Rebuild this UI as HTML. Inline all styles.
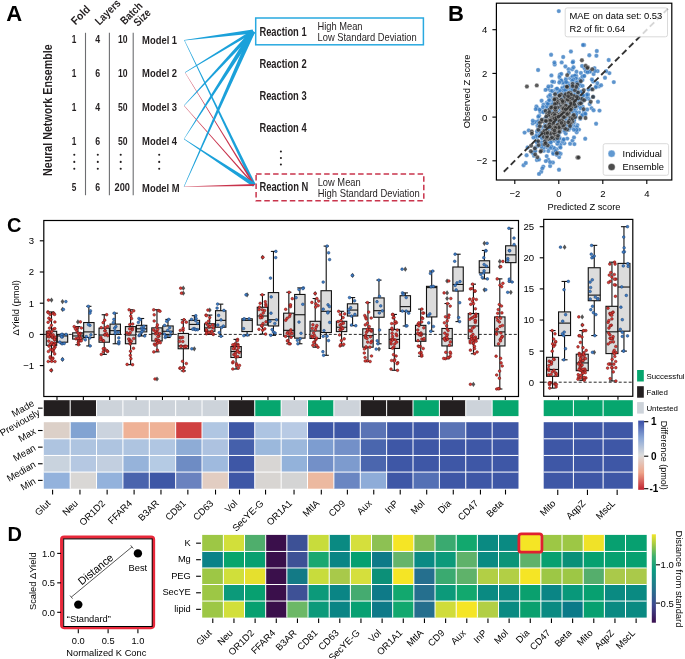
<!DOCTYPE html>
<html><head><meta charset="utf-8"><style>
html,body{margin:0;padding:0;background:#fff;}
svg{display:block;font-family:"Liberation Sans",sans-serif;will-change:transform;}
</style></head><body>
<svg width="685" height="659" viewBox="0 0 685 659">
<text x="6.30" y="21.30" font-size="22" font-weight="bold">A</text>
<text x="75.60" y="25.40" font-size="11.2" font-weight="bold" fill="#231f20" textLength="21.8" lengthAdjust="spacingAndGlyphs" transform="rotate(-45 75.60 25.40)">Fold</text>
<text x="99.40" y="25.80" font-size="11.2" font-weight="bold" fill="#231f20" textLength="31" lengthAdjust="spacingAndGlyphs" transform="rotate(-45 99.40 25.80)">Layers</text>
<text x="124.80" y="25.20" font-size="11.2" font-weight="bold" fill="#231f20" textLength="26" lengthAdjust="spacingAndGlyphs" transform="rotate(-45 124.80 25.20)">Batch</text>
<text x="138.10" y="26.90" font-size="11.2" font-weight="bold" fill="#231f20" textLength="19" lengthAdjust="spacingAndGlyphs" transform="rotate(-45 138.10 26.90)">Size</text>
<line x1="85.50" y1="32.80" x2="85.50" y2="195.20" stroke="#6d6e71" stroke-width="1.1"/>
<line x1="109.40" y1="32.80" x2="109.40" y2="195.20" stroke="#6d6e71" stroke-width="1.1"/>
<line x1="133.20" y1="32.80" x2="133.20" y2="195.20" stroke="#6d6e71" stroke-width="1.1"/>
<text x="74.00" y="42.70" font-size="10.5" font-weight="bold" text-anchor="middle" fill="#231f20" textLength="4.6" lengthAdjust="spacingAndGlyphs">1</text>
<text x="97.80" y="42.70" font-size="10.5" font-weight="bold" text-anchor="middle" fill="#231f20" textLength="4.9" lengthAdjust="spacingAndGlyphs">4</text>
<text x="122.70" y="42.70" font-size="10.5" font-weight="bold" text-anchor="middle" fill="#231f20" textLength="9.6" lengthAdjust="spacingAndGlyphs">10</text>
<text x="74.00" y="76.50" font-size="10.5" font-weight="bold" text-anchor="middle" fill="#231f20" textLength="4.6" lengthAdjust="spacingAndGlyphs">1</text>
<text x="97.80" y="76.50" font-size="10.5" font-weight="bold" text-anchor="middle" fill="#231f20" textLength="4.9" lengthAdjust="spacingAndGlyphs">6</text>
<text x="122.70" y="76.50" font-size="10.5" font-weight="bold" text-anchor="middle" fill="#231f20" textLength="9.6" lengthAdjust="spacingAndGlyphs">10</text>
<text x="74.00" y="110.50" font-size="10.5" font-weight="bold" text-anchor="middle" fill="#231f20" textLength="4.6" lengthAdjust="spacingAndGlyphs">1</text>
<text x="97.80" y="110.50" font-size="10.5" font-weight="bold" text-anchor="middle" fill="#231f20" textLength="4.9" lengthAdjust="spacingAndGlyphs">4</text>
<text x="122.70" y="110.50" font-size="10.5" font-weight="bold" text-anchor="middle" fill="#231f20" textLength="9.6" lengthAdjust="spacingAndGlyphs">50</text>
<text x="74.00" y="144.50" font-size="10.5" font-weight="bold" text-anchor="middle" fill="#231f20" textLength="4.6" lengthAdjust="spacingAndGlyphs">1</text>
<text x="97.80" y="144.50" font-size="10.5" font-weight="bold" text-anchor="middle" fill="#231f20" textLength="4.9" lengthAdjust="spacingAndGlyphs">6</text>
<text x="122.70" y="144.50" font-size="10.5" font-weight="bold" text-anchor="middle" fill="#231f20" textLength="9.6" lengthAdjust="spacingAndGlyphs">50</text>
<text x="74.00" y="191.00" font-size="10.5" font-weight="bold" text-anchor="middle" fill="#231f20" textLength="4.6" lengthAdjust="spacingAndGlyphs">5</text>
<text x="97.80" y="191.00" font-size="10.5" font-weight="bold" text-anchor="middle" fill="#231f20" textLength="4.9" lengthAdjust="spacingAndGlyphs">6</text>
<text x="122.30" y="191.00" font-size="10.5" font-weight="bold" text-anchor="middle" fill="#231f20" textLength="15.4" lengthAdjust="spacingAndGlyphs">200</text>
<text x="142.10" y="43.60" font-size="11.5" font-weight="bold" fill="#231f20" textLength="35" lengthAdjust="spacingAndGlyphs">Model 1</text>
<text x="142.10" y="77.40" font-size="11.5" font-weight="bold" fill="#231f20" textLength="35" lengthAdjust="spacingAndGlyphs">Model 2</text>
<text x="142.10" y="111.40" font-size="11.5" font-weight="bold" fill="#231f20" textLength="35" lengthAdjust="spacingAndGlyphs">Model 3</text>
<text x="142.10" y="145.40" font-size="11.5" font-weight="bold" fill="#231f20" textLength="35" lengthAdjust="spacingAndGlyphs">Model 4</text>
<text x="142.10" y="191.90" font-size="11.5" font-weight="bold" fill="#231f20" textLength="37.5" lengthAdjust="spacingAndGlyphs">Model M</text>
<circle cx="74.3" cy="154.8" r="1.05" fill="#231f20"/>
<circle cx="74.3" cy="161.9" r="1.05" fill="#231f20"/>
<circle cx="74.3" cy="168.7" r="1.05" fill="#231f20"/>
<circle cx="97.8" cy="154.8" r="1.05" fill="#231f20"/>
<circle cx="97.8" cy="161.9" r="1.05" fill="#231f20"/>
<circle cx="97.8" cy="168.7" r="1.05" fill="#231f20"/>
<circle cx="120.7" cy="154.8" r="1.05" fill="#231f20"/>
<circle cx="120.7" cy="161.9" r="1.05" fill="#231f20"/>
<circle cx="120.7" cy="168.7" r="1.05" fill="#231f20"/>
<circle cx="159.2" cy="154.8" r="1.05" fill="#231f20"/>
<circle cx="159.2" cy="161.9" r="1.05" fill="#231f20"/>
<circle cx="159.2" cy="168.7" r="1.05" fill="#231f20"/>
<circle cx="280.9" cy="151.5" r="1.05" fill="#231f20"/>
<circle cx="280.9" cy="158.0" r="1.05" fill="#231f20"/>
<circle cx="280.9" cy="164.5" r="1.05" fill="#231f20"/>
<text x="52.40" y="176.00" font-size="13" font-weight="bold" fill="#231f20" textLength="131.7" lengthAdjust="spacingAndGlyphs" transform="rotate(-90 52.40 176.00)">Neural Network Ensemble</text>
<polygon points="184.12,40.29 252.76,185.70 255.64,184.30 184.48,40.11" fill="#1ba1da"/>
<polygon points="184.87,72.58 253.52,185.42 254.88,184.58 185.13,72.42" fill="#c8324b"/>
<polygon points="183.89,105.70 253.60,185.53 254.80,184.47 184.11,105.50" fill="#c8324b"/>
<polygon points="183.89,139.17 253.10,186.67 255.30,183.33 184.11,138.83" fill="#1ba1da"/>
<polygon points="184.00,186.85 254.22,185.90 254.18,184.10 184.00,186.55" fill="#c8324b"/>
<polygon points="184.33,40.40 253.25,33.38 252.75,29.42 184.27,40.00" fill="#1ba1da"/>
<polygon points="185.10,72.67 253.78,32.68 252.22,30.12 184.90,72.33" fill="#1ba1da"/>
<polygon points="184.15,105.74 254.54,32.83 251.46,29.97 183.85,105.46" fill="#1ba1da"/>
<polygon points="184.17,139.11 255.10,32.75 250.90,30.05 183.83,138.89" fill="#1ba1da"/>
<polygon points="184.18,186.78 255.10,32.33 250.90,30.47 183.82,186.62" fill="#1ba1da"/>
<text x="259.40" y="36.00" font-size="12.5" font-weight="bold" fill="#231f20" textLength="47.2" lengthAdjust="spacingAndGlyphs">Reaction 1</text>
<text x="259.40" y="68.30" font-size="12.5" font-weight="bold" fill="#231f20" textLength="47.2" lengthAdjust="spacingAndGlyphs">Reaction 2</text>
<text x="259.40" y="100.30" font-size="12.5" font-weight="bold" fill="#231f20" textLength="47.2" lengthAdjust="spacingAndGlyphs">Reaction 3</text>
<text x="259.40" y="132.20" font-size="12.5" font-weight="bold" fill="#231f20" textLength="47.2" lengthAdjust="spacingAndGlyphs">Reaction 4</text>
<text x="259.40" y="191.00" font-size="12.5" font-weight="bold" fill="#231f20" textLength="49" lengthAdjust="spacingAndGlyphs">Reaction N</text>
<rect x="255.70" y="18.00" width="167.70" height="26.80" fill="none" stroke="#29a9e0" stroke-width="1.5"/>
<rect x="256.1" y="174.0" width="167.7" height="26.8" fill="none" stroke="#c9344c" stroke-width="1.5" stroke-dasharray="5.5 3"/>
<text x="317.50" y="29.90" font-size="11" fill="#231f20" textLength="45" lengthAdjust="spacingAndGlyphs">High Mean</text>
<text x="317.50" y="41.00" font-size="11" fill="#231f20" textLength="99.2" lengthAdjust="spacingAndGlyphs">Low Standard Deviation</text>
<text x="317.70" y="185.50" font-size="11" fill="#231f20" textLength="43" lengthAdjust="spacingAndGlyphs">Low Mean</text>
<text x="317.70" y="196.90" font-size="11" fill="#231f20" textLength="102" lengthAdjust="spacingAndGlyphs">High Standard Deviation</text>
<text x="448.00" y="21.00" font-size="22" font-weight="bold">B</text>
<g>
<circle cx="543.7" cy="120.9" r="2.2" fill="#3479c0" fill-opacity="0.8" stroke="#fff" stroke-width="0.3"/>
<circle cx="575.9" cy="109.7" r="2.2" fill="#3479c0" fill-opacity="0.8" stroke="#fff" stroke-width="0.3"/>
<circle cx="542.1" cy="130.2" r="2.2" fill="#3479c0" fill-opacity="0.8" stroke="#fff" stroke-width="0.3"/>
<circle cx="568.4" cy="87.2" r="2.2" fill="#3479c0" fill-opacity="0.8" stroke="#fff" stroke-width="0.3"/>
<circle cx="543.8" cy="150.8" r="2.2" fill="#3479c0" fill-opacity="0.8" stroke="#fff" stroke-width="0.3"/>
<circle cx="571.7" cy="95.5" r="2.2" fill="#3479c0" fill-opacity="0.8" stroke="#fff" stroke-width="0.3"/>
<circle cx="583.7" cy="76.3" r="2.2" fill="#3479c0" fill-opacity="0.8" stroke="#fff" stroke-width="0.3"/>
<circle cx="560.0" cy="118.8" r="2.2" fill="#3479c0" fill-opacity="0.8" stroke="#fff" stroke-width="0.3"/>
<circle cx="598.8" cy="86.4" r="2.2" fill="#3479c0" fill-opacity="0.8" stroke="#fff" stroke-width="0.3"/>
<circle cx="550.0" cy="142.7" r="2.2" fill="#3479c0" fill-opacity="0.8" stroke="#fff" stroke-width="0.3"/>
<circle cx="562.8" cy="108.9" r="2.2" fill="#3479c0" fill-opacity="0.8" stroke="#fff" stroke-width="0.3"/>
<circle cx="556.4" cy="118.0" r="2.2" fill="#3479c0" fill-opacity="0.8" stroke="#fff" stroke-width="0.3"/>
<circle cx="565.4" cy="96.9" r="2.2" fill="#3479c0" fill-opacity="0.8" stroke="#fff" stroke-width="0.3"/>
<circle cx="577.4" cy="95.5" r="2.2" fill="#3479c0" fill-opacity="0.8" stroke="#fff" stroke-width="0.3"/>
<circle cx="535.5" cy="122.1" r="2.2" fill="#3479c0" fill-opacity="0.8" stroke="#fff" stroke-width="0.3"/>
<circle cx="540.8" cy="133.2" r="2.2" fill="#3479c0" fill-opacity="0.8" stroke="#fff" stroke-width="0.3"/>
<circle cx="540.0" cy="130.7" r="2.2" fill="#3479c0" fill-opacity="0.8" stroke="#fff" stroke-width="0.3"/>
<circle cx="550.1" cy="118.4" r="2.2" fill="#3479c0" fill-opacity="0.8" stroke="#fff" stroke-width="0.3"/>
<circle cx="609.4" cy="73.1" r="2.2" fill="#3479c0" fill-opacity="0.8" stroke="#fff" stroke-width="0.3"/>
<circle cx="573.7" cy="126.1" r="2.2" fill="#3479c0" fill-opacity="0.8" stroke="#fff" stroke-width="0.3"/>
<circle cx="557.3" cy="104.3" r="2.2" fill="#3479c0" fill-opacity="0.8" stroke="#fff" stroke-width="0.3"/>
<circle cx="560.1" cy="107.2" r="2.2" fill="#3479c0" fill-opacity="0.8" stroke="#fff" stroke-width="0.3"/>
<circle cx="562.9" cy="129.4" r="2.2" fill="#3479c0" fill-opacity="0.8" stroke="#fff" stroke-width="0.3"/>
<circle cx="569.6" cy="120.3" r="2.2" fill="#3479c0" fill-opacity="0.8" stroke="#fff" stroke-width="0.3"/>
<circle cx="588.6" cy="98.8" r="2.2" fill="#3479c0" fill-opacity="0.8" stroke="#fff" stroke-width="0.3"/>
<circle cx="571.4" cy="104.2" r="2.2" fill="#3479c0" fill-opacity="0.8" stroke="#fff" stroke-width="0.3"/>
<circle cx="575.3" cy="111.8" r="2.2" fill="#3479c0" fill-opacity="0.8" stroke="#fff" stroke-width="0.3"/>
<circle cx="575.9" cy="102.7" r="2.2" fill="#3479c0" fill-opacity="0.8" stroke="#fff" stroke-width="0.3"/>
<circle cx="579.8" cy="86.0" r="2.2" fill="#3479c0" fill-opacity="0.8" stroke="#fff" stroke-width="0.3"/>
<circle cx="563.5" cy="124.9" r="2.2" fill="#3479c0" fill-opacity="0.8" stroke="#fff" stroke-width="0.3"/>
<circle cx="572.6" cy="94.9" r="2.2" fill="#3479c0" fill-opacity="0.8" stroke="#fff" stroke-width="0.3"/>
<circle cx="585.3" cy="99.3" r="2.2" fill="#3479c0" fill-opacity="0.8" stroke="#fff" stroke-width="0.3"/>
<circle cx="569.5" cy="96.8" r="2.2" fill="#3479c0" fill-opacity="0.8" stroke="#fff" stroke-width="0.3"/>
<circle cx="565.5" cy="105.5" r="2.2" fill="#3479c0" fill-opacity="0.8" stroke="#fff" stroke-width="0.3"/>
<circle cx="564.1" cy="121.2" r="2.2" fill="#3479c0" fill-opacity="0.8" stroke="#fff" stroke-width="0.3"/>
<circle cx="546.7" cy="132.2" r="2.2" fill="#3479c0" fill-opacity="0.8" stroke="#fff" stroke-width="0.3"/>
<circle cx="570.0" cy="78.4" r="2.2" fill="#3479c0" fill-opacity="0.8" stroke="#fff" stroke-width="0.3"/>
<circle cx="575.6" cy="81.8" r="2.2" fill="#3479c0" fill-opacity="0.8" stroke="#fff" stroke-width="0.3"/>
<circle cx="572.7" cy="90.6" r="2.2" fill="#3479c0" fill-opacity="0.8" stroke="#fff" stroke-width="0.3"/>
<circle cx="564.1" cy="96.6" r="2.2" fill="#3479c0" fill-opacity="0.8" stroke="#fff" stroke-width="0.3"/>
<circle cx="587.2" cy="96.8" r="2.2" fill="#3479c0" fill-opacity="0.8" stroke="#fff" stroke-width="0.3"/>
<circle cx="551.4" cy="86.1" r="2.2" fill="#3479c0" fill-opacity="0.8" stroke="#fff" stroke-width="0.3"/>
<circle cx="565.0" cy="92.3" r="2.2" fill="#3479c0" fill-opacity="0.8" stroke="#fff" stroke-width="0.3"/>
<circle cx="574.1" cy="122.3" r="2.2" fill="#3479c0" fill-opacity="0.8" stroke="#fff" stroke-width="0.3"/>
<circle cx="596.8" cy="51.0" r="2.2" fill="#3479c0" fill-opacity="0.8" stroke="#fff" stroke-width="0.3"/>
<circle cx="564.0" cy="97.0" r="2.2" fill="#3479c0" fill-opacity="0.8" stroke="#fff" stroke-width="0.3"/>
<circle cx="563.3" cy="127.0" r="2.2" fill="#3479c0" fill-opacity="0.8" stroke="#fff" stroke-width="0.3"/>
<circle cx="559.8" cy="107.4" r="2.2" fill="#3479c0" fill-opacity="0.8" stroke="#fff" stroke-width="0.3"/>
<circle cx="577.6" cy="86.3" r="2.2" fill="#3479c0" fill-opacity="0.8" stroke="#fff" stroke-width="0.3"/>
<circle cx="562.3" cy="87.7" r="2.2" fill="#3479c0" fill-opacity="0.8" stroke="#fff" stroke-width="0.3"/>
<circle cx="550.4" cy="107.8" r="2.2" fill="#3479c0" fill-opacity="0.8" stroke="#fff" stroke-width="0.3"/>
<circle cx="577.6" cy="104.3" r="2.2" fill="#3479c0" fill-opacity="0.8" stroke="#fff" stroke-width="0.3"/>
<circle cx="535.4" cy="150.9" r="2.2" fill="#3479c0" fill-opacity="0.8" stroke="#fff" stroke-width="0.3"/>
<circle cx="564.9" cy="100.3" r="2.2" fill="#3479c0" fill-opacity="0.8" stroke="#fff" stroke-width="0.3"/>
<circle cx="583.9" cy="111.7" r="2.2" fill="#3479c0" fill-opacity="0.8" stroke="#fff" stroke-width="0.3"/>
<circle cx="561.5" cy="101.0" r="2.2" fill="#3479c0" fill-opacity="0.8" stroke="#fff" stroke-width="0.3"/>
<circle cx="559.2" cy="157.1" r="2.2" fill="#3479c0" fill-opacity="0.8" stroke="#fff" stroke-width="0.3"/>
<circle cx="573.1" cy="61.4" r="2.2" fill="#3479c0" fill-opacity="0.8" stroke="#fff" stroke-width="0.3"/>
<circle cx="576.0" cy="116.8" r="2.2" fill="#3479c0" fill-opacity="0.8" stroke="#fff" stroke-width="0.3"/>
<circle cx="555.5" cy="113.8" r="2.2" fill="#3479c0" fill-opacity="0.8" stroke="#fff" stroke-width="0.3"/>
<circle cx="597.6" cy="71.1" r="2.2" fill="#3479c0" fill-opacity="0.8" stroke="#fff" stroke-width="0.3"/>
<circle cx="563.1" cy="83.4" r="2.2" fill="#3479c0" fill-opacity="0.8" stroke="#fff" stroke-width="0.3"/>
<circle cx="560.3" cy="80.3" r="2.2" fill="#3479c0" fill-opacity="0.8" stroke="#fff" stroke-width="0.3"/>
<circle cx="551.5" cy="129.6" r="2.2" fill="#3479c0" fill-opacity="0.8" stroke="#fff" stroke-width="0.3"/>
<circle cx="571.9" cy="78.3" r="2.2" fill="#3479c0" fill-opacity="0.8" stroke="#fff" stroke-width="0.3"/>
<circle cx="570.9" cy="99.3" r="2.2" fill="#3479c0" fill-opacity="0.8" stroke="#fff" stroke-width="0.3"/>
<circle cx="535.0" cy="147.8" r="2.2" fill="#3479c0" fill-opacity="0.8" stroke="#fff" stroke-width="0.3"/>
<circle cx="552.6" cy="129.7" r="2.2" fill="#3479c0" fill-opacity="0.8" stroke="#fff" stroke-width="0.3"/>
<circle cx="570.0" cy="111.5" r="2.2" fill="#3479c0" fill-opacity="0.8" stroke="#fff" stroke-width="0.3"/>
<circle cx="572.9" cy="101.6" r="2.2" fill="#3479c0" fill-opacity="0.8" stroke="#fff" stroke-width="0.3"/>
<circle cx="556.6" cy="114.6" r="2.2" fill="#3479c0" fill-opacity="0.8" stroke="#fff" stroke-width="0.3"/>
<circle cx="567.7" cy="92.1" r="2.2" fill="#3479c0" fill-opacity="0.8" stroke="#fff" stroke-width="0.3"/>
<circle cx="554.5" cy="122.7" r="2.2" fill="#3479c0" fill-opacity="0.8" stroke="#fff" stroke-width="0.3"/>
<circle cx="541.6" cy="100.7" r="2.2" fill="#3479c0" fill-opacity="0.8" stroke="#fff" stroke-width="0.3"/>
<circle cx="582.5" cy="98.1" r="2.2" fill="#3479c0" fill-opacity="0.8" stroke="#fff" stroke-width="0.3"/>
<circle cx="554.5" cy="140.7" r="2.2" fill="#3479c0" fill-opacity="0.8" stroke="#fff" stroke-width="0.3"/>
<circle cx="563.9" cy="106.9" r="2.2" fill="#3479c0" fill-opacity="0.8" stroke="#fff" stroke-width="0.3"/>
<circle cx="593.1" cy="81.5" r="2.2" fill="#3479c0" fill-opacity="0.8" stroke="#fff" stroke-width="0.3"/>
<circle cx="550.1" cy="166.0" r="2.2" fill="#3479c0" fill-opacity="0.8" stroke="#fff" stroke-width="0.3"/>
<circle cx="581.9" cy="92.0" r="2.2" fill="#3479c0" fill-opacity="0.8" stroke="#fff" stroke-width="0.3"/>
<circle cx="538.1" cy="129.2" r="2.2" fill="#3479c0" fill-opacity="0.8" stroke="#fff" stroke-width="0.3"/>
<circle cx="538.1" cy="70.0" r="2.2" fill="#3479c0" fill-opacity="0.8" stroke="#fff" stroke-width="0.3"/>
<circle cx="577.7" cy="88.7" r="2.2" fill="#3479c0" fill-opacity="0.8" stroke="#fff" stroke-width="0.3"/>
<circle cx="558.9" cy="153.2" r="2.2" fill="#3479c0" fill-opacity="0.8" stroke="#fff" stroke-width="0.3"/>
<circle cx="559.6" cy="142.1" r="2.2" fill="#3479c0" fill-opacity="0.8" stroke="#fff" stroke-width="0.3"/>
<circle cx="570.1" cy="143.7" r="2.2" fill="#3479c0" fill-opacity="0.8" stroke="#fff" stroke-width="0.3"/>
<circle cx="548.3" cy="102.0" r="2.2" fill="#3479c0" fill-opacity="0.8" stroke="#fff" stroke-width="0.3"/>
<circle cx="585.3" cy="113.7" r="2.2" fill="#3479c0" fill-opacity="0.8" stroke="#fff" stroke-width="0.3"/>
<circle cx="539.2" cy="115.7" r="2.2" fill="#3479c0" fill-opacity="0.8" stroke="#fff" stroke-width="0.3"/>
<circle cx="573.8" cy="119.9" r="2.2" fill="#3479c0" fill-opacity="0.8" stroke="#fff" stroke-width="0.3"/>
<circle cx="551.4" cy="133.6" r="2.2" fill="#3479c0" fill-opacity="0.8" stroke="#fff" stroke-width="0.3"/>
<circle cx="544.2" cy="139.5" r="2.2" fill="#3479c0" fill-opacity="0.8" stroke="#fff" stroke-width="0.3"/>
<circle cx="579.6" cy="85.0" r="2.2" fill="#3479c0" fill-opacity="0.8" stroke="#fff" stroke-width="0.3"/>
<circle cx="591.3" cy="89.0" r="2.2" fill="#3479c0" fill-opacity="0.8" stroke="#fff" stroke-width="0.3"/>
<circle cx="559.5" cy="131.9" r="2.2" fill="#3479c0" fill-opacity="0.8" stroke="#fff" stroke-width="0.3"/>
<circle cx="559.6" cy="137.7" r="2.2" fill="#3479c0" fill-opacity="0.8" stroke="#fff" stroke-width="0.3"/>
<circle cx="535.6" cy="122.0" r="2.2" fill="#3479c0" fill-opacity="0.8" stroke="#fff" stroke-width="0.3"/>
<circle cx="582.4" cy="80.0" r="2.2" fill="#3479c0" fill-opacity="0.8" stroke="#fff" stroke-width="0.3"/>
<circle cx="580.8" cy="91.8" r="2.2" fill="#3479c0" fill-opacity="0.8" stroke="#fff" stroke-width="0.3"/>
<circle cx="551.0" cy="119.9" r="2.2" fill="#3479c0" fill-opacity="0.8" stroke="#fff" stroke-width="0.3"/>
<circle cx="556.0" cy="137.2" r="2.2" fill="#3479c0" fill-opacity="0.8" stroke="#fff" stroke-width="0.3"/>
<circle cx="536.9" cy="160.0" r="2.2" fill="#3479c0" fill-opacity="0.8" stroke="#fff" stroke-width="0.3"/>
<circle cx="561.4" cy="110.1" r="2.2" fill="#3479c0" fill-opacity="0.8" stroke="#fff" stroke-width="0.3"/>
<circle cx="554.5" cy="92.9" r="2.2" fill="#3479c0" fill-opacity="0.8" stroke="#fff" stroke-width="0.3"/>
<circle cx="564.0" cy="100.0" r="2.2" fill="#3479c0" fill-opacity="0.8" stroke="#fff" stroke-width="0.3"/>
<circle cx="579.1" cy="112.4" r="2.2" fill="#3479c0" fill-opacity="0.8" stroke="#fff" stroke-width="0.3"/>
<circle cx="532.8" cy="123.4" r="2.2" fill="#3479c0" fill-opacity="0.8" stroke="#fff" stroke-width="0.3"/>
<circle cx="551.4" cy="97.6" r="2.2" fill="#3479c0" fill-opacity="0.8" stroke="#fff" stroke-width="0.3"/>
<circle cx="566.3" cy="90.5" r="2.2" fill="#3479c0" fill-opacity="0.8" stroke="#fff" stroke-width="0.3"/>
<circle cx="572.5" cy="140.6" r="2.2" fill="#3479c0" fill-opacity="0.8" stroke="#fff" stroke-width="0.3"/>
<circle cx="571.9" cy="115.9" r="2.2" fill="#3479c0" fill-opacity="0.8" stroke="#fff" stroke-width="0.3"/>
<circle cx="550.5" cy="129.8" r="2.2" fill="#3479c0" fill-opacity="0.8" stroke="#fff" stroke-width="0.3"/>
<circle cx="572.6" cy="87.4" r="2.2" fill="#3479c0" fill-opacity="0.8" stroke="#fff" stroke-width="0.3"/>
<circle cx="576.1" cy="130.0" r="2.2" fill="#3479c0" fill-opacity="0.8" stroke="#fff" stroke-width="0.3"/>
<circle cx="552.9" cy="162.5" r="2.2" fill="#3479c0" fill-opacity="0.8" stroke="#fff" stroke-width="0.3"/>
<circle cx="560.0" cy="103.2" r="2.2" fill="#3479c0" fill-opacity="0.8" stroke="#fff" stroke-width="0.3"/>
<circle cx="550.3" cy="117.7" r="2.2" fill="#3479c0" fill-opacity="0.8" stroke="#fff" stroke-width="0.3"/>
<circle cx="564.8" cy="91.8" r="2.2" fill="#3479c0" fill-opacity="0.8" stroke="#fff" stroke-width="0.3"/>
<circle cx="549.5" cy="137.6" r="2.2" fill="#3479c0" fill-opacity="0.8" stroke="#fff" stroke-width="0.3"/>
<circle cx="550.4" cy="90.6" r="2.2" fill="#3479c0" fill-opacity="0.8" stroke="#fff" stroke-width="0.3"/>
<circle cx="577.3" cy="101.5" r="2.2" fill="#3479c0" fill-opacity="0.8" stroke="#fff" stroke-width="0.3"/>
<circle cx="564.7" cy="107.9" r="2.2" fill="#3479c0" fill-opacity="0.8" stroke="#fff" stroke-width="0.3"/>
<circle cx="564.4" cy="113.9" r="2.2" fill="#3479c0" fill-opacity="0.8" stroke="#fff" stroke-width="0.3"/>
<circle cx="556.6" cy="139.3" r="2.2" fill="#3479c0" fill-opacity="0.8" stroke="#fff" stroke-width="0.3"/>
<circle cx="552.1" cy="91.0" r="2.2" fill="#3479c0" fill-opacity="0.8" stroke="#fff" stroke-width="0.3"/>
<circle cx="569.2" cy="104.9" r="2.2" fill="#3479c0" fill-opacity="0.8" stroke="#fff" stroke-width="0.3"/>
<circle cx="558.3" cy="114.2" r="2.2" fill="#3479c0" fill-opacity="0.8" stroke="#fff" stroke-width="0.3"/>
<circle cx="566.6" cy="119.9" r="2.2" fill="#3479c0" fill-opacity="0.8" stroke="#fff" stroke-width="0.3"/>
<circle cx="564.3" cy="106.0" r="2.2" fill="#3479c0" fill-opacity="0.8" stroke="#fff" stroke-width="0.3"/>
<circle cx="550.6" cy="136.0" r="2.2" fill="#3479c0" fill-opacity="0.8" stroke="#fff" stroke-width="0.3"/>
<circle cx="546.9" cy="144.0" r="2.2" fill="#3479c0" fill-opacity="0.8" stroke="#fff" stroke-width="0.3"/>
<circle cx="574.4" cy="144.1" r="2.2" fill="#3479c0" fill-opacity="0.8" stroke="#fff" stroke-width="0.3"/>
<circle cx="557.6" cy="126.9" r="2.2" fill="#3479c0" fill-opacity="0.8" stroke="#fff" stroke-width="0.3"/>
<circle cx="552.4" cy="118.5" r="2.2" fill="#3479c0" fill-opacity="0.8" stroke="#fff" stroke-width="0.3"/>
<circle cx="577.8" cy="97.5" r="2.2" fill="#3479c0" fill-opacity="0.8" stroke="#fff" stroke-width="0.3"/>
<circle cx="559.4" cy="125.4" r="2.2" fill="#3479c0" fill-opacity="0.8" stroke="#fff" stroke-width="0.3"/>
<circle cx="559.6" cy="97.9" r="2.2" fill="#3479c0" fill-opacity="0.8" stroke="#fff" stroke-width="0.3"/>
<circle cx="555.7" cy="138.1" r="2.2" fill="#3479c0" fill-opacity="0.8" stroke="#fff" stroke-width="0.3"/>
<circle cx="543.1" cy="148.0" r="2.2" fill="#3479c0" fill-opacity="0.8" stroke="#fff" stroke-width="0.3"/>
<circle cx="541.3" cy="110.0" r="2.2" fill="#3479c0" fill-opacity="0.8" stroke="#fff" stroke-width="0.3"/>
<circle cx="566.6" cy="112.6" r="2.2" fill="#3479c0" fill-opacity="0.8" stroke="#fff" stroke-width="0.3"/>
<circle cx="582.6" cy="106.6" r="2.2" fill="#3479c0" fill-opacity="0.8" stroke="#fff" stroke-width="0.3"/>
<circle cx="572.4" cy="89.1" r="2.2" fill="#3479c0" fill-opacity="0.8" stroke="#fff" stroke-width="0.3"/>
<circle cx="539.0" cy="159.5" r="2.2" fill="#3479c0" fill-opacity="0.8" stroke="#fff" stroke-width="0.3"/>
<circle cx="548.0" cy="107.8" r="2.2" fill="#3479c0" fill-opacity="0.8" stroke="#fff" stroke-width="0.3"/>
<circle cx="580.3" cy="118.8" r="2.2" fill="#3479c0" fill-opacity="0.8" stroke="#fff" stroke-width="0.3"/>
<circle cx="576.7" cy="106.7" r="2.2" fill="#3479c0" fill-opacity="0.8" stroke="#fff" stroke-width="0.3"/>
<circle cx="555.7" cy="127.4" r="2.2" fill="#3479c0" fill-opacity="0.8" stroke="#fff" stroke-width="0.3"/>
<circle cx="556.7" cy="149.2" r="2.2" fill="#3479c0" fill-opacity="0.8" stroke="#fff" stroke-width="0.3"/>
<circle cx="546.9" cy="147.1" r="2.2" fill="#3479c0" fill-opacity="0.8" stroke="#fff" stroke-width="0.3"/>
<circle cx="568.6" cy="69.2" r="2.2" fill="#3479c0" fill-opacity="0.8" stroke="#fff" stroke-width="0.3"/>
<circle cx="601.1" cy="85.2" r="2.2" fill="#3479c0" fill-opacity="0.8" stroke="#fff" stroke-width="0.3"/>
<circle cx="536.4" cy="141.1" r="2.2" fill="#3479c0" fill-opacity="0.8" stroke="#fff" stroke-width="0.3"/>
<circle cx="547.8" cy="88.7" r="2.2" fill="#3479c0" fill-opacity="0.8" stroke="#fff" stroke-width="0.3"/>
<circle cx="569.7" cy="118.7" r="2.2" fill="#3479c0" fill-opacity="0.8" stroke="#fff" stroke-width="0.3"/>
<circle cx="575.0" cy="91.6" r="2.2" fill="#3479c0" fill-opacity="0.8" stroke="#fff" stroke-width="0.3"/>
<circle cx="537.8" cy="142.1" r="2.2" fill="#3479c0" fill-opacity="0.8" stroke="#fff" stroke-width="0.3"/>
<circle cx="558.0" cy="115.3" r="2.2" fill="#3479c0" fill-opacity="0.8" stroke="#fff" stroke-width="0.3"/>
<circle cx="563.4" cy="117.1" r="2.2" fill="#3479c0" fill-opacity="0.8" stroke="#fff" stroke-width="0.3"/>
<circle cx="564.2" cy="120.9" r="2.2" fill="#3479c0" fill-opacity="0.8" stroke="#fff" stroke-width="0.3"/>
<circle cx="548.4" cy="96.5" r="2.2" fill="#3479c0" fill-opacity="0.8" stroke="#fff" stroke-width="0.3"/>
<circle cx="566.7" cy="100.4" r="2.2" fill="#3479c0" fill-opacity="0.8" stroke="#fff" stroke-width="0.3"/>
<circle cx="538.3" cy="135.2" r="2.2" fill="#3479c0" fill-opacity="0.8" stroke="#fff" stroke-width="0.3"/>
<circle cx="573.3" cy="125.8" r="2.2" fill="#3479c0" fill-opacity="0.8" stroke="#fff" stroke-width="0.3"/>
<circle cx="577.4" cy="106.2" r="2.2" fill="#3479c0" fill-opacity="0.8" stroke="#fff" stroke-width="0.3"/>
<circle cx="567.3" cy="110.1" r="2.2" fill="#3479c0" fill-opacity="0.8" stroke="#fff" stroke-width="0.3"/>
<circle cx="564.6" cy="88.4" r="2.2" fill="#3479c0" fill-opacity="0.8" stroke="#fff" stroke-width="0.3"/>
<circle cx="555.6" cy="89.6" r="2.2" fill="#3479c0" fill-opacity="0.8" stroke="#fff" stroke-width="0.3"/>
<circle cx="550.1" cy="139.0" r="2.2" fill="#3479c0" fill-opacity="0.8" stroke="#fff" stroke-width="0.3"/>
<circle cx="571.8" cy="123.1" r="2.2" fill="#3479c0" fill-opacity="0.8" stroke="#fff" stroke-width="0.3"/>
<circle cx="556.1" cy="101.0" r="2.2" fill="#3479c0" fill-opacity="0.8" stroke="#fff" stroke-width="0.3"/>
<circle cx="579.0" cy="129.6" r="2.2" fill="#3479c0" fill-opacity="0.8" stroke="#fff" stroke-width="0.3"/>
<circle cx="568.8" cy="72.7" r="2.2" fill="#3479c0" fill-opacity="0.8" stroke="#fff" stroke-width="0.3"/>
<circle cx="578.8" cy="102.3" r="2.2" fill="#3479c0" fill-opacity="0.8" stroke="#fff" stroke-width="0.3"/>
<circle cx="552.7" cy="125.4" r="2.2" fill="#3479c0" fill-opacity="0.8" stroke="#fff" stroke-width="0.3"/>
<circle cx="544.7" cy="131.6" r="2.2" fill="#3479c0" fill-opacity="0.8" stroke="#fff" stroke-width="0.3"/>
<circle cx="558.7" cy="117.6" r="2.2" fill="#3479c0" fill-opacity="0.8" stroke="#fff" stroke-width="0.3"/>
<circle cx="578.6" cy="102.3" r="2.2" fill="#3479c0" fill-opacity="0.8" stroke="#fff" stroke-width="0.3"/>
<circle cx="540.3" cy="111.7" r="2.2" fill="#3479c0" fill-opacity="0.8" stroke="#fff" stroke-width="0.3"/>
<circle cx="545.9" cy="133.8" r="2.2" fill="#3479c0" fill-opacity="0.8" stroke="#fff" stroke-width="0.3"/>
<circle cx="559.5" cy="120.5" r="2.2" fill="#3479c0" fill-opacity="0.8" stroke="#fff" stroke-width="0.3"/>
<circle cx="546.9" cy="129.4" r="2.2" fill="#3479c0" fill-opacity="0.8" stroke="#fff" stroke-width="0.3"/>
<circle cx="593.2" cy="96.8" r="2.2" fill="#3479c0" fill-opacity="0.8" stroke="#fff" stroke-width="0.3"/>
<circle cx="559.5" cy="94.2" r="2.2" fill="#3479c0" fill-opacity="0.8" stroke="#fff" stroke-width="0.3"/>
<circle cx="572.3" cy="89.9" r="2.2" fill="#3479c0" fill-opacity="0.8" stroke="#fff" stroke-width="0.3"/>
<circle cx="574.0" cy="137.4" r="2.2" fill="#3479c0" fill-opacity="0.8" stroke="#fff" stroke-width="0.3"/>
<circle cx="548.9" cy="121.0" r="2.2" fill="#3479c0" fill-opacity="0.8" stroke="#fff" stroke-width="0.3"/>
<circle cx="568.7" cy="83.4" r="2.2" fill="#3479c0" fill-opacity="0.8" stroke="#fff" stroke-width="0.3"/>
<circle cx="568.3" cy="111.2" r="2.2" fill="#3479c0" fill-opacity="0.8" stroke="#fff" stroke-width="0.3"/>
<circle cx="562.0" cy="116.0" r="2.2" fill="#3479c0" fill-opacity="0.8" stroke="#fff" stroke-width="0.3"/>
<circle cx="565.0" cy="97.6" r="2.2" fill="#3479c0" fill-opacity="0.8" stroke="#fff" stroke-width="0.3"/>
<circle cx="556.5" cy="131.4" r="2.2" fill="#3479c0" fill-opacity="0.8" stroke="#fff" stroke-width="0.3"/>
<circle cx="549.0" cy="103.5" r="2.2" fill="#3479c0" fill-opacity="0.8" stroke="#fff" stroke-width="0.3"/>
<circle cx="580.0" cy="79.2" r="2.2" fill="#3479c0" fill-opacity="0.8" stroke="#fff" stroke-width="0.3"/>
<circle cx="573.9" cy="87.3" r="2.2" fill="#3479c0" fill-opacity="0.8" stroke="#fff" stroke-width="0.3"/>
<circle cx="561.4" cy="100.8" r="2.2" fill="#3479c0" fill-opacity="0.8" stroke="#fff" stroke-width="0.3"/>
<circle cx="546.2" cy="129.2" r="2.2" fill="#3479c0" fill-opacity="0.8" stroke="#fff" stroke-width="0.3"/>
<circle cx="550.8" cy="108.7" r="2.2" fill="#3479c0" fill-opacity="0.8" stroke="#fff" stroke-width="0.3"/>
<circle cx="553.0" cy="121.7" r="2.2" fill="#3479c0" fill-opacity="0.8" stroke="#fff" stroke-width="0.3"/>
<circle cx="567.3" cy="83.5" r="2.2" fill="#3479c0" fill-opacity="0.8" stroke="#fff" stroke-width="0.3"/>
<circle cx="549.9" cy="139.2" r="2.2" fill="#3479c0" fill-opacity="0.8" stroke="#fff" stroke-width="0.3"/>
<circle cx="573.3" cy="122.5" r="2.2" fill="#3479c0" fill-opacity="0.8" stroke="#fff" stroke-width="0.3"/>
<circle cx="568.0" cy="117.4" r="2.2" fill="#3479c0" fill-opacity="0.8" stroke="#fff" stroke-width="0.3"/>
<circle cx="559.9" cy="146.6" r="2.2" fill="#3479c0" fill-opacity="0.8" stroke="#fff" stroke-width="0.3"/>
<circle cx="571.8" cy="112.9" r="2.2" fill="#3479c0" fill-opacity="0.8" stroke="#fff" stroke-width="0.3"/>
<circle cx="548.4" cy="86.5" r="2.2" fill="#3479c0" fill-opacity="0.8" stroke="#fff" stroke-width="0.3"/>
<circle cx="567.4" cy="113.9" r="2.2" fill="#3479c0" fill-opacity="0.8" stroke="#fff" stroke-width="0.3"/>
<circle cx="563.0" cy="82.6" r="2.2" fill="#3479c0" fill-opacity="0.8" stroke="#fff" stroke-width="0.3"/>
<circle cx="561.0" cy="104.9" r="2.2" fill="#3479c0" fill-opacity="0.8" stroke="#fff" stroke-width="0.3"/>
<circle cx="568.9" cy="122.7" r="2.2" fill="#3479c0" fill-opacity="0.8" stroke="#fff" stroke-width="0.3"/>
<circle cx="563.3" cy="120.1" r="2.2" fill="#3479c0" fill-opacity="0.8" stroke="#fff" stroke-width="0.3"/>
<circle cx="543.4" cy="112.3" r="2.2" fill="#3479c0" fill-opacity="0.8" stroke="#fff" stroke-width="0.3"/>
<circle cx="571.1" cy="103.2" r="2.2" fill="#3479c0" fill-opacity="0.8" stroke="#fff" stroke-width="0.3"/>
<circle cx="548.3" cy="159.7" r="2.2" fill="#3479c0" fill-opacity="0.8" stroke="#fff" stroke-width="0.3"/>
<circle cx="568.5" cy="108.5" r="2.2" fill="#3479c0" fill-opacity="0.8" stroke="#fff" stroke-width="0.3"/>
<circle cx="537.0" cy="134.4" r="2.2" fill="#3479c0" fill-opacity="0.8" stroke="#fff" stroke-width="0.3"/>
<circle cx="539.4" cy="131.8" r="2.2" fill="#3479c0" fill-opacity="0.8" stroke="#fff" stroke-width="0.3"/>
<circle cx="563.5" cy="104.6" r="2.2" fill="#3479c0" fill-opacity="0.8" stroke="#fff" stroke-width="0.3"/>
<circle cx="564.6" cy="107.0" r="2.2" fill="#3479c0" fill-opacity="0.8" stroke="#fff" stroke-width="0.3"/>
<circle cx="544.9" cy="133.5" r="2.2" fill="#3479c0" fill-opacity="0.8" stroke="#fff" stroke-width="0.3"/>
<circle cx="554.0" cy="123.2" r="2.2" fill="#3479c0" fill-opacity="0.8" stroke="#fff" stroke-width="0.3"/>
<circle cx="565.4" cy="98.3" r="2.2" fill="#3479c0" fill-opacity="0.8" stroke="#fff" stroke-width="0.3"/>
<circle cx="585.2" cy="138.7" r="2.2" fill="#3479c0" fill-opacity="0.8" stroke="#fff" stroke-width="0.3"/>
<circle cx="567.3" cy="111.3" r="2.2" fill="#3479c0" fill-opacity="0.8" stroke="#fff" stroke-width="0.3"/>
<circle cx="594.5" cy="68.1" r="2.2" fill="#3479c0" fill-opacity="0.8" stroke="#fff" stroke-width="0.3"/>
<circle cx="537.4" cy="125.8" r="2.2" fill="#3479c0" fill-opacity="0.8" stroke="#fff" stroke-width="0.3"/>
<circle cx="553.9" cy="101.3" r="2.2" fill="#3479c0" fill-opacity="0.8" stroke="#fff" stroke-width="0.3"/>
<circle cx="546.1" cy="127.4" r="2.2" fill="#3479c0" fill-opacity="0.8" stroke="#fff" stroke-width="0.3"/>
<circle cx="559.5" cy="116.0" r="2.2" fill="#3479c0" fill-opacity="0.8" stroke="#fff" stroke-width="0.3"/>
<circle cx="553.0" cy="152.8" r="2.2" fill="#3479c0" fill-opacity="0.8" stroke="#fff" stroke-width="0.3"/>
<circle cx="568.1" cy="89.1" r="2.2" fill="#3479c0" fill-opacity="0.8" stroke="#fff" stroke-width="0.3"/>
<circle cx="560.4" cy="131.7" r="2.2" fill="#3479c0" fill-opacity="0.8" stroke="#fff" stroke-width="0.3"/>
<circle cx="564.4" cy="100.1" r="2.2" fill="#3479c0" fill-opacity="0.8" stroke="#fff" stroke-width="0.3"/>
<circle cx="558.9" cy="115.1" r="2.2" fill="#3479c0" fill-opacity="0.8" stroke="#fff" stroke-width="0.3"/>
<circle cx="581.9" cy="115.5" r="2.2" fill="#3479c0" fill-opacity="0.8" stroke="#fff" stroke-width="0.3"/>
<circle cx="553.3" cy="153.7" r="2.2" fill="#3479c0" fill-opacity="0.8" stroke="#fff" stroke-width="0.3"/>
<circle cx="551.3" cy="134.5" r="2.2" fill="#3479c0" fill-opacity="0.8" stroke="#fff" stroke-width="0.3"/>
<circle cx="547.5" cy="136.9" r="2.2" fill="#3479c0" fill-opacity="0.8" stroke="#fff" stroke-width="0.3"/>
<circle cx="587.5" cy="94.2" r="2.2" fill="#3479c0" fill-opacity="0.8" stroke="#fff" stroke-width="0.3"/>
<circle cx="559.8" cy="74.7" r="2.2" fill="#3479c0" fill-opacity="0.8" stroke="#fff" stroke-width="0.3"/>
<circle cx="560.6" cy="144.5" r="2.2" fill="#3479c0" fill-opacity="0.8" stroke="#fff" stroke-width="0.3"/>
<circle cx="567.3" cy="124.5" r="2.2" fill="#3479c0" fill-opacity="0.8" stroke="#fff" stroke-width="0.3"/>
<circle cx="585.2" cy="114.9" r="2.2" fill="#3479c0" fill-opacity="0.8" stroke="#fff" stroke-width="0.3"/>
<circle cx="553.0" cy="148.6" r="2.2" fill="#3479c0" fill-opacity="0.8" stroke="#fff" stroke-width="0.3"/>
<circle cx="562.9" cy="129.7" r="2.2" fill="#3479c0" fill-opacity="0.8" stroke="#fff" stroke-width="0.3"/>
<circle cx="560.5" cy="120.2" r="2.2" fill="#3479c0" fill-opacity="0.8" stroke="#fff" stroke-width="0.3"/>
<circle cx="552.5" cy="103.3" r="2.2" fill="#3479c0" fill-opacity="0.8" stroke="#fff" stroke-width="0.3"/>
<circle cx="575.0" cy="100.1" r="2.2" fill="#3479c0" fill-opacity="0.8" stroke="#fff" stroke-width="0.3"/>
<circle cx="548.4" cy="142.9" r="2.2" fill="#3479c0" fill-opacity="0.8" stroke="#fff" stroke-width="0.3"/>
<circle cx="565.4" cy="66.5" r="2.2" fill="#3479c0" fill-opacity="0.8" stroke="#fff" stroke-width="0.3"/>
<circle cx="554.8" cy="132.3" r="2.2" fill="#3479c0" fill-opacity="0.8" stroke="#fff" stroke-width="0.3"/>
<circle cx="551.3" cy="140.9" r="2.2" fill="#3479c0" fill-opacity="0.8" stroke="#fff" stroke-width="0.3"/>
<circle cx="547.3" cy="128.3" r="2.2" fill="#3479c0" fill-opacity="0.8" stroke="#fff" stroke-width="0.3"/>
<circle cx="582.3" cy="95.1" r="2.2" fill="#3479c0" fill-opacity="0.8" stroke="#fff" stroke-width="0.3"/>
<circle cx="554.0" cy="147.9" r="2.2" fill="#3479c0" fill-opacity="0.8" stroke="#fff" stroke-width="0.3"/>
<circle cx="564.5" cy="110.6" r="2.2" fill="#3479c0" fill-opacity="0.8" stroke="#fff" stroke-width="0.3"/>
<circle cx="543.6" cy="147.2" r="2.2" fill="#3479c0" fill-opacity="0.8" stroke="#fff" stroke-width="0.3"/>
<circle cx="560.8" cy="95.1" r="2.2" fill="#3479c0" fill-opacity="0.8" stroke="#fff" stroke-width="0.3"/>
<circle cx="570.5" cy="101.3" r="2.2" fill="#3479c0" fill-opacity="0.8" stroke="#fff" stroke-width="0.3"/>
<circle cx="556.7" cy="110.9" r="2.2" fill="#3479c0" fill-opacity="0.8" stroke="#fff" stroke-width="0.3"/>
<circle cx="561.3" cy="73.9" r="2.2" fill="#3479c0" fill-opacity="0.8" stroke="#fff" stroke-width="0.3"/>
<circle cx="545.0" cy="133.2" r="2.2" fill="#3479c0" fill-opacity="0.8" stroke="#fff" stroke-width="0.3"/>
<circle cx="579.9" cy="101.9" r="2.2" fill="#3479c0" fill-opacity="0.8" stroke="#fff" stroke-width="0.3"/>
<circle cx="582.1" cy="96.0" r="2.2" fill="#3479c0" fill-opacity="0.8" stroke="#fff" stroke-width="0.3"/>
<circle cx="563.6" cy="117.5" r="2.2" fill="#3479c0" fill-opacity="0.8" stroke="#fff" stroke-width="0.3"/>
<circle cx="541.4" cy="147.0" r="2.2" fill="#3479c0" fill-opacity="0.8" stroke="#fff" stroke-width="0.3"/>
<circle cx="593.6" cy="74.0" r="2.2" fill="#3479c0" fill-opacity="0.8" stroke="#fff" stroke-width="0.3"/>
<circle cx="570.2" cy="88.2" r="2.2" fill="#3479c0" fill-opacity="0.8" stroke="#fff" stroke-width="0.3"/>
<circle cx="569.7" cy="87.4" r="2.2" fill="#3479c0" fill-opacity="0.8" stroke="#fff" stroke-width="0.3"/>
<circle cx="557.6" cy="119.9" r="2.2" fill="#3479c0" fill-opacity="0.8" stroke="#fff" stroke-width="0.3"/>
<circle cx="575.7" cy="106.9" r="2.2" fill="#3479c0" fill-opacity="0.8" stroke="#fff" stroke-width="0.3"/>
<circle cx="542.1" cy="133.0" r="2.2" fill="#3479c0" fill-opacity="0.8" stroke="#fff" stroke-width="0.3"/>
<circle cx="553.5" cy="108.4" r="2.2" fill="#3479c0" fill-opacity="0.8" stroke="#fff" stroke-width="0.3"/>
<circle cx="551.0" cy="140.5" r="2.2" fill="#3479c0" fill-opacity="0.8" stroke="#fff" stroke-width="0.3"/>
<circle cx="556.6" cy="88.9" r="2.2" fill="#3479c0" fill-opacity="0.8" stroke="#fff" stroke-width="0.3"/>
<circle cx="560.7" cy="110.4" r="2.2" fill="#3479c0" fill-opacity="0.8" stroke="#fff" stroke-width="0.3"/>
<circle cx="561.6" cy="107.3" r="2.2" fill="#3479c0" fill-opacity="0.8" stroke="#fff" stroke-width="0.3"/>
<circle cx="574.9" cy="76.3" r="2.2" fill="#3479c0" fill-opacity="0.8" stroke="#fff" stroke-width="0.3"/>
<circle cx="537.6" cy="108.5" r="2.2" fill="#3479c0" fill-opacity="0.8" stroke="#fff" stroke-width="0.3"/>
<circle cx="561.4" cy="118.5" r="2.2" fill="#3479c0" fill-opacity="0.8" stroke="#fff" stroke-width="0.3"/>
<circle cx="596.3" cy="86.3" r="2.2" fill="#3479c0" fill-opacity="0.8" stroke="#fff" stroke-width="0.3"/>
<circle cx="589.7" cy="71.5" r="2.2" fill="#3479c0" fill-opacity="0.8" stroke="#fff" stroke-width="0.3"/>
<circle cx="546.5" cy="116.6" r="2.2" fill="#3479c0" fill-opacity="0.8" stroke="#fff" stroke-width="0.3"/>
<circle cx="572.1" cy="105.9" r="2.2" fill="#3479c0" fill-opacity="0.8" stroke="#fff" stroke-width="0.3"/>
<circle cx="527.6" cy="147.4" r="2.2" fill="#3479c0" fill-opacity="0.8" stroke="#fff" stroke-width="0.3"/>
<circle cx="558.7" cy="134.9" r="2.2" fill="#3479c0" fill-opacity="0.8" stroke="#fff" stroke-width="0.3"/>
<circle cx="588.0" cy="94.7" r="2.2" fill="#3479c0" fill-opacity="0.8" stroke="#fff" stroke-width="0.3"/>
<circle cx="555.7" cy="122.9" r="2.2" fill="#3479c0" fill-opacity="0.8" stroke="#fff" stroke-width="0.3"/>
<circle cx="550.1" cy="136.2" r="2.2" fill="#3479c0" fill-opacity="0.8" stroke="#fff" stroke-width="0.3"/>
<circle cx="562.8" cy="105.9" r="2.2" fill="#3479c0" fill-opacity="0.8" stroke="#fff" stroke-width="0.3"/>
<circle cx="554.1" cy="120.5" r="2.2" fill="#3479c0" fill-opacity="0.8" stroke="#fff" stroke-width="0.3"/>
<circle cx="541.3" cy="120.4" r="2.2" fill="#3479c0" fill-opacity="0.8" stroke="#fff" stroke-width="0.3"/>
<circle cx="550.6" cy="118.0" r="2.2" fill="#3479c0" fill-opacity="0.8" stroke="#fff" stroke-width="0.3"/>
<circle cx="548.3" cy="133.0" r="2.2" fill="#3479c0" fill-opacity="0.8" stroke="#fff" stroke-width="0.3"/>
<circle cx="564.6" cy="131.8" r="2.2" fill="#3479c0" fill-opacity="0.8" stroke="#fff" stroke-width="0.3"/>
<circle cx="597.3" cy="83.1" r="2.2" fill="#3479c0" fill-opacity="0.8" stroke="#fff" stroke-width="0.3"/>
<circle cx="560.4" cy="126.7" r="2.2" fill="#3479c0" fill-opacity="0.8" stroke="#fff" stroke-width="0.3"/>
<circle cx="584.6" cy="68.3" r="2.2" fill="#3479c0" fill-opacity="0.8" stroke="#fff" stroke-width="0.3"/>
<circle cx="565.8" cy="133.5" r="2.2" fill="#3479c0" fill-opacity="0.8" stroke="#fff" stroke-width="0.3"/>
<circle cx="554.1" cy="107.8" r="2.2" fill="#3479c0" fill-opacity="0.8" stroke="#fff" stroke-width="0.3"/>
<circle cx="554.0" cy="140.2" r="2.2" fill="#3479c0" fill-opacity="0.8" stroke="#fff" stroke-width="0.3"/>
<circle cx="544.2" cy="141.1" r="2.2" fill="#3479c0" fill-opacity="0.8" stroke="#fff" stroke-width="0.3"/>
<circle cx="561.6" cy="124.1" r="2.2" fill="#3479c0" fill-opacity="0.8" stroke="#fff" stroke-width="0.3"/>
<circle cx="561.7" cy="62.4" r="2.2" fill="#3479c0" fill-opacity="0.8" stroke="#fff" stroke-width="0.3"/>
<circle cx="587.2" cy="109.5" r="2.2" fill="#3479c0" fill-opacity="0.8" stroke="#fff" stroke-width="0.3"/>
<circle cx="566.4" cy="106.9" r="2.2" fill="#3479c0" fill-opacity="0.8" stroke="#fff" stroke-width="0.3"/>
<circle cx="559.4" cy="95.7" r="2.2" fill="#3479c0" fill-opacity="0.8" stroke="#fff" stroke-width="0.3"/>
<circle cx="556.6" cy="122.6" r="2.2" fill="#3479c0" fill-opacity="0.8" stroke="#fff" stroke-width="0.3"/>
<circle cx="556.0" cy="119.1" r="2.2" fill="#3479c0" fill-opacity="0.8" stroke="#fff" stroke-width="0.3"/>
<circle cx="580.1" cy="83.0" r="2.2" fill="#3479c0" fill-opacity="0.8" stroke="#fff" stroke-width="0.3"/>
<circle cx="542.0" cy="137.0" r="2.2" fill="#3479c0" fill-opacity="0.8" stroke="#fff" stroke-width="0.3"/>
<circle cx="549.9" cy="107.8" r="2.2" fill="#3479c0" fill-opacity="0.8" stroke="#fff" stroke-width="0.3"/>
<circle cx="564.7" cy="94.0" r="2.2" fill="#3479c0" fill-opacity="0.8" stroke="#fff" stroke-width="0.3"/>
<circle cx="560.5" cy="147.6" r="2.2" fill="#3479c0" fill-opacity="0.8" stroke="#fff" stroke-width="0.3"/>
<circle cx="568.0" cy="103.1" r="2.2" fill="#3479c0" fill-opacity="0.8" stroke="#fff" stroke-width="0.3"/>
<circle cx="568.8" cy="129.8" r="2.2" fill="#3479c0" fill-opacity="0.8" stroke="#fff" stroke-width="0.3"/>
<circle cx="562.6" cy="124.0" r="2.2" fill="#3479c0" fill-opacity="0.8" stroke="#fff" stroke-width="0.3"/>
<circle cx="551.5" cy="114.8" r="2.2" fill="#3479c0" fill-opacity="0.8" stroke="#fff" stroke-width="0.3"/>
<circle cx="566.6" cy="124.4" r="2.2" fill="#3479c0" fill-opacity="0.8" stroke="#fff" stroke-width="0.3"/>
<circle cx="553.1" cy="99.6" r="2.2" fill="#3479c0" fill-opacity="0.8" stroke="#fff" stroke-width="0.3"/>
<circle cx="560.6" cy="153.7" r="2.2" fill="#3479c0" fill-opacity="0.8" stroke="#fff" stroke-width="0.3"/>
<circle cx="548.9" cy="115.7" r="2.2" fill="#3479c0" fill-opacity="0.8" stroke="#fff" stroke-width="0.3"/>
<circle cx="585.7" cy="71.3" r="2.2" fill="#3479c0" fill-opacity="0.8" stroke="#fff" stroke-width="0.3"/>
<circle cx="566.8" cy="104.7" r="2.2" fill="#3479c0" fill-opacity="0.8" stroke="#fff" stroke-width="0.3"/>
<circle cx="546.1" cy="133.8" r="2.2" fill="#3479c0" fill-opacity="0.8" stroke="#fff" stroke-width="0.3"/>
<circle cx="556.6" cy="130.6" r="2.2" fill="#3479c0" fill-opacity="0.8" stroke="#fff" stroke-width="0.3"/>
<circle cx="562.4" cy="118.9" r="2.2" fill="#3479c0" fill-opacity="0.8" stroke="#fff" stroke-width="0.3"/>
<circle cx="566.3" cy="82.9" r="2.2" fill="#3479c0" fill-opacity="0.8" stroke="#fff" stroke-width="0.3"/>
<circle cx="572.2" cy="96.1" r="2.2" fill="#3479c0" fill-opacity="0.8" stroke="#fff" stroke-width="0.3"/>
<circle cx="557.9" cy="142.9" r="2.2" fill="#3479c0" fill-opacity="0.8" stroke="#fff" stroke-width="0.3"/>
<circle cx="559.8" cy="104.3" r="2.2" fill="#3479c0" fill-opacity="0.8" stroke="#fff" stroke-width="0.3"/>
<circle cx="546.8" cy="102.6" r="2.2" fill="#3479c0" fill-opacity="0.8" stroke="#fff" stroke-width="0.3"/>
<circle cx="556.6" cy="110.1" r="2.2" fill="#3479c0" fill-opacity="0.8" stroke="#fff" stroke-width="0.3"/>
<circle cx="556.7" cy="139.2" r="2.2" fill="#3479c0" fill-opacity="0.8" stroke="#fff" stroke-width="0.3"/>
<circle cx="591.5" cy="108.1" r="2.2" fill="#3479c0" fill-opacity="0.8" stroke="#fff" stroke-width="0.3"/>
<circle cx="574.8" cy="111.4" r="2.2" fill="#3479c0" fill-opacity="0.8" stroke="#fff" stroke-width="0.3"/>
<circle cx="565.5" cy="123.7" r="2.2" fill="#3479c0" fill-opacity="0.8" stroke="#fff" stroke-width="0.3"/>
<circle cx="555.4" cy="101.3" r="2.2" fill="#3479c0" fill-opacity="0.8" stroke="#fff" stroke-width="0.3"/>
<circle cx="589.7" cy="104.0" r="2.2" fill="#3479c0" fill-opacity="0.8" stroke="#fff" stroke-width="0.3"/>
<circle cx="561.6" cy="95.6" r="2.2" fill="#3479c0" fill-opacity="0.8" stroke="#fff" stroke-width="0.3"/>
<circle cx="552.3" cy="107.7" r="2.2" fill="#3479c0" fill-opacity="0.8" stroke="#fff" stroke-width="0.3"/>
<circle cx="550.0" cy="111.5" r="2.2" fill="#3479c0" fill-opacity="0.8" stroke="#fff" stroke-width="0.3"/>
<circle cx="567.8" cy="85.6" r="2.2" fill="#3479c0" fill-opacity="0.8" stroke="#fff" stroke-width="0.3"/>
<circle cx="566.7" cy="129.6" r="2.2" fill="#3479c0" fill-opacity="0.8" stroke="#fff" stroke-width="0.3"/>
<circle cx="571.1" cy="124.3" r="2.2" fill="#3479c0" fill-opacity="0.8" stroke="#fff" stroke-width="0.3"/>
<circle cx="572.3" cy="76.4" r="2.2" fill="#3479c0" fill-opacity="0.8" stroke="#fff" stroke-width="0.3"/>
<circle cx="570.1" cy="115.3" r="2.2" fill="#3479c0" fill-opacity="0.8" stroke="#fff" stroke-width="0.3"/>
<circle cx="578.8" cy="95.1" r="2.2" fill="#3479c0" fill-opacity="0.8" stroke="#fff" stroke-width="0.3"/>
<circle cx="543.4" cy="134.3" r="2.2" fill="#3479c0" fill-opacity="0.8" stroke="#fff" stroke-width="0.3"/>
<circle cx="582.0" cy="100.7" r="2.2" fill="#3479c0" fill-opacity="0.8" stroke="#fff" stroke-width="0.3"/>
<circle cx="563.2" cy="117.3" r="2.2" fill="#3479c0" fill-opacity="0.8" stroke="#fff" stroke-width="0.3"/>
<circle cx="537.0" cy="142.5" r="2.2" fill="#3479c0" fill-opacity="0.8" stroke="#fff" stroke-width="0.3"/>
<circle cx="566.6" cy="104.6" r="2.2" fill="#3479c0" fill-opacity="0.8" stroke="#fff" stroke-width="0.3"/>
<circle cx="558.9" cy="153.1" r="2.2" fill="#3479c0" fill-opacity="0.8" stroke="#fff" stroke-width="0.3"/>
<circle cx="579.2" cy="84.8" r="2.2" fill="#3479c0" fill-opacity="0.8" stroke="#fff" stroke-width="0.3"/>
<circle cx="576.3" cy="76.8" r="2.2" fill="#3479c0" fill-opacity="0.8" stroke="#fff" stroke-width="0.3"/>
<circle cx="555.0" cy="129.0" r="2.2" fill="#3479c0" fill-opacity="0.8" stroke="#fff" stroke-width="0.3"/>
<circle cx="566.0" cy="78.8" r="2.2" fill="#3479c0" fill-opacity="0.8" stroke="#fff" stroke-width="0.3"/>
<circle cx="537.0" cy="137.5" r="2.2" fill="#3479c0" fill-opacity="0.8" stroke="#fff" stroke-width="0.3"/>
<circle cx="551.1" cy="111.4" r="2.2" fill="#3479c0" fill-opacity="0.8" stroke="#fff" stroke-width="0.3"/>
<circle cx="582.7" cy="100.0" r="2.2" fill="#3479c0" fill-opacity="0.8" stroke="#fff" stroke-width="0.3"/>
<circle cx="543.4" cy="127.0" r="2.2" fill="#3479c0" fill-opacity="0.8" stroke="#fff" stroke-width="0.3"/>
<circle cx="557.3" cy="143.8" r="2.2" fill="#3479c0" fill-opacity="0.8" stroke="#fff" stroke-width="0.3"/>
<circle cx="574.3" cy="111.2" r="2.2" fill="#3479c0" fill-opacity="0.8" stroke="#fff" stroke-width="0.3"/>
<circle cx="571.4" cy="127.9" r="2.2" fill="#3479c0" fill-opacity="0.8" stroke="#fff" stroke-width="0.3"/>
<circle cx="577.4" cy="125.1" r="2.2" fill="#3479c0" fill-opacity="0.8" stroke="#fff" stroke-width="0.3"/>
<circle cx="576.7" cy="132.2" r="2.2" fill="#3479c0" fill-opacity="0.8" stroke="#fff" stroke-width="0.3"/>
<circle cx="581.5" cy="102.5" r="2.2" fill="#3479c0" fill-opacity="0.8" stroke="#fff" stroke-width="0.3"/>
<circle cx="538.8" cy="136.0" r="2.2" fill="#3479c0" fill-opacity="0.8" stroke="#fff" stroke-width="0.3"/>
<circle cx="566.3" cy="126.3" r="2.2" fill="#3479c0" fill-opacity="0.8" stroke="#fff" stroke-width="0.3"/>
<circle cx="554.3" cy="113.9" r="2.2" fill="#3479c0" fill-opacity="0.8" stroke="#fff" stroke-width="0.3"/>
<circle cx="559.0" cy="169.7" r="2.2" fill="#3479c0" fill-opacity="0.8" stroke="#fff" stroke-width="0.3"/>
<circle cx="555.2" cy="110.3" r="2.2" fill="#3479c0" fill-opacity="0.8" stroke="#fff" stroke-width="0.3"/>
<circle cx="565.8" cy="91.0" r="2.2" fill="#3479c0" fill-opacity="0.8" stroke="#fff" stroke-width="0.3"/>
<circle cx="551.4" cy="75.4" r="2.2" fill="#3479c0" fill-opacity="0.8" stroke="#fff" stroke-width="0.3"/>
<circle cx="573.1" cy="97.3" r="2.2" fill="#3479c0" fill-opacity="0.8" stroke="#fff" stroke-width="0.3"/>
<circle cx="577.2" cy="82.3" r="2.2" fill="#3479c0" fill-opacity="0.8" stroke="#fff" stroke-width="0.3"/>
<circle cx="562.9" cy="122.6" r="2.2" fill="#3479c0" fill-opacity="0.8" stroke="#fff" stroke-width="0.3"/>
<circle cx="576.3" cy="92.6" r="2.2" fill="#3479c0" fill-opacity="0.8" stroke="#fff" stroke-width="0.3"/>
<circle cx="534.0" cy="155.7" r="2.2" fill="#3479c0" fill-opacity="0.8" stroke="#fff" stroke-width="0.3"/>
<circle cx="568.2" cy="105.0" r="2.2" fill="#3479c0" fill-opacity="0.8" stroke="#fff" stroke-width="0.3"/>
<circle cx="565.5" cy="97.8" r="2.2" fill="#3479c0" fill-opacity="0.8" stroke="#fff" stroke-width="0.3"/>
<circle cx="563.6" cy="82.5" r="2.2" fill="#3479c0" fill-opacity="0.8" stroke="#fff" stroke-width="0.3"/>
<circle cx="552.9" cy="127.1" r="2.2" fill="#3479c0" fill-opacity="0.8" stroke="#fff" stroke-width="0.3"/>
<circle cx="566.1" cy="95.4" r="2.2" fill="#3479c0" fill-opacity="0.8" stroke="#fff" stroke-width="0.3"/>
<circle cx="572.9" cy="76.4" r="2.2" fill="#3479c0" fill-opacity="0.8" stroke="#fff" stroke-width="0.3"/>
<circle cx="554.5" cy="97.6" r="2.2" fill="#3479c0" fill-opacity="0.8" stroke="#fff" stroke-width="0.3"/>
<circle cx="568.2" cy="125.6" r="2.2" fill="#3479c0" fill-opacity="0.8" stroke="#fff" stroke-width="0.3"/>
<circle cx="559.4" cy="77.0" r="2.2" fill="#3479c0" fill-opacity="0.8" stroke="#fff" stroke-width="0.3"/>
<circle cx="572.8" cy="111.5" r="2.2" fill="#3479c0" fill-opacity="0.8" stroke="#fff" stroke-width="0.3"/>
<circle cx="526.6" cy="155.3" r="2.2" fill="#3479c0" fill-opacity="0.8" stroke="#fff" stroke-width="0.3"/>
<circle cx="551.2" cy="119.9" r="2.2" fill="#3479c0" fill-opacity="0.8" stroke="#fff" stroke-width="0.3"/>
<circle cx="595.0" cy="71.0" r="2.2" fill="#3479c0" fill-opacity="0.8" stroke="#fff" stroke-width="0.3"/>
<circle cx="566.0" cy="125.6" r="2.2" fill="#3479c0" fill-opacity="0.8" stroke="#fff" stroke-width="0.3"/>
<circle cx="544.2" cy="131.0" r="2.2" fill="#3479c0" fill-opacity="0.8" stroke="#fff" stroke-width="0.3"/>
<circle cx="554.7" cy="64.5" r="2.2" fill="#3479c0" fill-opacity="0.8" stroke="#fff" stroke-width="0.3"/>
<circle cx="555.6" cy="128.7" r="2.2" fill="#3479c0" fill-opacity="0.8" stroke="#fff" stroke-width="0.3"/>
<circle cx="577.8" cy="97.5" r="2.2" fill="#3479c0" fill-opacity="0.8" stroke="#fff" stroke-width="0.3"/>
<circle cx="543.5" cy="104.7" r="2.2" fill="#3479c0" fill-opacity="0.8" stroke="#fff" stroke-width="0.3"/>
<circle cx="556.9" cy="140.3" r="2.2" fill="#3479c0" fill-opacity="0.8" stroke="#fff" stroke-width="0.3"/>
<circle cx="566.1" cy="100.0" r="2.2" fill="#3479c0" fill-opacity="0.8" stroke="#fff" stroke-width="0.3"/>
<circle cx="556.5" cy="104.3" r="2.2" fill="#3479c0" fill-opacity="0.8" stroke="#fff" stroke-width="0.3"/>
<circle cx="573.4" cy="118.4" r="2.2" fill="#3479c0" fill-opacity="0.8" stroke="#fff" stroke-width="0.3"/>
<circle cx="559.6" cy="92.2" r="2.2" fill="#3479c0" fill-opacity="0.8" stroke="#fff" stroke-width="0.3"/>
<circle cx="576.0" cy="75.5" r="2.2" fill="#3479c0" fill-opacity="0.8" stroke="#fff" stroke-width="0.3"/>
<circle cx="588.4" cy="89.6" r="2.2" fill="#3479c0" fill-opacity="0.8" stroke="#fff" stroke-width="0.3"/>
<circle cx="576.8" cy="127.1" r="2.2" fill="#3479c0" fill-opacity="0.8" stroke="#fff" stroke-width="0.3"/>
<circle cx="571.4" cy="97.2" r="2.2" fill="#3479c0" fill-opacity="0.8" stroke="#fff" stroke-width="0.3"/>
<circle cx="560.1" cy="121.8" r="2.2" fill="#3479c0" fill-opacity="0.8" stroke="#fff" stroke-width="0.3"/>
<circle cx="545.2" cy="123.9" r="2.2" fill="#3479c0" fill-opacity="0.8" stroke="#fff" stroke-width="0.3"/>
<circle cx="580.0" cy="103.6" r="2.2" fill="#3479c0" fill-opacity="0.8" stroke="#fff" stroke-width="0.3"/>
<circle cx="569.2" cy="118.1" r="2.2" fill="#3479c0" fill-opacity="0.8" stroke="#fff" stroke-width="0.3"/>
<circle cx="565.1" cy="127.6" r="2.2" fill="#3479c0" fill-opacity="0.8" stroke="#fff" stroke-width="0.3"/>
<circle cx="566.9" cy="112.0" r="2.2" fill="#3479c0" fill-opacity="0.8" stroke="#fff" stroke-width="0.3"/>
<circle cx="566.0" cy="119.7" r="2.2" fill="#3479c0" fill-opacity="0.8" stroke="#fff" stroke-width="0.3"/>
<circle cx="544.4" cy="133.0" r="2.2" fill="#3479c0" fill-opacity="0.8" stroke="#fff" stroke-width="0.3"/>
<circle cx="576.5" cy="71.7" r="2.2" fill="#3479c0" fill-opacity="0.8" stroke="#fff" stroke-width="0.3"/>
<circle cx="556.7" cy="102.3" r="2.2" fill="#3479c0" fill-opacity="0.8" stroke="#fff" stroke-width="0.3"/>
<circle cx="572.5" cy="96.4" r="2.2" fill="#3479c0" fill-opacity="0.8" stroke="#fff" stroke-width="0.3"/>
<circle cx="538.9" cy="125.9" r="2.2" fill="#3479c0" fill-opacity="0.8" stroke="#fff" stroke-width="0.3"/>
<circle cx="547.4" cy="103.5" r="2.2" fill="#3479c0" fill-opacity="0.8" stroke="#fff" stroke-width="0.3"/>
<circle cx="572.9" cy="92.0" r="2.2" fill="#3479c0" fill-opacity="0.8" stroke="#fff" stroke-width="0.3"/>
<circle cx="524.6" cy="132.6" r="2.2" fill="#3479c0" fill-opacity="0.8" stroke="#fff" stroke-width="0.3"/>
<circle cx="571.6" cy="127.0" r="2.2" fill="#3479c0" fill-opacity="0.8" stroke="#fff" stroke-width="0.3"/>
<circle cx="575.5" cy="99.4" r="2.2" fill="#3479c0" fill-opacity="0.8" stroke="#fff" stroke-width="0.3"/>
<circle cx="558.8" cy="127.7" r="2.2" fill="#3479c0" fill-opacity="0.8" stroke="#fff" stroke-width="0.3"/>
<circle cx="546.7" cy="132.9" r="2.2" fill="#3479c0" fill-opacity="0.8" stroke="#fff" stroke-width="0.3"/>
<circle cx="606.2" cy="71.2" r="2.2" fill="#3479c0" fill-opacity="0.8" stroke="#fff" stroke-width="0.3"/>
<circle cx="564.5" cy="121.7" r="2.2" fill="#3479c0" fill-opacity="0.8" stroke="#fff" stroke-width="0.3"/>
<circle cx="552.5" cy="130.1" r="2.2" fill="#3479c0" fill-opacity="0.8" stroke="#fff" stroke-width="0.3"/>
<circle cx="548.6" cy="107.9" r="2.2" fill="#3479c0" fill-opacity="0.8" stroke="#fff" stroke-width="0.3"/>
<circle cx="557.5" cy="100.5" r="2.2" fill="#3479c0" fill-opacity="0.8" stroke="#fff" stroke-width="0.3"/>
<circle cx="544.7" cy="110.2" r="2.2" fill="#3479c0" fill-opacity="0.8" stroke="#fff" stroke-width="0.3"/>
<circle cx="561.0" cy="101.1" r="2.2" fill="#3479c0" fill-opacity="0.8" stroke="#fff" stroke-width="0.3"/>
<circle cx="559.9" cy="129.9" r="2.2" fill="#3479c0" fill-opacity="0.8" stroke="#fff" stroke-width="0.3"/>
<circle cx="579.0" cy="105.7" r="2.2" fill="#3479c0" fill-opacity="0.8" stroke="#fff" stroke-width="0.3"/>
<circle cx="559.3" cy="130.4" r="2.2" fill="#3479c0" fill-opacity="0.8" stroke="#fff" stroke-width="0.3"/>
<circle cx="564.4" cy="117.2" r="2.2" fill="#3479c0" fill-opacity="0.8" stroke="#fff" stroke-width="0.3"/>
<circle cx="565.5" cy="103.1" r="2.2" fill="#3479c0" fill-opacity="0.8" stroke="#fff" stroke-width="0.3"/>
<circle cx="551.4" cy="146.4" r="2.2" fill="#3479c0" fill-opacity="0.8" stroke="#fff" stroke-width="0.3"/>
<circle cx="567.7" cy="90.9" r="2.2" fill="#3479c0" fill-opacity="0.8" stroke="#fff" stroke-width="0.3"/>
<circle cx="571.5" cy="124.7" r="2.2" fill="#3479c0" fill-opacity="0.8" stroke="#fff" stroke-width="0.3"/>
<circle cx="570.2" cy="98.4" r="2.2" fill="#3479c0" fill-opacity="0.8" stroke="#fff" stroke-width="0.3"/>
<circle cx="565.6" cy="101.5" r="2.2" fill="#3479c0" fill-opacity="0.8" stroke="#fff" stroke-width="0.3"/>
<circle cx="556.7" cy="112.8" r="2.2" fill="#3479c0" fill-opacity="0.8" stroke="#fff" stroke-width="0.3"/>
<circle cx="574.9" cy="110.4" r="2.2" fill="#3479c0" fill-opacity="0.8" stroke="#fff" stroke-width="0.3"/>
<circle cx="540.5" cy="132.2" r="2.2" fill="#3479c0" fill-opacity="0.8" stroke="#fff" stroke-width="0.3"/>
<circle cx="564.3" cy="143.3" r="2.2" fill="#3479c0" fill-opacity="0.8" stroke="#fff" stroke-width="0.3"/>
<circle cx="551.6" cy="110.4" r="2.2" fill="#3479c0" fill-opacity="0.8" stroke="#fff" stroke-width="0.3"/>
<circle cx="559.3" cy="112.9" r="2.2" fill="#3479c0" fill-opacity="0.8" stroke="#fff" stroke-width="0.3"/>
<circle cx="543.2" cy="111.9" r="2.2" fill="#3479c0" fill-opacity="0.8" stroke="#fff" stroke-width="0.3"/>
<circle cx="586.9" cy="94.8" r="2.2" fill="#3479c0" fill-opacity="0.8" stroke="#fff" stroke-width="0.3"/>
<circle cx="550.8" cy="142.4" r="2.2" fill="#3479c0" fill-opacity="0.8" stroke="#fff" stroke-width="0.3"/>
<circle cx="574.4" cy="99.9" r="2.2" fill="#3479c0" fill-opacity="0.8" stroke="#fff" stroke-width="0.3"/>
<circle cx="549.9" cy="100.7" r="2.2" fill="#3479c0" fill-opacity="0.8" stroke="#fff" stroke-width="0.3"/>
<circle cx="572.5" cy="92.5" r="2.2" fill="#3479c0" fill-opacity="0.8" stroke="#fff" stroke-width="0.3"/>
<circle cx="535.9" cy="136.1" r="2.2" fill="#3479c0" fill-opacity="0.8" stroke="#fff" stroke-width="0.3"/>
<circle cx="570.5" cy="127.0" r="2.2" fill="#3479c0" fill-opacity="0.8" stroke="#fff" stroke-width="0.3"/>
<circle cx="574.9" cy="75.7" r="2.2" fill="#3479c0" fill-opacity="0.8" stroke="#fff" stroke-width="0.3"/>
<circle cx="576.4" cy="112.9" r="2.2" fill="#3479c0" fill-opacity="0.8" stroke="#fff" stroke-width="0.3"/>
<circle cx="551.2" cy="104.5" r="2.2" fill="#3479c0" fill-opacity="0.8" stroke="#fff" stroke-width="0.3"/>
<circle cx="575.9" cy="78.5" r="2.2" fill="#3479c0" fill-opacity="0.8" stroke="#fff" stroke-width="0.3"/>
<circle cx="578.9" cy="99.8" r="2.2" fill="#3479c0" fill-opacity="0.8" stroke="#fff" stroke-width="0.3"/>
<circle cx="555.5" cy="151.0" r="2.2" fill="#3479c0" fill-opacity="0.8" stroke="#fff" stroke-width="0.3"/>
<circle cx="572.8" cy="62.3" r="2.2" fill="#3479c0" fill-opacity="0.8" stroke="#fff" stroke-width="0.3"/>
<circle cx="554.7" cy="126.9" r="2.2" fill="#3479c0" fill-opacity="0.8" stroke="#fff" stroke-width="0.3"/>
<circle cx="570.9" cy="98.0" r="2.2" fill="#3479c0" fill-opacity="0.8" stroke="#fff" stroke-width="0.3"/>
<circle cx="541.5" cy="142.3" r="2.2" fill="#3479c0" fill-opacity="0.8" stroke="#fff" stroke-width="0.3"/>
<circle cx="545.5" cy="89.9" r="2.2" fill="#3479c0" fill-opacity="0.8" stroke="#fff" stroke-width="0.3"/>
<circle cx="551.0" cy="106.2" r="2.2" fill="#3479c0" fill-opacity="0.8" stroke="#fff" stroke-width="0.3"/>
<circle cx="589.3" cy="55.2" r="2.2" fill="#3479c0" fill-opacity="0.8" stroke="#fff" stroke-width="0.3"/>
<circle cx="582.1" cy="66.0" r="2.2" fill="#3479c0" fill-opacity="0.8" stroke="#fff" stroke-width="0.3"/>
<circle cx="543.5" cy="134.0" r="2.2" fill="#3479c0" fill-opacity="0.8" stroke="#fff" stroke-width="0.3"/>
<circle cx="550.9" cy="126.8" r="2.2" fill="#3479c0" fill-opacity="0.8" stroke="#fff" stroke-width="0.3"/>
<circle cx="599.5" cy="110.6" r="2.2" fill="#3479c0" fill-opacity="0.8" stroke="#fff" stroke-width="0.3"/>
<circle cx="569.5" cy="128.0" r="2.2" fill="#3479c0" fill-opacity="0.8" stroke="#fff" stroke-width="0.3"/>
<circle cx="580.9" cy="73.0" r="2.2" fill="#3479c0" fill-opacity="0.8" stroke="#fff" stroke-width="0.3"/>
<circle cx="554.0" cy="81.9" r="2.2" fill="#3479c0" fill-opacity="0.8" stroke="#fff" stroke-width="0.3"/>
<circle cx="562.5" cy="88.4" r="2.2" fill="#3479c0" fill-opacity="0.8" stroke="#fff" stroke-width="0.3"/>
<circle cx="566.0" cy="118.9" r="2.2" fill="#3479c0" fill-opacity="0.8" stroke="#fff" stroke-width="0.3"/>
<circle cx="555.9" cy="119.5" r="2.2" fill="#3479c0" fill-opacity="0.8" stroke="#fff" stroke-width="0.3"/>
<circle cx="570.4" cy="102.9" r="2.2" fill="#3479c0" fill-opacity="0.8" stroke="#fff" stroke-width="0.3"/>
<circle cx="595.7" cy="87.2" r="2.2" fill="#3479c0" fill-opacity="0.8" stroke="#fff" stroke-width="0.3"/>
<circle cx="554.7" cy="131.3" r="2.2" fill="#3479c0" fill-opacity="0.8" stroke="#fff" stroke-width="0.3"/>
<circle cx="550.2" cy="148.0" r="2.2" fill="#3479c0" fill-opacity="0.8" stroke="#fff" stroke-width="0.3"/>
<circle cx="547.1" cy="108.5" r="2.2" fill="#3479c0" fill-opacity="0.8" stroke="#fff" stroke-width="0.3"/>
<circle cx="562.3" cy="115.0" r="2.2" fill="#3479c0" fill-opacity="0.8" stroke="#fff" stroke-width="0.3"/>
<circle cx="566.5" cy="89.3" r="2.2" fill="#3479c0" fill-opacity="0.8" stroke="#fff" stroke-width="0.3"/>
<circle cx="570.4" cy="91.3" r="2.2" fill="#3479c0" fill-opacity="0.8" stroke="#fff" stroke-width="0.3"/>
<circle cx="553.3" cy="124.2" r="2.2" fill="#3479c0" fill-opacity="0.8" stroke="#fff" stroke-width="0.3"/>
<circle cx="550.2" cy="123.9" r="2.2" fill="#3479c0" fill-opacity="0.8" stroke="#fff" stroke-width="0.3"/>
<circle cx="549.6" cy="129.4" r="2.2" fill="#3479c0" fill-opacity="0.8" stroke="#fff" stroke-width="0.3"/>
<circle cx="558.9" cy="118.7" r="2.2" fill="#3479c0" fill-opacity="0.8" stroke="#fff" stroke-width="0.3"/>
<circle cx="557.6" cy="124.8" r="2.2" fill="#3479c0" fill-opacity="0.8" stroke="#fff" stroke-width="0.3"/>
<circle cx="580.5" cy="102.8" r="2.2" fill="#3479c0" fill-opacity="0.8" stroke="#fff" stroke-width="0.3"/>
<circle cx="546.8" cy="121.6" r="2.2" fill="#3479c0" fill-opacity="0.8" stroke="#fff" stroke-width="0.3"/>
<circle cx="545.6" cy="145.3" r="2.2" fill="#3479c0" fill-opacity="0.8" stroke="#fff" stroke-width="0.3"/>
<circle cx="562.7" cy="141.5" r="2.2" fill="#3479c0" fill-opacity="0.8" stroke="#fff" stroke-width="0.3"/>
<circle cx="576.5" cy="129.9" r="2.2" fill="#3479c0" fill-opacity="0.8" stroke="#fff" stroke-width="0.3"/>
<circle cx="548.4" cy="113.3" r="2.2" fill="#3479c0" fill-opacity="0.8" stroke="#fff" stroke-width="0.3"/>
<circle cx="532.6" cy="152.7" r="2.2" fill="#3479c0" fill-opacity="0.8" stroke="#fff" stroke-width="0.3"/>
<circle cx="544.0" cy="131.0" r="2.2" fill="#3479c0" fill-opacity="0.8" stroke="#fff" stroke-width="0.3"/>
<circle cx="532.8" cy="120.8" r="2.2" fill="#3479c0" fill-opacity="0.8" stroke="#fff" stroke-width="0.3"/>
<circle cx="559.3" cy="109.0" r="2.2" fill="#3479c0" fill-opacity="0.8" stroke="#fff" stroke-width="0.3"/>
<circle cx="556.7" cy="154.7" r="2.2" fill="#3479c0" fill-opacity="0.8" stroke="#fff" stroke-width="0.3"/>
<circle cx="559.2" cy="138.6" r="2.2" fill="#3479c0" fill-opacity="0.8" stroke="#fff" stroke-width="0.3"/>
<circle cx="561.6" cy="127.8" r="2.2" fill="#3479c0" fill-opacity="0.8" stroke="#fff" stroke-width="0.3"/>
<circle cx="556.8" cy="120.3" r="2.2" fill="#3479c0" fill-opacity="0.8" stroke="#fff" stroke-width="0.3"/>
<circle cx="572.7" cy="89.5" r="2.2" fill="#3479c0" fill-opacity="0.8" stroke="#fff" stroke-width="0.3"/>
<circle cx="546.8" cy="125.3" r="2.2" fill="#3479c0" fill-opacity="0.8" stroke="#fff" stroke-width="0.3"/>
<circle cx="582.6" cy="85.9" r="2.2" fill="#3479c0" fill-opacity="0.8" stroke="#fff" stroke-width="0.3"/>
<circle cx="550.9" cy="123.8" r="2.2" fill="#3479c0" fill-opacity="0.8" stroke="#fff" stroke-width="0.3"/>
<circle cx="556.4" cy="100.1" r="2.2" fill="#3479c0" fill-opacity="0.8" stroke="#fff" stroke-width="0.3"/>
<circle cx="561.9" cy="105.6" r="2.2" fill="#3479c0" fill-opacity="0.8" stroke="#fff" stroke-width="0.3"/>
<circle cx="593.6" cy="110.3" r="2.2" fill="#3479c0" fill-opacity="0.8" stroke="#fff" stroke-width="0.3"/>
<circle cx="546.7" cy="156.1" r="2.2" fill="#3479c0" fill-opacity="0.8" stroke="#fff" stroke-width="0.3"/>
<circle cx="538.3" cy="116.8" r="2.2" fill="#3479c0" fill-opacity="0.8" stroke="#fff" stroke-width="0.3"/>
<circle cx="565.7" cy="79.9" r="2.2" fill="#3479c0" fill-opacity="0.8" stroke="#fff" stroke-width="0.3"/>
<circle cx="532.8" cy="152.7" r="2.2" fill="#3479c0" fill-opacity="0.8" stroke="#fff" stroke-width="0.3"/>
<circle cx="582.4" cy="76.5" r="2.2" fill="#3479c0" fill-opacity="0.8" stroke="#fff" stroke-width="0.3"/>
<circle cx="574.3" cy="86.2" r="2.2" fill="#3479c0" fill-opacity="0.8" stroke="#fff" stroke-width="0.3"/>
<circle cx="561.9" cy="112.5" r="2.2" fill="#3479c0" fill-opacity="0.8" stroke="#fff" stroke-width="0.3"/>
<circle cx="561.9" cy="97.2" r="2.2" fill="#3479c0" fill-opacity="0.8" stroke="#fff" stroke-width="0.3"/>
<circle cx="559.1" cy="108.9" r="2.2" fill="#3479c0" fill-opacity="0.8" stroke="#fff" stroke-width="0.3"/>
<circle cx="582.5" cy="115.0" r="2.2" fill="#3479c0" fill-opacity="0.8" stroke="#fff" stroke-width="0.3"/>
<circle cx="550.5" cy="111.8" r="2.2" fill="#3479c0" fill-opacity="0.8" stroke="#fff" stroke-width="0.3"/>
<circle cx="557.6" cy="118.7" r="2.2" fill="#3479c0" fill-opacity="0.8" stroke="#fff" stroke-width="0.3"/>
<circle cx="591.9" cy="79.5" r="2.2" fill="#3479c0" fill-opacity="0.8" stroke="#fff" stroke-width="0.3"/>
<circle cx="555.4" cy="98.1" r="2.2" fill="#3479c0" fill-opacity="0.8" stroke="#fff" stroke-width="0.3"/>
<circle cx="598.0" cy="101.7" r="2.2" fill="#3479c0" fill-opacity="0.8" stroke="#fff" stroke-width="0.3"/>
<circle cx="551.7" cy="118.8" r="2.2" fill="#3479c0" fill-opacity="0.8" stroke="#fff" stroke-width="0.3"/>
<circle cx="552.2" cy="81.6" r="2.2" fill="#3479c0" fill-opacity="0.8" stroke="#fff" stroke-width="0.3"/>
<circle cx="569.1" cy="113.4" r="2.2" fill="#3479c0" fill-opacity="0.8" stroke="#fff" stroke-width="0.3"/>
<circle cx="568.6" cy="120.9" r="2.2" fill="#3479c0" fill-opacity="0.8" stroke="#fff" stroke-width="0.3"/>
<circle cx="552.7" cy="118.2" r="2.2" fill="#3479c0" fill-opacity="0.8" stroke="#fff" stroke-width="0.3"/>
<circle cx="596.1" cy="123.7" r="2.2" fill="#3479c0" fill-opacity="0.8" stroke="#fff" stroke-width="0.3"/>
<circle cx="567.5" cy="83.3" r="2.2" fill="#3479c0" fill-opacity="0.8" stroke="#fff" stroke-width="0.3"/>
<circle cx="572.2" cy="69.2" r="2.2" fill="#3479c0" fill-opacity="0.8" stroke="#fff" stroke-width="0.3"/>
<circle cx="568.0" cy="104.5" r="2.2" fill="#3479c0" fill-opacity="0.8" stroke="#fff" stroke-width="0.3"/>
<circle cx="559.5" cy="129.6" r="2.2" fill="#3479c0" fill-opacity="0.8" stroke="#fff" stroke-width="0.3"/>
<circle cx="585.2" cy="113.8" r="2.2" fill="#3479c0" fill-opacity="0.8" stroke="#fff" stroke-width="0.3"/>
<circle cx="559.6" cy="123.6" r="2.2" fill="#3479c0" fill-opacity="0.8" stroke="#fff" stroke-width="0.3"/>
<circle cx="550.0" cy="162.1" r="2.2" fill="#3479c0" fill-opacity="0.8" stroke="#fff" stroke-width="0.3"/>
<circle cx="555.9" cy="114.9" r="2.2" fill="#3479c0" fill-opacity="0.8" stroke="#fff" stroke-width="0.3"/>
<circle cx="563.5" cy="95.8" r="2.2" fill="#3479c0" fill-opacity="0.8" stroke="#fff" stroke-width="0.3"/>
<circle cx="559.1" cy="126.2" r="2.2" fill="#3479c0" fill-opacity="0.8" stroke="#fff" stroke-width="0.3"/>
<circle cx="565.9" cy="97.0" r="2.2" fill="#3479c0" fill-opacity="0.8" stroke="#fff" stroke-width="0.3"/>
<circle cx="548.3" cy="151.0" r="2.2" fill="#3479c0" fill-opacity="0.8" stroke="#fff" stroke-width="0.3"/>
<circle cx="546.6" cy="106.3" r="2.2" fill="#3479c0" fill-opacity="0.8" stroke="#fff" stroke-width="0.3"/>
<circle cx="575.9" cy="116.3" r="2.2" fill="#3479c0" fill-opacity="0.8" stroke="#fff" stroke-width="0.3"/>
<circle cx="563.1" cy="96.3" r="2.2" fill="#3479c0" fill-opacity="0.8" stroke="#fff" stroke-width="0.3"/>
<circle cx="580.7" cy="108.2" r="2.2" fill="#3479c0" fill-opacity="0.8" stroke="#fff" stroke-width="0.3"/>
<circle cx="558.0" cy="90.4" r="2.2" fill="#3479c0" fill-opacity="0.8" stroke="#fff" stroke-width="0.3"/>
<circle cx="596.4" cy="55.7" r="2.2" fill="#3479c0" fill-opacity="0.8" stroke="#fff" stroke-width="0.3"/>
<circle cx="544.9" cy="118.6" r="2.2" fill="#3479c0" fill-opacity="0.8" stroke="#fff" stroke-width="0.3"/>
<circle cx="557.1" cy="117.4" r="2.2" fill="#3479c0" fill-opacity="0.8" stroke="#fff" stroke-width="0.3"/>
<circle cx="551.8" cy="129.4" r="2.2" fill="#3479c0" fill-opacity="0.8" stroke="#fff" stroke-width="0.3"/>
<circle cx="561.3" cy="80.5" r="2.2" fill="#3479c0" fill-opacity="0.8" stroke="#fff" stroke-width="0.3"/>
<circle cx="571.6" cy="96.5" r="2.2" fill="#3479c0" fill-opacity="0.8" stroke="#fff" stroke-width="0.3"/>
<circle cx="561.8" cy="125.8" r="2.2" fill="#3479c0" fill-opacity="0.8" stroke="#fff" stroke-width="0.3"/>
<circle cx="558.1" cy="93.3" r="2.2" fill="#3479c0" fill-opacity="0.8" stroke="#fff" stroke-width="0.3"/>
<circle cx="573.5" cy="67.3" r="2.2" fill="#3479c0" fill-opacity="0.8" stroke="#fff" stroke-width="0.3"/>
<circle cx="565.2" cy="109.9" r="2.2" fill="#3479c0" fill-opacity="0.8" stroke="#fff" stroke-width="0.3"/>
<circle cx="537.9" cy="125.4" r="2.2" fill="#3479c0" fill-opacity="0.8" stroke="#fff" stroke-width="0.3"/>
<circle cx="536.4" cy="106.5" r="2.2" fill="#3479c0" fill-opacity="0.8" stroke="#fff" stroke-width="0.3"/>
<circle cx="552.3" cy="120.4" r="2.2" fill="#3479c0" fill-opacity="0.8" stroke="#fff" stroke-width="0.3"/>
<circle cx="541.8" cy="138.1" r="2.2" fill="#3479c0" fill-opacity="0.8" stroke="#fff" stroke-width="0.3"/>
<circle cx="547.9" cy="103.8" r="2.2" fill="#3479c0" fill-opacity="0.8" stroke="#fff" stroke-width="0.3"/>
<circle cx="565.0" cy="130.8" r="2.2" fill="#3479c0" fill-opacity="0.8" stroke="#fff" stroke-width="0.3"/>
<circle cx="533.4" cy="137.6" r="2.2" fill="#3479c0" fill-opacity="0.8" stroke="#fff" stroke-width="0.3"/>
<circle cx="554.4" cy="138.5" r="2.2" fill="#3479c0" fill-opacity="0.8" stroke="#fff" stroke-width="0.3"/>
<circle cx="570.0" cy="108.8" r="2.2" fill="#3479c0" fill-opacity="0.8" stroke="#fff" stroke-width="0.3"/>
<circle cx="563.1" cy="121.9" r="2.2" fill="#3479c0" fill-opacity="0.8" stroke="#fff" stroke-width="0.3"/>
<circle cx="553.2" cy="127.9" r="2.2" fill="#3479c0" fill-opacity="0.8" stroke="#fff" stroke-width="0.3"/>
<circle cx="538.2" cy="121.1" r="2.2" fill="#3479c0" fill-opacity="0.8" stroke="#fff" stroke-width="0.3"/>
<circle cx="567.3" cy="138.6" r="2.2" fill="#3479c0" fill-opacity="0.8" stroke="#fff" stroke-width="0.3"/>
<circle cx="562.9" cy="90.7" r="2.2" fill="#3479c0" fill-opacity="0.8" stroke="#fff" stroke-width="0.3"/>
<circle cx="564.9" cy="86.6" r="2.2" fill="#3479c0" fill-opacity="0.8" stroke="#fff" stroke-width="0.3"/>
<circle cx="557.5" cy="115.9" r="2.2" fill="#3479c0" fill-opacity="0.8" stroke="#fff" stroke-width="0.3"/>
<circle cx="542.6" cy="144.8" r="2.2" fill="#3479c0" fill-opacity="0.8" stroke="#fff" stroke-width="0.3"/>
<circle cx="535.0" cy="151.1" r="2.2" fill="#3479c0" fill-opacity="0.8" stroke="#fff" stroke-width="0.3"/>
<circle cx="565.0" cy="100.4" r="2.2" fill="#3479c0" fill-opacity="0.8" stroke="#fff" stroke-width="0.3"/>
<circle cx="578.3" cy="96.1" r="2.2" fill="#3479c0" fill-opacity="0.8" stroke="#fff" stroke-width="0.3"/>
<circle cx="547.1" cy="117.1" r="2.2" fill="#3479c0" fill-opacity="0.8" stroke="#fff" stroke-width="0.3"/>
<circle cx="559.3" cy="82.5" r="2.2" fill="#3479c0" fill-opacity="0.8" stroke="#fff" stroke-width="0.3"/>
<circle cx="589.9" cy="71.5" r="2.2" fill="#3479c0" fill-opacity="0.8" stroke="#fff" stroke-width="0.3"/>
<circle cx="544.9" cy="136.0" r="2.2" fill="#3479c0" fill-opacity="0.8" stroke="#fff" stroke-width="0.3"/>
<circle cx="564.2" cy="123.1" r="2.2" fill="#3479c0" fill-opacity="0.8" stroke="#fff" stroke-width="0.3"/>
<circle cx="569.0" cy="94.0" r="2.2" fill="#3479c0" fill-opacity="0.8" stroke="#fff" stroke-width="0.3"/>
<circle cx="573.6" cy="98.3" r="2.2" fill="#3479c0" fill-opacity="0.8" stroke="#fff" stroke-width="0.3"/>
<circle cx="548.6" cy="138.6" r="2.2" fill="#3479c0" fill-opacity="0.8" stroke="#fff" stroke-width="0.3"/>
<circle cx="559.7" cy="90.4" r="2.2" fill="#3479c0" fill-opacity="0.8" stroke="#fff" stroke-width="0.3"/>
<circle cx="584.3" cy="75.9" r="2.2" fill="#3479c0" fill-opacity="0.8" stroke="#fff" stroke-width="0.3"/>
<circle cx="566.7" cy="96.1" r="2.2" fill="#3479c0" fill-opacity="0.8" stroke="#fff" stroke-width="0.3"/>
<circle cx="573.4" cy="79.4" r="2.2" fill="#3479c0" fill-opacity="0.8" stroke="#fff" stroke-width="0.3"/>
<circle cx="573.9" cy="129.7" r="2.2" fill="#3479c0" fill-opacity="0.8" stroke="#fff" stroke-width="0.3"/>
<circle cx="575.3" cy="94.1" r="2.2" fill="#3479c0" fill-opacity="0.8" stroke="#fff" stroke-width="0.3"/>
<circle cx="554.8" cy="108.9" r="2.2" fill="#3479c0" fill-opacity="0.8" stroke="#fff" stroke-width="0.3"/>
<circle cx="565.6" cy="110.1" r="2.2" fill="#3479c0" fill-opacity="0.8" stroke="#fff" stroke-width="0.3"/>
<circle cx="536.9" cy="131.4" r="2.2" fill="#3479c0" fill-opacity="0.8" stroke="#fff" stroke-width="0.3"/>
<circle cx="569.5" cy="106.7" r="2.2" fill="#3479c0" fill-opacity="0.8" stroke="#fff" stroke-width="0.3"/>
<circle cx="538.4" cy="123.9" r="2.2" fill="#3479c0" fill-opacity="0.8" stroke="#fff" stroke-width="0.3"/>
<circle cx="571.9" cy="100.6" r="2.2" fill="#3479c0" fill-opacity="0.8" stroke="#fff" stroke-width="0.3"/>
<circle cx="567.6" cy="113.8" r="2.2" fill="#3479c0" fill-opacity="0.8" stroke="#fff" stroke-width="0.3"/>
<circle cx="551.9" cy="111.4" r="2.2" fill="#3479c0" fill-opacity="0.8" stroke="#fff" stroke-width="0.3"/>
<circle cx="556.3" cy="113.8" r="2.2" fill="#3479c0" fill-opacity="0.8" stroke="#fff" stroke-width="0.3"/>
<circle cx="608.7" cy="60.0" r="2.2" fill="#3479c0" fill-opacity="0.8" stroke="#fff" stroke-width="0.3"/>
<circle cx="563.4" cy="140.1" r="2.2" fill="#3479c0" fill-opacity="0.8" stroke="#fff" stroke-width="0.3"/>
<circle cx="562.8" cy="97.9" r="2.2" fill="#3479c0" fill-opacity="0.8" stroke="#fff" stroke-width="0.3"/>
<circle cx="551.2" cy="125.6" r="2.2" fill="#3479c0" fill-opacity="0.8" stroke="#fff" stroke-width="0.3"/>
<circle cx="528.7" cy="130.4" r="2.2" fill="#3479c0" fill-opacity="0.8" stroke="#fff" stroke-width="0.3"/>
<circle cx="552.8" cy="107.7" r="2.2" fill="#3479c0" fill-opacity="0.8" stroke="#fff" stroke-width="0.3"/>
<circle cx="581.3" cy="98.9" r="2.2" fill="#3479c0" fill-opacity="0.8" stroke="#fff" stroke-width="0.3"/>
<circle cx="575.7" cy="96.1" r="2.2" fill="#3479c0" fill-opacity="0.8" stroke="#fff" stroke-width="0.3"/>
<circle cx="558.5" cy="120.2" r="2.2" fill="#3479c0" fill-opacity="0.8" stroke="#fff" stroke-width="0.3"/>
<circle cx="549.1" cy="100.1" r="2.2" fill="#3479c0" fill-opacity="0.8" stroke="#fff" stroke-width="0.3"/>
<circle cx="574.2" cy="119.9" r="2.2" fill="#3479c0" fill-opacity="0.8" stroke="#fff" stroke-width="0.3"/>
<circle cx="573.7" cy="115.4" r="2.2" fill="#3479c0" fill-opacity="0.8" stroke="#fff" stroke-width="0.3"/>
<circle cx="539.6" cy="109.7" r="2.2" fill="#3479c0" fill-opacity="0.8" stroke="#fff" stroke-width="0.3"/>
<circle cx="542.9" cy="107.1" r="2.2" fill="#3479c0" fill-opacity="0.8" stroke="#fff" stroke-width="0.3"/>
<circle cx="564.3" cy="94.1" r="2.2" fill="#3479c0" fill-opacity="0.8" stroke="#fff" stroke-width="0.3"/>
<circle cx="568.9" cy="85.7" r="2.2" fill="#3479c0" fill-opacity="0.8" stroke="#fff" stroke-width="0.3"/>
<circle cx="566.5" cy="98.1" r="2.2" fill="#3479c0" fill-opacity="0.8" stroke="#fff" stroke-width="0.3"/>
<circle cx="565.1" cy="90.0" r="2.2" fill="#3479c0" fill-opacity="0.8" stroke="#fff" stroke-width="0.3"/>
<circle cx="555.8" cy="99.3" r="2.2" fill="#3479c0" fill-opacity="0.8" stroke="#fff" stroke-width="0.3"/>
<circle cx="583.3" cy="95.4" r="2.2" fill="#3479c0" fill-opacity="0.8" stroke="#fff" stroke-width="0.3"/>
<circle cx="567.8" cy="116.5" r="2.2" fill="#3479c0" fill-opacity="0.8" stroke="#fff" stroke-width="0.3"/>
<circle cx="557.3" cy="111.5" r="2.2" fill="#3479c0" fill-opacity="0.8" stroke="#fff" stroke-width="0.3"/>
<circle cx="556.5" cy="132.7" r="2.2" fill="#3479c0" fill-opacity="0.8" stroke="#fff" stroke-width="0.3"/>
<circle cx="561.0" cy="109.6" r="2.2" fill="#3479c0" fill-opacity="0.8" stroke="#fff" stroke-width="0.3"/>
<circle cx="566.1" cy="96.0" r="2.2" fill="#3479c0" fill-opacity="0.8" stroke="#fff" stroke-width="0.3"/>
<circle cx="535.7" cy="109.1" r="2.2" fill="#3479c0" fill-opacity="0.8" stroke="#fff" stroke-width="0.3"/>
<circle cx="558.9" cy="128.6" r="2.2" fill="#3479c0" fill-opacity="0.8" stroke="#fff" stroke-width="0.3"/>
<circle cx="556.1" cy="109.3" r="2.2" fill="#3479c0" fill-opacity="0.8" stroke="#fff" stroke-width="0.3"/>
<circle cx="574.1" cy="108.6" r="2.2" fill="#3479c0" fill-opacity="0.8" stroke="#fff" stroke-width="0.3"/>
<circle cx="563.7" cy="139.3" r="2.2" fill="#3479c0" fill-opacity="0.8" stroke="#fff" stroke-width="0.3"/>
<circle cx="563.9" cy="112.6" r="2.2" fill="#3479c0" fill-opacity="0.8" stroke="#fff" stroke-width="0.3"/>
<circle cx="555.2" cy="102.1" r="2.2" fill="#3479c0" fill-opacity="0.8" stroke="#fff" stroke-width="0.3"/>
<circle cx="587.5" cy="72.2" r="2.2" fill="#3479c0" fill-opacity="0.8" stroke="#fff" stroke-width="0.3"/>
<circle cx="550.1" cy="94.9" r="2.2" fill="#3479c0" fill-opacity="0.8" stroke="#fff" stroke-width="0.3"/>
<circle cx="556.6" cy="117.5" r="2.2" fill="#3479c0" fill-opacity="0.8" stroke="#fff" stroke-width="0.3"/>
<circle cx="553.0" cy="111.6" r="2.2" fill="#3479c0" fill-opacity="0.8" stroke="#fff" stroke-width="0.3"/>
<circle cx="569.5" cy="103.3" r="2.2" fill="#3479c0" fill-opacity="0.8" stroke="#fff" stroke-width="0.3"/>
<circle cx="558.4" cy="117.8" r="2.2" fill="#3479c0" fill-opacity="0.8" stroke="#fff" stroke-width="0.3"/>
<circle cx="555.6" cy="100.2" r="2.2" fill="#3479c0" fill-opacity="0.8" stroke="#fff" stroke-width="0.3"/>
<circle cx="553.9" cy="121.7" r="2.2" fill="#3479c0" fill-opacity="0.8" stroke="#fff" stroke-width="0.3"/>
<circle cx="558.4" cy="128.7" r="2.2" fill="#3479c0" fill-opacity="0.8" stroke="#fff" stroke-width="0.3"/>
<circle cx="558.1" cy="141.7" r="2.2" fill="#3479c0" fill-opacity="0.8" stroke="#fff" stroke-width="0.3"/>
<circle cx="567.4" cy="98.0" r="2.2" fill="#3479c0" fill-opacity="0.8" stroke="#fff" stroke-width="0.3"/>
<circle cx="557.1" cy="88.6" r="2.2" fill="#3479c0" fill-opacity="0.8" stroke="#fff" stroke-width="0.3"/>
<circle cx="549.6" cy="112.8" r="2.2" fill="#3479c0" fill-opacity="0.8" stroke="#fff" stroke-width="0.3"/>
<circle cx="568.4" cy="116.4" r="2.2" fill="#3479c0" fill-opacity="0.8" stroke="#fff" stroke-width="0.3"/>
<circle cx="558.0" cy="99.7" r="2.2" fill="#3479c0" fill-opacity="0.8" stroke="#fff" stroke-width="0.3"/>
<circle cx="562.3" cy="106.9" r="2.2" fill="#3479c0" fill-opacity="0.8" stroke="#fff" stroke-width="0.3"/>
<circle cx="581.7" cy="91.7" r="2.2" fill="#3479c0" fill-opacity="0.8" stroke="#fff" stroke-width="0.3"/>
<circle cx="537.3" cy="146.2" r="2.2" fill="#3479c0" fill-opacity="0.8" stroke="#fff" stroke-width="0.3"/>
<circle cx="573.5" cy="104.8" r="2.2" fill="#3479c0" fill-opacity="0.8" stroke="#fff" stroke-width="0.3"/>
<circle cx="545.8" cy="161.1" r="2.2" fill="#3479c0" fill-opacity="0.8" stroke="#fff" stroke-width="0.3"/>
<circle cx="566.1" cy="82.0" r="2.2" fill="#3479c0" fill-opacity="0.8" stroke="#fff" stroke-width="0.3"/>
<circle cx="543.3" cy="166.6" r="2.2" fill="#3479c0" fill-opacity="0.8" stroke="#fff" stroke-width="0.3"/>
<circle cx="568.6" cy="116.3" r="2.2" fill="#3479c0" fill-opacity="0.8" stroke="#fff" stroke-width="0.3"/>
<circle cx="557.2" cy="122.0" r="2.2" fill="#3479c0" fill-opacity="0.8" stroke="#fff" stroke-width="0.3"/>
<circle cx="548.4" cy="115.8" r="2.2" fill="#3479c0" fill-opacity="0.8" stroke="#fff" stroke-width="0.3"/>
<circle cx="574.7" cy="95.0" r="2.2" fill="#3479c0" fill-opacity="0.8" stroke="#fff" stroke-width="0.3"/>
<circle cx="553.4" cy="100.9" r="2.2" fill="#3479c0" fill-opacity="0.8" stroke="#fff" stroke-width="0.3"/>
<circle cx="559.9" cy="103.7" r="2.2" fill="#3479c0" fill-opacity="0.8" stroke="#fff" stroke-width="0.3"/>
<circle cx="548.0" cy="112.4" r="2.2" fill="#3479c0" fill-opacity="0.8" stroke="#fff" stroke-width="0.3"/>
<circle cx="572.2" cy="80.7" r="2.2" fill="#3479c0" fill-opacity="0.8" stroke="#fff" stroke-width="0.3"/>
<circle cx="561.9" cy="104.4" r="2.2" fill="#3479c0" fill-opacity="0.8" stroke="#fff" stroke-width="0.3"/>
<circle cx="553.1" cy="104.0" r="2.2" fill="#3479c0" fill-opacity="0.8" stroke="#fff" stroke-width="0.3"/>
<circle cx="572.6" cy="84.0" r="2.2" fill="#3479c0" fill-opacity="0.8" stroke="#fff" stroke-width="0.3"/>
<circle cx="555.9" cy="139.1" r="2.2" fill="#3479c0" fill-opacity="0.8" stroke="#fff" stroke-width="0.3"/>
<circle cx="560.5" cy="117.2" r="2.2" fill="#3479c0" fill-opacity="0.8" stroke="#fff" stroke-width="0.3"/>
<circle cx="550.7" cy="111.0" r="2.2" fill="#3479c0" fill-opacity="0.8" stroke="#fff" stroke-width="0.3"/>
<circle cx="575.1" cy="94.1" r="2.2" fill="#3479c0" fill-opacity="0.8" stroke="#fff" stroke-width="0.3"/>
<circle cx="577.4" cy="92.1" r="2.2" fill="#3479c0" fill-opacity="0.8" stroke="#fff" stroke-width="0.3"/>
<circle cx="547.4" cy="134.9" r="2.2" fill="#3479c0" fill-opacity="0.8" stroke="#fff" stroke-width="0.3"/>
<circle cx="556.4" cy="104.8" r="2.2" fill="#3479c0" fill-opacity="0.8" stroke="#fff" stroke-width="0.3"/>
<circle cx="574.7" cy="99.1" r="2.2" fill="#3479c0" fill-opacity="0.8" stroke="#fff" stroke-width="0.3"/>
<circle cx="576.0" cy="114.9" r="2.2" fill="#3479c0" fill-opacity="0.8" stroke="#fff" stroke-width="0.3"/>
<circle cx="558.8" cy="11.1" r="2.2" fill="#3479c0" fill-opacity="0.8" stroke="#fff" stroke-width="0.3"/>
<circle cx="584.1" cy="45.0" r="2.2" fill="#3479c0" fill-opacity="0.8" stroke="#fff" stroke-width="0.3"/>
<circle cx="583.0" cy="45.0" r="2.2" fill="#3479c0" fill-opacity="0.8" stroke="#fff" stroke-width="0.3"/>
<circle cx="570.9" cy="51.5" r="2.2" fill="#3479c0" fill-opacity="0.8" stroke="#fff" stroke-width="0.3"/>
<circle cx="551.1" cy="54.8" r="2.2" fill="#3479c0" fill-opacity="0.8" stroke="#fff" stroke-width="0.3"/>
<circle cx="563.2" cy="57.0" r="2.2" fill="#3479c0" fill-opacity="0.8" stroke="#fff" stroke-width="0.3"/>
<circle cx="554.4" cy="62.5" r="2.2" fill="#3479c0" fill-opacity="0.8" stroke="#fff" stroke-width="0.3"/>
<circle cx="613.8" cy="82.1" r="2.2" fill="#3479c0" fill-opacity="0.8" stroke="#fff" stroke-width="0.3"/>
<circle cx="605.0" cy="77.8" r="2.2" fill="#3479c0" fill-opacity="0.8" stroke="#fff" stroke-width="0.3"/>
<circle cx="523.6" cy="165.2" r="2.2" fill="#3479c0" fill-opacity="0.8" stroke="#fff" stroke-width="0.3"/>
<circle cx="525.8" cy="163.0" r="2.2" fill="#3479c0" fill-opacity="0.8" stroke="#fff" stroke-width="0.3"/>
<circle cx="541.2" cy="171.7" r="2.2" fill="#3479c0" fill-opacity="0.8" stroke="#fff" stroke-width="0.3"/>
<circle cx="539.0" cy="173.9" r="2.2" fill="#3479c0" fill-opacity="0.8" stroke="#fff" stroke-width="0.3"/>
<circle cx="542.3" cy="168.4" r="2.2" fill="#3479c0" fill-opacity="0.8" stroke="#fff" stroke-width="0.3"/>
<circle cx="558.6" cy="100.5" r="2.2" fill="#2e2e2e" fill-opacity="0.78" stroke="#fff" stroke-width="0.3"/>
<circle cx="565.2" cy="98.9" r="2.2" fill="#2e2e2e" fill-opacity="0.78" stroke="#fff" stroke-width="0.3"/>
<circle cx="537.4" cy="157.1" r="2.2" fill="#2e2e2e" fill-opacity="0.78" stroke="#fff" stroke-width="0.3"/>
<circle cx="549.6" cy="114.9" r="2.2" fill="#2e2e2e" fill-opacity="0.78" stroke="#fff" stroke-width="0.3"/>
<circle cx="579.3" cy="103.6" r="2.2" fill="#2e2e2e" fill-opacity="0.78" stroke="#fff" stroke-width="0.3"/>
<circle cx="548.2" cy="139.0" r="2.2" fill="#2e2e2e" fill-opacity="0.78" stroke="#fff" stroke-width="0.3"/>
<circle cx="549.3" cy="120.3" r="2.2" fill="#2e2e2e" fill-opacity="0.78" stroke="#fff" stroke-width="0.3"/>
<circle cx="556.2" cy="98.6" r="2.2" fill="#2e2e2e" fill-opacity="0.78" stroke="#fff" stroke-width="0.3"/>
<circle cx="568.5" cy="115.1" r="2.2" fill="#2e2e2e" fill-opacity="0.78" stroke="#fff" stroke-width="0.3"/>
<circle cx="562.7" cy="114.9" r="2.2" fill="#2e2e2e" fill-opacity="0.78" stroke="#fff" stroke-width="0.3"/>
<circle cx="569.4" cy="96.4" r="2.2" fill="#2e2e2e" fill-opacity="0.78" stroke="#fff" stroke-width="0.3"/>
<circle cx="555.8" cy="110.1" r="2.2" fill="#2e2e2e" fill-opacity="0.78" stroke="#fff" stroke-width="0.3"/>
<circle cx="566.7" cy="110.2" r="2.2" fill="#2e2e2e" fill-opacity="0.78" stroke="#fff" stroke-width="0.3"/>
<circle cx="563.0" cy="105.3" r="2.2" fill="#2e2e2e" fill-opacity="0.78" stroke="#fff" stroke-width="0.3"/>
<circle cx="556.1" cy="127.3" r="2.2" fill="#2e2e2e" fill-opacity="0.78" stroke="#fff" stroke-width="0.3"/>
<circle cx="575.1" cy="100.9" r="2.2" fill="#2e2e2e" fill-opacity="0.78" stroke="#fff" stroke-width="0.3"/>
<circle cx="552.9" cy="117.8" r="2.2" fill="#2e2e2e" fill-opacity="0.78" stroke="#fff" stroke-width="0.3"/>
<circle cx="542.4" cy="132.8" r="2.2" fill="#2e2e2e" fill-opacity="0.78" stroke="#fff" stroke-width="0.3"/>
<circle cx="543.7" cy="136.8" r="2.2" fill="#2e2e2e" fill-opacity="0.78" stroke="#fff" stroke-width="0.3"/>
<circle cx="538.7" cy="145.0" r="2.2" fill="#2e2e2e" fill-opacity="0.78" stroke="#fff" stroke-width="0.3"/>
<circle cx="570.6" cy="107.4" r="2.2" fill="#2e2e2e" fill-opacity="0.78" stroke="#fff" stroke-width="0.3"/>
<circle cx="545.5" cy="110.9" r="2.2" fill="#2e2e2e" fill-opacity="0.78" stroke="#fff" stroke-width="0.3"/>
<circle cx="552.5" cy="106.8" r="2.2" fill="#2e2e2e" fill-opacity="0.78" stroke="#fff" stroke-width="0.3"/>
<circle cx="553.7" cy="138.5" r="2.2" fill="#2e2e2e" fill-opacity="0.78" stroke="#fff" stroke-width="0.3"/>
<circle cx="581.9" cy="98.9" r="2.2" fill="#2e2e2e" fill-opacity="0.78" stroke="#fff" stroke-width="0.3"/>
<circle cx="569.0" cy="93.6" r="2.2" fill="#2e2e2e" fill-opacity="0.78" stroke="#fff" stroke-width="0.3"/>
<circle cx="544.3" cy="130.6" r="2.2" fill="#2e2e2e" fill-opacity="0.78" stroke="#fff" stroke-width="0.3"/>
<circle cx="553.1" cy="115.9" r="2.2" fill="#2e2e2e" fill-opacity="0.78" stroke="#fff" stroke-width="0.3"/>
<circle cx="559.8" cy="130.1" r="2.2" fill="#2e2e2e" fill-opacity="0.78" stroke="#fff" stroke-width="0.3"/>
<circle cx="560.6" cy="106.7" r="2.2" fill="#2e2e2e" fill-opacity="0.78" stroke="#fff" stroke-width="0.3"/>
<circle cx="556.5" cy="113.1" r="2.2" fill="#2e2e2e" fill-opacity="0.78" stroke="#fff" stroke-width="0.3"/>
<circle cx="553.6" cy="122.7" r="2.2" fill="#2e2e2e" fill-opacity="0.78" stroke="#fff" stroke-width="0.3"/>
<circle cx="564.1" cy="110.2" r="2.2" fill="#2e2e2e" fill-opacity="0.78" stroke="#fff" stroke-width="0.3"/>
<circle cx="575.0" cy="90.3" r="2.2" fill="#2e2e2e" fill-opacity="0.78" stroke="#fff" stroke-width="0.3"/>
<circle cx="570.0" cy="97.9" r="2.2" fill="#2e2e2e" fill-opacity="0.78" stroke="#fff" stroke-width="0.3"/>
<circle cx="561.8" cy="127.0" r="2.2" fill="#2e2e2e" fill-opacity="0.78" stroke="#fff" stroke-width="0.3"/>
<circle cx="572.6" cy="84.0" r="2.2" fill="#2e2e2e" fill-opacity="0.78" stroke="#fff" stroke-width="0.3"/>
<circle cx="562.6" cy="116.0" r="2.2" fill="#2e2e2e" fill-opacity="0.78" stroke="#fff" stroke-width="0.3"/>
<circle cx="559.5" cy="102.8" r="2.2" fill="#2e2e2e" fill-opacity="0.78" stroke="#fff" stroke-width="0.3"/>
<circle cx="563.4" cy="123.4" r="2.2" fill="#2e2e2e" fill-opacity="0.78" stroke="#fff" stroke-width="0.3"/>
<circle cx="557.9" cy="126.4" r="2.2" fill="#2e2e2e" fill-opacity="0.78" stroke="#fff" stroke-width="0.3"/>
<circle cx="557.6" cy="128.2" r="2.2" fill="#2e2e2e" fill-opacity="0.78" stroke="#fff" stroke-width="0.3"/>
<circle cx="549.6" cy="109.6" r="2.2" fill="#2e2e2e" fill-opacity="0.78" stroke="#fff" stroke-width="0.3"/>
<circle cx="572.4" cy="121.4" r="2.2" fill="#2e2e2e" fill-opacity="0.78" stroke="#fff" stroke-width="0.3"/>
<circle cx="548.4" cy="132.3" r="2.2" fill="#2e2e2e" fill-opacity="0.78" stroke="#fff" stroke-width="0.3"/>
<circle cx="555.4" cy="135.8" r="2.2" fill="#2e2e2e" fill-opacity="0.78" stroke="#fff" stroke-width="0.3"/>
<circle cx="570.5" cy="123.3" r="2.2" fill="#2e2e2e" fill-opacity="0.78" stroke="#fff" stroke-width="0.3"/>
<circle cx="568.2" cy="99.9" r="2.2" fill="#2e2e2e" fill-opacity="0.78" stroke="#fff" stroke-width="0.3"/>
<circle cx="555.6" cy="127.4" r="2.2" fill="#2e2e2e" fill-opacity="0.78" stroke="#fff" stroke-width="0.3"/>
<circle cx="560.7" cy="113.5" r="2.2" fill="#2e2e2e" fill-opacity="0.78" stroke="#fff" stroke-width="0.3"/>
<circle cx="535.2" cy="154.4" r="2.2" fill="#2e2e2e" fill-opacity="0.78" stroke="#fff" stroke-width="0.3"/>
<circle cx="566.3" cy="110.8" r="2.2" fill="#2e2e2e" fill-opacity="0.78" stroke="#fff" stroke-width="0.3"/>
<circle cx="555.1" cy="131.7" r="2.2" fill="#2e2e2e" fill-opacity="0.78" stroke="#fff" stroke-width="0.3"/>
<circle cx="551.7" cy="132.6" r="2.2" fill="#2e2e2e" fill-opacity="0.78" stroke="#fff" stroke-width="0.3"/>
<circle cx="593.0" cy="96.9" r="2.2" fill="#2e2e2e" fill-opacity="0.78" stroke="#fff" stroke-width="0.3"/>
<circle cx="578.1" cy="92.5" r="2.2" fill="#2e2e2e" fill-opacity="0.78" stroke="#fff" stroke-width="0.3"/>
<circle cx="562.5" cy="111.1" r="2.2" fill="#2e2e2e" fill-opacity="0.78" stroke="#fff" stroke-width="0.3"/>
<circle cx="555.5" cy="102.4" r="2.2" fill="#2e2e2e" fill-opacity="0.78" stroke="#fff" stroke-width="0.3"/>
<circle cx="566.0" cy="110.2" r="2.2" fill="#2e2e2e" fill-opacity="0.78" stroke="#fff" stroke-width="0.3"/>
<circle cx="558.5" cy="115.0" r="2.2" fill="#2e2e2e" fill-opacity="0.78" stroke="#fff" stroke-width="0.3"/>
<circle cx="546.5" cy="132.8" r="2.2" fill="#2e2e2e" fill-opacity="0.78" stroke="#fff" stroke-width="0.3"/>
<circle cx="552.6" cy="116.3" r="2.2" fill="#2e2e2e" fill-opacity="0.78" stroke="#fff" stroke-width="0.3"/>
<circle cx="567.1" cy="129.5" r="2.2" fill="#2e2e2e" fill-opacity="0.78" stroke="#fff" stroke-width="0.3"/>
<circle cx="557.4" cy="107.5" r="2.2" fill="#2e2e2e" fill-opacity="0.78" stroke="#fff" stroke-width="0.3"/>
<circle cx="544.7" cy="144.2" r="2.2" fill="#2e2e2e" fill-opacity="0.78" stroke="#fff" stroke-width="0.3"/>
<circle cx="571.8" cy="105.5" r="2.2" fill="#2e2e2e" fill-opacity="0.78" stroke="#fff" stroke-width="0.3"/>
<circle cx="554.7" cy="134.6" r="2.2" fill="#2e2e2e" fill-opacity="0.78" stroke="#fff" stroke-width="0.3"/>
<circle cx="562.0" cy="120.0" r="2.2" fill="#2e2e2e" fill-opacity="0.78" stroke="#fff" stroke-width="0.3"/>
<circle cx="562.5" cy="108.6" r="2.2" fill="#2e2e2e" fill-opacity="0.78" stroke="#fff" stroke-width="0.3"/>
<circle cx="568.3" cy="111.2" r="2.2" fill="#2e2e2e" fill-opacity="0.78" stroke="#fff" stroke-width="0.3"/>
<circle cx="553.8" cy="121.7" r="2.2" fill="#2e2e2e" fill-opacity="0.78" stroke="#fff" stroke-width="0.3"/>
<circle cx="558.8" cy="115.1" r="2.2" fill="#2e2e2e" fill-opacity="0.78" stroke="#fff" stroke-width="0.3"/>
<circle cx="553.7" cy="124.7" r="2.2" fill="#2e2e2e" fill-opacity="0.78" stroke="#fff" stroke-width="0.3"/>
<circle cx="553.1" cy="129.2" r="2.2" fill="#2e2e2e" fill-opacity="0.78" stroke="#fff" stroke-width="0.3"/>
<circle cx="561.9" cy="101.2" r="2.2" fill="#2e2e2e" fill-opacity="0.78" stroke="#fff" stroke-width="0.3"/>
<circle cx="553.7" cy="115.6" r="2.2" fill="#2e2e2e" fill-opacity="0.78" stroke="#fff" stroke-width="0.3"/>
<circle cx="564.1" cy="110.5" r="2.2" fill="#2e2e2e" fill-opacity="0.78" stroke="#fff" stroke-width="0.3"/>
<circle cx="568.0" cy="114.0" r="2.2" fill="#2e2e2e" fill-opacity="0.78" stroke="#fff" stroke-width="0.3"/>
<circle cx="566.7" cy="105.9" r="2.2" fill="#2e2e2e" fill-opacity="0.78" stroke="#fff" stroke-width="0.3"/>
<circle cx="567.1" cy="87.1" r="2.2" fill="#2e2e2e" fill-opacity="0.78" stroke="#fff" stroke-width="0.3"/>
<circle cx="547.4" cy="127.2" r="2.2" fill="#2e2e2e" fill-opacity="0.78" stroke="#fff" stroke-width="0.3"/>
<circle cx="564.2" cy="122.5" r="2.2" fill="#2e2e2e" fill-opacity="0.78" stroke="#fff" stroke-width="0.3"/>
<circle cx="574.2" cy="96.7" r="2.2" fill="#2e2e2e" fill-opacity="0.78" stroke="#fff" stroke-width="0.3"/>
<circle cx="550.6" cy="138.5" r="2.2" fill="#2e2e2e" fill-opacity="0.78" stroke="#fff" stroke-width="0.3"/>
<circle cx="555.1" cy="94.3" r="2.2" fill="#2e2e2e" fill-opacity="0.78" stroke="#fff" stroke-width="0.3"/>
<circle cx="585.5" cy="118.0" r="2.2" fill="#2e2e2e" fill-opacity="0.78" stroke="#fff" stroke-width="0.3"/>
<circle cx="538.4" cy="129.8" r="2.2" fill="#2e2e2e" fill-opacity="0.78" stroke="#fff" stroke-width="0.3"/>
<circle cx="558.7" cy="124.2" r="2.2" fill="#2e2e2e" fill-opacity="0.78" stroke="#fff" stroke-width="0.3"/>
<circle cx="567.2" cy="107.6" r="2.2" fill="#2e2e2e" fill-opacity="0.78" stroke="#fff" stroke-width="0.3"/>
<circle cx="563.4" cy="109.5" r="2.2" fill="#2e2e2e" fill-opacity="0.78" stroke="#fff" stroke-width="0.3"/>
<circle cx="547.1" cy="114.0" r="2.2" fill="#2e2e2e" fill-opacity="0.78" stroke="#fff" stroke-width="0.3"/>
<circle cx="554.5" cy="108.6" r="2.2" fill="#2e2e2e" fill-opacity="0.78" stroke="#fff" stroke-width="0.3"/>
<circle cx="568.2" cy="107.3" r="2.2" fill="#2e2e2e" fill-opacity="0.78" stroke="#fff" stroke-width="0.3"/>
<circle cx="561.6" cy="114.7" r="2.2" fill="#2e2e2e" fill-opacity="0.78" stroke="#fff" stroke-width="0.3"/>
<circle cx="538.2" cy="141.1" r="2.2" fill="#2e2e2e" fill-opacity="0.78" stroke="#fff" stroke-width="0.3"/>
<circle cx="565.1" cy="128.7" r="2.2" fill="#2e2e2e" fill-opacity="0.78" stroke="#fff" stroke-width="0.3"/>
<circle cx="542.3" cy="121.4" r="2.2" fill="#2e2e2e" fill-opacity="0.78" stroke="#fff" stroke-width="0.3"/>
<circle cx="569.6" cy="123.5" r="2.2" fill="#2e2e2e" fill-opacity="0.78" stroke="#fff" stroke-width="0.3"/>
<circle cx="565.5" cy="111.0" r="2.2" fill="#2e2e2e" fill-opacity="0.78" stroke="#fff" stroke-width="0.3"/>
<circle cx="571.6" cy="107.9" r="2.2" fill="#2e2e2e" fill-opacity="0.78" stroke="#fff" stroke-width="0.3"/>
<circle cx="557.4" cy="126.8" r="2.2" fill="#2e2e2e" fill-opacity="0.78" stroke="#fff" stroke-width="0.3"/>
<circle cx="562.1" cy="115.1" r="2.2" fill="#2e2e2e" fill-opacity="0.78" stroke="#fff" stroke-width="0.3"/>
<circle cx="552.2" cy="127.4" r="2.2" fill="#2e2e2e" fill-opacity="0.78" stroke="#fff" stroke-width="0.3"/>
<circle cx="551.0" cy="117.8" r="2.2" fill="#2e2e2e" fill-opacity="0.78" stroke="#fff" stroke-width="0.3"/>
<circle cx="547.7" cy="145.4" r="2.2" fill="#2e2e2e" fill-opacity="0.78" stroke="#fff" stroke-width="0.3"/>
<circle cx="548.5" cy="115.1" r="2.2" fill="#2e2e2e" fill-opacity="0.78" stroke="#fff" stroke-width="0.3"/>
<circle cx="553.9" cy="114.6" r="2.2" fill="#2e2e2e" fill-opacity="0.78" stroke="#fff" stroke-width="0.3"/>
<circle cx="568.7" cy="112.9" r="2.2" fill="#2e2e2e" fill-opacity="0.78" stroke="#fff" stroke-width="0.3"/>
<circle cx="569.0" cy="101.3" r="2.2" fill="#2e2e2e" fill-opacity="0.78" stroke="#fff" stroke-width="0.3"/>
<circle cx="559.5" cy="124.3" r="2.2" fill="#2e2e2e" fill-opacity="0.78" stroke="#fff" stroke-width="0.3"/>
<circle cx="559.3" cy="130.9" r="2.2" fill="#2e2e2e" fill-opacity="0.78" stroke="#fff" stroke-width="0.3"/>
<circle cx="556.7" cy="125.6" r="2.2" fill="#2e2e2e" fill-opacity="0.78" stroke="#fff" stroke-width="0.3"/>
<circle cx="565.2" cy="106.9" r="2.2" fill="#2e2e2e" fill-opacity="0.78" stroke="#fff" stroke-width="0.3"/>
<circle cx="552.3" cy="113.8" r="2.2" fill="#2e2e2e" fill-opacity="0.78" stroke="#fff" stroke-width="0.3"/>
<circle cx="574.2" cy="101.0" r="2.2" fill="#2e2e2e" fill-opacity="0.78" stroke="#fff" stroke-width="0.3"/>
<circle cx="551.1" cy="119.0" r="2.2" fill="#2e2e2e" fill-opacity="0.78" stroke="#fff" stroke-width="0.3"/>
<circle cx="530.9" cy="151.3" r="2.2" fill="#2e2e2e" fill-opacity="0.78" stroke="#fff" stroke-width="0.3"/>
<circle cx="566.9" cy="86.6" r="2.2" fill="#2e2e2e" fill-opacity="0.78" stroke="#fff" stroke-width="0.3"/>
<circle cx="551.2" cy="107.5" r="2.2" fill="#2e2e2e" fill-opacity="0.78" stroke="#fff" stroke-width="0.3"/>
<circle cx="587.7" cy="67.2" r="2.2" fill="#2e2e2e" fill-opacity="0.78" stroke="#fff" stroke-width="0.3"/>
<circle cx="531.8" cy="131.5" r="2.2" fill="#2e2e2e" fill-opacity="0.78" stroke="#fff" stroke-width="0.3"/>
<circle cx="562.3" cy="102.2" r="2.2" fill="#2e2e2e" fill-opacity="0.78" stroke="#fff" stroke-width="0.3"/>
<circle cx="557.8" cy="124.9" r="2.2" fill="#2e2e2e" fill-opacity="0.78" stroke="#fff" stroke-width="0.3"/>
<circle cx="557.2" cy="101.7" r="2.2" fill="#2e2e2e" fill-opacity="0.78" stroke="#fff" stroke-width="0.3"/>
<circle cx="570.0" cy="109.2" r="2.2" fill="#2e2e2e" fill-opacity="0.78" stroke="#fff" stroke-width="0.3"/>
<circle cx="564.5" cy="101.7" r="2.2" fill="#2e2e2e" fill-opacity="0.78" stroke="#fff" stroke-width="0.3"/>
<circle cx="566.7" cy="109.6" r="2.2" fill="#2e2e2e" fill-opacity="0.78" stroke="#fff" stroke-width="0.3"/>
<circle cx="552.1" cy="132.1" r="2.2" fill="#2e2e2e" fill-opacity="0.78" stroke="#fff" stroke-width="0.3"/>
<circle cx="554.7" cy="127.3" r="2.2" fill="#2e2e2e" fill-opacity="0.78" stroke="#fff" stroke-width="0.3"/>
<circle cx="541.1" cy="150.6" r="2.2" fill="#2e2e2e" fill-opacity="0.78" stroke="#fff" stroke-width="0.3"/>
<circle cx="570.5" cy="118.1" r="2.2" fill="#2e2e2e" fill-opacity="0.78" stroke="#fff" stroke-width="0.3"/>
<circle cx="544.2" cy="132.0" r="2.2" fill="#2e2e2e" fill-opacity="0.78" stroke="#fff" stroke-width="0.3"/>
<circle cx="577.3" cy="84.5" r="2.2" fill="#2e2e2e" fill-opacity="0.78" stroke="#fff" stroke-width="0.3"/>
<circle cx="555.0" cy="132.5" r="2.2" fill="#2e2e2e" fill-opacity="0.78" stroke="#fff" stroke-width="0.3"/>
<circle cx="553.5" cy="132.6" r="2.2" fill="#2e2e2e" fill-opacity="0.78" stroke="#fff" stroke-width="0.3"/>
<circle cx="553.4" cy="117.1" r="2.2" fill="#2e2e2e" fill-opacity="0.78" stroke="#fff" stroke-width="0.3"/>
<circle cx="547.2" cy="137.4" r="2.2" fill="#2e2e2e" fill-opacity="0.78" stroke="#fff" stroke-width="0.3"/>
<circle cx="556.8" cy="119.3" r="2.2" fill="#2e2e2e" fill-opacity="0.78" stroke="#fff" stroke-width="0.3"/>
<circle cx="550.7" cy="134.0" r="2.2" fill="#2e2e2e" fill-opacity="0.78" stroke="#fff" stroke-width="0.3"/>
<circle cx="546.4" cy="137.9" r="2.2" fill="#2e2e2e" fill-opacity="0.78" stroke="#fff" stroke-width="0.3"/>
<circle cx="566.2" cy="112.5" r="2.2" fill="#2e2e2e" fill-opacity="0.78" stroke="#fff" stroke-width="0.3"/>
<circle cx="559.1" cy="126.6" r="2.2" fill="#2e2e2e" fill-opacity="0.78" stroke="#fff" stroke-width="0.3"/>
<circle cx="556.9" cy="153.2" r="2.2" fill="#2e2e2e" fill-opacity="0.78" stroke="#fff" stroke-width="0.3"/>
<circle cx="540.0" cy="122.6" r="2.2" fill="#2e2e2e" fill-opacity="0.78" stroke="#fff" stroke-width="0.3"/>
<circle cx="585.6" cy="65.8" r="2.2" fill="#2e2e2e" fill-opacity="0.78" stroke="#fff" stroke-width="0.3"/>
<circle cx="551.1" cy="124.3" r="2.2" fill="#2e2e2e" fill-opacity="0.78" stroke="#fff" stroke-width="0.3"/>
<circle cx="569.3" cy="120.5" r="2.2" fill="#2e2e2e" fill-opacity="0.78" stroke="#fff" stroke-width="0.3"/>
<circle cx="580.9" cy="103.3" r="2.2" fill="#2e2e2e" fill-opacity="0.78" stroke="#fff" stroke-width="0.3"/>
<circle cx="564.2" cy="124.8" r="2.2" fill="#2e2e2e" fill-opacity="0.78" stroke="#fff" stroke-width="0.3"/>
<circle cx="564.3" cy="111.8" r="2.2" fill="#2e2e2e" fill-opacity="0.78" stroke="#fff" stroke-width="0.3"/>
<circle cx="573.0" cy="116.1" r="2.2" fill="#2e2e2e" fill-opacity="0.78" stroke="#fff" stroke-width="0.3"/>
<circle cx="559.8" cy="95.5" r="2.2" fill="#2e2e2e" fill-opacity="0.78" stroke="#fff" stroke-width="0.3"/>
<circle cx="545.5" cy="126.3" r="2.2" fill="#2e2e2e" fill-opacity="0.78" stroke="#fff" stroke-width="0.3"/>
<circle cx="565.2" cy="116.3" r="2.2" fill="#2e2e2e" fill-opacity="0.78" stroke="#fff" stroke-width="0.3"/>
<circle cx="556.7" cy="103.2" r="2.2" fill="#2e2e2e" fill-opacity="0.78" stroke="#fff" stroke-width="0.3"/>
<circle cx="573.7" cy="95.9" r="2.2" fill="#2e2e2e" fill-opacity="0.78" stroke="#fff" stroke-width="0.3"/>
<circle cx="563.1" cy="125.6" r="2.2" fill="#2e2e2e" fill-opacity="0.78" stroke="#fff" stroke-width="0.3"/>
<circle cx="561.0" cy="94.5" r="2.2" fill="#2e2e2e" fill-opacity="0.78" stroke="#fff" stroke-width="0.3"/>
<circle cx="572.6" cy="118.8" r="2.2" fill="#2e2e2e" fill-opacity="0.78" stroke="#fff" stroke-width="0.3"/>
<circle cx="534.9" cy="148.4" r="2.2" fill="#2e2e2e" fill-opacity="0.78" stroke="#fff" stroke-width="0.3"/>
<circle cx="561.9" cy="120.3" r="2.2" fill="#2e2e2e" fill-opacity="0.78" stroke="#fff" stroke-width="0.3"/>
<circle cx="556.2" cy="115.8" r="2.2" fill="#2e2e2e" fill-opacity="0.78" stroke="#fff" stroke-width="0.3"/>
<circle cx="570.8" cy="102.8" r="2.2" fill="#2e2e2e" fill-opacity="0.78" stroke="#fff" stroke-width="0.3"/>
<circle cx="575.0" cy="117.1" r="2.2" fill="#2e2e2e" fill-opacity="0.78" stroke="#fff" stroke-width="0.3"/>
<circle cx="565.6" cy="105.5" r="2.2" fill="#2e2e2e" fill-opacity="0.78" stroke="#fff" stroke-width="0.3"/>
<circle cx="541.9" cy="119.7" r="2.2" fill="#2e2e2e" fill-opacity="0.78" stroke="#fff" stroke-width="0.3"/>
<circle cx="540.6" cy="151.6" r="2.2" fill="#2e2e2e" fill-opacity="0.78" stroke="#fff" stroke-width="0.3"/>
<circle cx="592.2" cy="69.2" r="2.2" fill="#2e2e2e" fill-opacity="0.78" stroke="#fff" stroke-width="0.3"/>
<circle cx="564.5" cy="96.0" r="2.2" fill="#2e2e2e" fill-opacity="0.78" stroke="#fff" stroke-width="0.3"/>
<circle cx="573.8" cy="115.0" r="2.2" fill="#2e2e2e" fill-opacity="0.78" stroke="#fff" stroke-width="0.3"/>
<circle cx="565.8" cy="94.2" r="2.2" fill="#2e2e2e" fill-opacity="0.78" stroke="#fff" stroke-width="0.3"/>
<circle cx="558.0" cy="117.1" r="2.2" fill="#2e2e2e" fill-opacity="0.78" stroke="#fff" stroke-width="0.3"/>
<circle cx="554.3" cy="113.2" r="2.2" fill="#2e2e2e" fill-opacity="0.78" stroke="#fff" stroke-width="0.3"/>
<circle cx="553.2" cy="129.3" r="2.2" fill="#2e2e2e" fill-opacity="0.78" stroke="#fff" stroke-width="0.3"/>
<circle cx="545.0" cy="141.3" r="2.2" fill="#2e2e2e" fill-opacity="0.78" stroke="#fff" stroke-width="0.3"/>
<circle cx="562.6" cy="108.0" r="2.2" fill="#2e2e2e" fill-opacity="0.78" stroke="#fff" stroke-width="0.3"/>
<circle cx="555.2" cy="132.6" r="2.2" fill="#2e2e2e" fill-opacity="0.78" stroke="#fff" stroke-width="0.3"/>
<circle cx="564.0" cy="107.8" r="2.2" fill="#2e2e2e" fill-opacity="0.78" stroke="#fff" stroke-width="0.3"/>
<circle cx="575.4" cy="106.3" r="2.2" fill="#2e2e2e" fill-opacity="0.78" stroke="#fff" stroke-width="0.3"/>
<circle cx="554.9" cy="115.1" r="2.2" fill="#2e2e2e" fill-opacity="0.78" stroke="#fff" stroke-width="0.3"/>
<circle cx="578.5" cy="98.1" r="2.2" fill="#2e2e2e" fill-opacity="0.78" stroke="#fff" stroke-width="0.3"/>
<circle cx="558.9" cy="127.7" r="2.2" fill="#2e2e2e" fill-opacity="0.78" stroke="#fff" stroke-width="0.3"/>
<circle cx="555.3" cy="109.7" r="2.2" fill="#2e2e2e" fill-opacity="0.78" stroke="#fff" stroke-width="0.3"/>
<circle cx="570.3" cy="93.0" r="2.2" fill="#2e2e2e" fill-opacity="0.78" stroke="#fff" stroke-width="0.3"/>
<circle cx="539.9" cy="126.2" r="2.2" fill="#2e2e2e" fill-opacity="0.78" stroke="#fff" stroke-width="0.3"/>
<circle cx="548.7" cy="120.4" r="2.2" fill="#2e2e2e" fill-opacity="0.78" stroke="#fff" stroke-width="0.3"/>
<circle cx="531.1" cy="145.7" r="2.2" fill="#2e2e2e" fill-opacity="0.78" stroke="#fff" stroke-width="0.3"/>
<circle cx="549.2" cy="112.1" r="2.2" fill="#2e2e2e" fill-opacity="0.78" stroke="#fff" stroke-width="0.3"/>
<circle cx="561.4" cy="99.6" r="2.2" fill="#2e2e2e" fill-opacity="0.78" stroke="#fff" stroke-width="0.3"/>
<circle cx="554.6" cy="98.8" r="2.2" fill="#2e2e2e" fill-opacity="0.78" stroke="#fff" stroke-width="0.3"/>
<circle cx="554.5" cy="99.6" r="2.2" fill="#2e2e2e" fill-opacity="0.78" stroke="#fff" stroke-width="0.3"/>
<circle cx="554.0" cy="133.1" r="2.2" fill="#2e2e2e" fill-opacity="0.78" stroke="#fff" stroke-width="0.3"/>
<circle cx="570.9" cy="109.7" r="2.2" fill="#2e2e2e" fill-opacity="0.78" stroke="#fff" stroke-width="0.3"/>
<circle cx="559.2" cy="132.1" r="2.2" fill="#2e2e2e" fill-opacity="0.78" stroke="#fff" stroke-width="0.3"/>
<circle cx="555.7" cy="118.8" r="2.2" fill="#2e2e2e" fill-opacity="0.78" stroke="#fff" stroke-width="0.3"/>
<circle cx="551.3" cy="120.0" r="2.2" fill="#2e2e2e" fill-opacity="0.78" stroke="#fff" stroke-width="0.3"/>
<circle cx="531.9" cy="133.6" r="2.2" fill="#2e2e2e" fill-opacity="0.78" stroke="#fff" stroke-width="0.3"/>
<circle cx="554.9" cy="104.1" r="2.2" fill="#2e2e2e" fill-opacity="0.78" stroke="#fff" stroke-width="0.3"/>
<circle cx="555.6" cy="127.8" r="2.2" fill="#2e2e2e" fill-opacity="0.78" stroke="#fff" stroke-width="0.3"/>
<circle cx="554.4" cy="118.3" r="2.2" fill="#2e2e2e" fill-opacity="0.78" stroke="#fff" stroke-width="0.3"/>
<circle cx="567.2" cy="114.1" r="2.2" fill="#2e2e2e" fill-opacity="0.78" stroke="#fff" stroke-width="0.3"/>
<circle cx="550.2" cy="120.7" r="2.2" fill="#2e2e2e" fill-opacity="0.78" stroke="#fff" stroke-width="0.3"/>
<circle cx="570.0" cy="126.0" r="2.2" fill="#2e2e2e" fill-opacity="0.78" stroke="#fff" stroke-width="0.3"/>
<circle cx="547.1" cy="136.4" r="2.2" fill="#2e2e2e" fill-opacity="0.78" stroke="#fff" stroke-width="0.3"/>
<circle cx="580.8" cy="81.1" r="2.2" fill="#2e2e2e" fill-opacity="0.78" stroke="#fff" stroke-width="0.3"/>
<circle cx="569.7" cy="100.6" r="2.2" fill="#2e2e2e" fill-opacity="0.78" stroke="#fff" stroke-width="0.3"/>
<circle cx="546.2" cy="116.7" r="2.2" fill="#2e2e2e" fill-opacity="0.78" stroke="#fff" stroke-width="0.3"/>
<circle cx="554.5" cy="130.5" r="2.2" fill="#2e2e2e" fill-opacity="0.78" stroke="#fff" stroke-width="0.3"/>
<circle cx="583.6" cy="109.1" r="2.2" fill="#2e2e2e" fill-opacity="0.78" stroke="#fff" stroke-width="0.3"/>
<circle cx="576.9" cy="96.8" r="2.2" fill="#2e2e2e" fill-opacity="0.78" stroke="#fff" stroke-width="0.3"/>
<circle cx="548.6" cy="125.1" r="2.2" fill="#2e2e2e" fill-opacity="0.78" stroke="#fff" stroke-width="0.3"/>
<circle cx="549.6" cy="124.1" r="2.2" fill="#2e2e2e" fill-opacity="0.78" stroke="#fff" stroke-width="0.3"/>
<circle cx="552.0" cy="137.4" r="2.2" fill="#2e2e2e" fill-opacity="0.78" stroke="#fff" stroke-width="0.3"/>
<circle cx="592.5" cy="89.4" r="2.2" fill="#2e2e2e" fill-opacity="0.78" stroke="#fff" stroke-width="0.3"/>
<circle cx="572.0" cy="104.5" r="2.2" fill="#2e2e2e" fill-opacity="0.78" stroke="#fff" stroke-width="0.3"/>
<circle cx="568.2" cy="122.2" r="2.2" fill="#2e2e2e" fill-opacity="0.78" stroke="#fff" stroke-width="0.3"/>
<circle cx="572.2" cy="98.6" r="2.2" fill="#2e2e2e" fill-opacity="0.78" stroke="#fff" stroke-width="0.3"/>
<circle cx="545.5" cy="120.6" r="2.2" fill="#2e2e2e" fill-opacity="0.78" stroke="#fff" stroke-width="0.3"/>
<circle cx="567.2" cy="75.1" r="2.2" fill="#2e2e2e" fill-opacity="0.78" stroke="#fff" stroke-width="0.3"/>
<circle cx="562.8" cy="102.5" r="2.2" fill="#2e2e2e" fill-opacity="0.78" stroke="#fff" stroke-width="0.3"/>
<circle cx="567.5" cy="99.6" r="2.2" fill="#2e2e2e" fill-opacity="0.78" stroke="#fff" stroke-width="0.3"/>
<circle cx="559.6" cy="121.0" r="2.2" fill="#2e2e2e" fill-opacity="0.78" stroke="#fff" stroke-width="0.3"/>
<circle cx="568.6" cy="93.1" r="2.2" fill="#2e2e2e" fill-opacity="0.78" stroke="#fff" stroke-width="0.3"/>
<circle cx="545.6" cy="143.2" r="2.2" fill="#2e2e2e" fill-opacity="0.78" stroke="#fff" stroke-width="0.3"/>
<circle cx="559.4" cy="95.7" r="2.2" fill="#2e2e2e" fill-opacity="0.78" stroke="#fff" stroke-width="0.3"/>
<circle cx="557.4" cy="138.0" r="2.2" fill="#2e2e2e" fill-opacity="0.78" stroke="#fff" stroke-width="0.3"/>
<circle cx="569.8" cy="97.4" r="2.2" fill="#2e2e2e" fill-opacity="0.78" stroke="#fff" stroke-width="0.3"/>
<circle cx="583.8" cy="90.1" r="2.2" fill="#2e2e2e" fill-opacity="0.78" stroke="#fff" stroke-width="0.3"/>
<circle cx="584.1" cy="100.2" r="2.2" fill="#2e2e2e" fill-opacity="0.78" stroke="#fff" stroke-width="0.3"/>
<circle cx="571.0" cy="103.4" r="2.2" fill="#2e2e2e" fill-opacity="0.78" stroke="#fff" stroke-width="0.3"/>
<circle cx="545.3" cy="133.6" r="2.2" fill="#2e2e2e" fill-opacity="0.78" stroke="#fff" stroke-width="0.3"/>
<circle cx="576.2" cy="86.9" r="2.2" fill="#2e2e2e" fill-opacity="0.78" stroke="#fff" stroke-width="0.3"/>
<circle cx="555.3" cy="107.7" r="2.2" fill="#2e2e2e" fill-opacity="0.78" stroke="#fff" stroke-width="0.3"/>
<circle cx="571.0" cy="94.6" r="2.2" fill="#2e2e2e" fill-opacity="0.78" stroke="#fff" stroke-width="0.3"/>
<circle cx="563.5" cy="108.9" r="2.2" fill="#2e2e2e" fill-opacity="0.78" stroke="#fff" stroke-width="0.3"/>
<circle cx="549.8" cy="126.7" r="2.2" fill="#2e2e2e" fill-opacity="0.78" stroke="#fff" stroke-width="0.3"/>
<circle cx="561.5" cy="122.9" r="2.2" fill="#2e2e2e" fill-opacity="0.78" stroke="#fff" stroke-width="0.3"/>
<circle cx="556.4" cy="117.5" r="2.2" fill="#2e2e2e" fill-opacity="0.78" stroke="#fff" stroke-width="0.3"/>
<circle cx="562.6" cy="101.1" r="2.2" fill="#2e2e2e" fill-opacity="0.78" stroke="#fff" stroke-width="0.3"/>
<circle cx="547.4" cy="133.0" r="2.2" fill="#2e2e2e" fill-opacity="0.78" stroke="#fff" stroke-width="0.3"/>
<circle cx="563.3" cy="117.0" r="2.2" fill="#2e2e2e" fill-opacity="0.78" stroke="#fff" stroke-width="0.3"/>
<circle cx="564.0" cy="117.2" r="2.2" fill="#2e2e2e" fill-opacity="0.78" stroke="#fff" stroke-width="0.3"/>
<circle cx="574.4" cy="104.2" r="2.2" fill="#2e2e2e" fill-opacity="0.78" stroke="#fff" stroke-width="0.3"/>
<circle cx="546.0" cy="121.1" r="2.2" fill="#2e2e2e" fill-opacity="0.78" stroke="#fff" stroke-width="0.3"/>
<circle cx="580.3" cy="117.8" r="2.2" fill="#2e2e2e" fill-opacity="0.78" stroke="#fff" stroke-width="0.3"/>
<circle cx="558.4" cy="116.7" r="2.2" fill="#2e2e2e" fill-opacity="0.78" stroke="#fff" stroke-width="0.3"/>
<circle cx="572.6" cy="86.1" r="2.2" fill="#2e2e2e" fill-opacity="0.78" stroke="#fff" stroke-width="0.3"/>
<circle cx="558.0" cy="135.7" r="2.2" fill="#2e2e2e" fill-opacity="0.78" stroke="#fff" stroke-width="0.3"/>
<circle cx="568.1" cy="96.2" r="2.2" fill="#2e2e2e" fill-opacity="0.78" stroke="#fff" stroke-width="0.3"/>
<circle cx="565.7" cy="109.3" r="2.2" fill="#2e2e2e" fill-opacity="0.78" stroke="#fff" stroke-width="0.3"/>
<circle cx="581.9" cy="60.3" r="2.2" fill="#2e2e2e" fill-opacity="0.78" stroke="#fff" stroke-width="0.3"/>
<circle cx="587.4" cy="67.9" r="2.2" fill="#2e2e2e" fill-opacity="0.78" stroke="#fff" stroke-width="0.3"/>
<circle cx="526.9" cy="86.5" r="2.2" fill="#2e2e2e" fill-opacity="0.78" stroke="#fff" stroke-width="0.3"/>
<circle cx="577.5" cy="157.5" r="2.2" fill="#2e2e2e" fill-opacity="0.78" stroke="#fff" stroke-width="0.3"/>
<circle cx="590.7" cy="101.8" r="2.2" fill="#2e2e2e" fill-opacity="0.78" stroke="#fff" stroke-width="0.3"/>
<circle cx="536.8" cy="85.4" r="2.2" fill="#2e2e2e" fill-opacity="0.78" stroke="#fff" stroke-width="0.3"/>
<circle cx="578.6" cy="157.5" r="2.2" fill="#2e2e2e" fill-opacity="0.78" stroke="#fff" stroke-width="0.3"/>
</g>
<line x1="503.80" y1="171.72" x2="667.70" y2="8.94" stroke="#333" stroke-width="1.9" stroke-dasharray="6.2 3.6"/>
<rect x="496.40" y="3.20" width="175.40" height="176.80" fill="none" stroke="#000" stroke-width="1.2"/>
<line x1="514.80" y1="180.00" x2="514.80" y2="184.00" stroke="#000" stroke-width="1.1"/>
<text x="514.80" y="196.80" font-size="9.5" text-anchor="middle">−2</text>
<line x1="492.40" y1="160.80" x2="496.40" y2="160.80" stroke="#000" stroke-width="1.1"/>
<text x="487.40" y="164.20" font-size="9.5" text-anchor="end">−2</text>
<line x1="558.80" y1="180.00" x2="558.80" y2="184.00" stroke="#000" stroke-width="1.1"/>
<text x="558.80" y="196.80" font-size="9.5" text-anchor="middle">0</text>
<line x1="492.40" y1="117.10" x2="496.40" y2="117.10" stroke="#000" stroke-width="1.1"/>
<text x="487.40" y="120.50" font-size="9.5" text-anchor="end">0</text>
<line x1="602.80" y1="180.00" x2="602.80" y2="184.00" stroke="#000" stroke-width="1.1"/>
<text x="602.80" y="196.80" font-size="9.5" text-anchor="middle">2</text>
<line x1="492.40" y1="73.40" x2="496.40" y2="73.40" stroke="#000" stroke-width="1.1"/>
<text x="487.40" y="76.80" font-size="9.5" text-anchor="end">2</text>
<line x1="646.80" y1="180.00" x2="646.80" y2="184.00" stroke="#000" stroke-width="1.1"/>
<text x="646.80" y="196.80" font-size="9.5" text-anchor="middle">4</text>
<line x1="492.40" y1="29.70" x2="496.40" y2="29.70" stroke="#000" stroke-width="1.1"/>
<text x="487.40" y="33.10" font-size="9.5" text-anchor="end">4</text>
<text x="584.00" y="210.30" font-size="9.3" text-anchor="middle">Predicted Z score</text>
<text x="470.20" y="91.40" font-size="9.3" text-anchor="middle" transform="rotate(-90 470.20 91.40)">Observed Z score</text>
<rect x="565.2" y="7.9" width="102.3" height="28.9" rx="2" fill="#fff" fill-opacity="0.8" stroke="#d0d0d0" stroke-width="0.8"/>
<text x="569.50" y="18.60" font-size="9.4">MAE on data set: 0.53</text>
<text x="569.50" y="31.50" font-size="9.4">R2 of fit: 0.64</text>
<rect x="603.2" y="143.7" width="65.4" height="31.6" rx="2" fill="#fff" fill-opacity="0.8" stroke="#d0d0d0" stroke-width="0.8"/>
<circle cx="611.6" cy="153.7" r="3.6" fill="#3a80c6" fill-opacity="0.8" stroke="#fff" stroke-width="0.4"/>
<circle cx="611.6" cy="167.0" r="3.6" fill="#3a3a3a" fill-opacity="0.9" stroke="#fff" stroke-width="0.4"/>
<text x="622.60" y="156.80" font-size="9.3">Individual</text>
<text x="622.60" y="170.10" font-size="9.3">Ensemble</text>
<text x="7.00" y="231.60" font-size="20" font-weight="bold">C</text>
<line x1="43.80" y1="334.40" x2="518.50" y2="334.40" stroke="#111" stroke-width="0.9" stroke-dasharray="3 2"/>
<line x1="51.49" y1="311.94" x2="51.49" y2="331.28" stroke="#111" stroke-width="1.1"/>
<line x1="51.49" y1="345.32" x2="51.49" y2="361.54" stroke="#111" stroke-width="1.1"/>
<line x1="48.89" y1="311.94" x2="54.09" y2="311.94" stroke="#111" stroke-width="1.1"/>
<line x1="48.89" y1="361.54" x2="54.09" y2="361.54" stroke="#111" stroke-width="1.1"/>
<rect x="46.29" y="331.28" width="10.40" height="14.04" fill="#dcdcdc" stroke="#111" stroke-width="1.1"/>
<line x1="46.29" y1="336.58" x2="56.69" y2="336.58" stroke="#111" stroke-width="1.1"/>
<polygon points="51.5,297.5 53.4,300.1 51.5,302.7 49.6,300.1" fill="#555"/>
<polygon points="51.5,367.7 53.4,370.3 51.5,372.9 49.6,370.3" fill="#555"/>
<circle cx="55.0" cy="361.5" r="1.35" fill="#dd3a35" stroke="#5a1414" stroke-width="0.5"/>
<circle cx="47.9" cy="311.9" r="1.35" fill="#dd3a35" stroke="#5a1414" stroke-width="0.5"/>
<circle cx="53.4" cy="351.4" r="1.35" fill="#dd3a35" stroke="#5a1414" stroke-width="0.5"/>
<circle cx="54.1" cy="338.8" r="1.35" fill="#dd3a35" stroke="#5a1414" stroke-width="0.5"/>
<circle cx="47.9" cy="332.4" r="1.35" fill="#dd3a35" stroke="#5a1414" stroke-width="0.5"/>
<circle cx="53.6" cy="313.0" r="1.35" fill="#dd3a35" stroke="#5a1414" stroke-width="0.5"/>
<circle cx="50.5" cy="349.5" r="1.35" fill="#dd3a35" stroke="#5a1414" stroke-width="0.5"/>
<circle cx="52.1" cy="337.3" r="1.35" fill="#dd3a35" stroke="#5a1414" stroke-width="0.5"/>
<circle cx="47.8" cy="336.4" r="1.35" fill="#dd3a35" stroke="#5a1414" stroke-width="0.5"/>
<circle cx="48.1" cy="322.3" r="1.35" fill="#dd3a35" stroke="#5a1414" stroke-width="0.5"/>
<circle cx="49.1" cy="346.2" r="1.35" fill="#dd3a35" stroke="#5a1414" stroke-width="0.5"/>
<circle cx="54.9" cy="339.7" r="1.35" fill="#dd3a35" stroke="#5a1414" stroke-width="0.5"/>
<circle cx="49.2" cy="331.8" r="1.35" fill="#dd3a35" stroke="#5a1414" stroke-width="0.5"/>
<circle cx="53.4" cy="329.1" r="1.35" fill="#dd3a35" stroke="#5a1414" stroke-width="0.5"/>
<circle cx="54.7" cy="353.9" r="1.35" fill="#dd3a35" stroke="#5a1414" stroke-width="0.5"/>
<circle cx="54.8" cy="343.2" r="1.35" fill="#dd3a35" stroke="#5a1414" stroke-width="0.5"/>
<circle cx="50.3" cy="333.7" r="1.35" fill="#dd3a35" stroke="#5a1414" stroke-width="0.5"/>
<circle cx="50.4" cy="320.2" r="1.35" fill="#dd3a35" stroke="#5a1414" stroke-width="0.5"/>
<circle cx="51.7" cy="361.3" r="1.35" fill="#dd3a35" stroke="#5a1414" stroke-width="0.5"/>
<circle cx="53.5" cy="343.4" r="1.35" fill="#dd3a35" stroke="#5a1414" stroke-width="0.5"/>
<circle cx="48.6" cy="335.1" r="1.35" fill="#dd3a35" stroke="#5a1414" stroke-width="0.5"/>
<circle cx="53.3" cy="313.6" r="1.35" fill="#dd3a35" stroke="#5a1414" stroke-width="0.5"/>
<circle cx="53.7" cy="349.1" r="1.35" fill="#dd3a35" stroke="#5a1414" stroke-width="0.5"/>
<circle cx="54.2" cy="343.9" r="1.35" fill="#dd3a35" stroke="#5a1414" stroke-width="0.5"/>
<circle cx="48.0" cy="332.4" r="1.35" fill="#dd3a35" stroke="#5a1414" stroke-width="0.5"/>
<circle cx="54.8" cy="328.6" r="1.35" fill="#dd3a35" stroke="#5a1414" stroke-width="0.5"/>
<circle cx="48.4" cy="351.5" r="1.35" fill="#dd3a35" stroke="#5a1414" stroke-width="0.5"/>
<circle cx="50.3" cy="344.2" r="1.35" fill="#dd3a35" stroke="#5a1414" stroke-width="0.5"/>
<circle cx="52.3" cy="336.6" r="1.35" fill="#dd3a35" stroke="#5a1414" stroke-width="0.5"/>
<circle cx="54.6" cy="314.4" r="1.35" fill="#dd3a35" stroke="#5a1414" stroke-width="0.5"/>
<circle cx="50.3" cy="358.1" r="1.35" fill="#dd3a35" stroke="#5a1414" stroke-width="0.5"/>
<circle cx="54.7" cy="343.4" r="1.35" fill="#dd3a35" stroke="#5a1414" stroke-width="0.5"/>
<circle cx="51.8" cy="331.4" r="1.35" fill="#dd3a35" stroke="#5a1414" stroke-width="0.5"/>
<circle cx="50.1" cy="314.4" r="1.35" fill="#dd3a35" stroke="#5a1414" stroke-width="0.5"/>
<circle cx="50.1" cy="356.9" r="1.35" fill="#dd3a35" stroke="#5a1414" stroke-width="0.5"/>
<circle cx="49.1" cy="336.9" r="1.35" fill="#dd3a35" stroke="#5a1414" stroke-width="0.5"/>
<circle cx="48.3" cy="333.7" r="1.35" fill="#dd3a35" stroke="#5a1414" stroke-width="0.5"/>
<circle cx="48.9" cy="318.2" r="1.35" fill="#dd3a35" stroke="#5a1414" stroke-width="0.5"/>
<circle cx="52.9" cy="358.2" r="1.35" fill="#dd3a35" stroke="#5a1414" stroke-width="0.5"/>
<circle cx="55.2" cy="337.1" r="1.35" fill="#dd3a35" stroke="#5a1414" stroke-width="0.5"/>
<circle cx="49.0" cy="332.9" r="1.35" fill="#dd3a35" stroke="#5a1414" stroke-width="0.5"/>
<circle cx="48.1" cy="312.6" r="1.35" fill="#dd3a35" stroke="#5a1414" stroke-width="0.5"/>
<circle cx="55.1" cy="347.0" r="1.35" fill="#dd3a35" stroke="#5a1414" stroke-width="0.5"/>
<circle cx="51.7" cy="342.7" r="1.35" fill="#dd3a35" stroke="#5a1414" stroke-width="0.5"/>
<circle cx="50.8" cy="334.7" r="1.35" fill="#dd3a35" stroke="#5a1414" stroke-width="0.5"/>
<circle cx="49.5" cy="328.1" r="1.35" fill="#dd3a35" stroke="#5a1414" stroke-width="0.5"/>
<circle cx="52.2" cy="359.2" r="1.35" fill="#dd3a35" stroke="#5a1414" stroke-width="0.5"/>
<circle cx="53.9" cy="344.8" r="1.35" fill="#dd3a35" stroke="#5a1414" stroke-width="0.5"/>
<circle cx="51.2" cy="335.0" r="1.35" fill="#dd3a35" stroke="#5a1414" stroke-width="0.5"/>
<circle cx="50.9" cy="319.6" r="1.35" fill="#dd3a35" stroke="#5a1414" stroke-width="0.5"/>
<circle cx="48.2" cy="361.5" r="1.35" fill="#dd3a35" stroke="#5a1414" stroke-width="0.5"/>
<circle cx="54.6" cy="339.4" r="1.35" fill="#dd3a35" stroke="#5a1414" stroke-width="0.5"/>
<circle cx="48.0" cy="334.8" r="1.35" fill="#dd3a35" stroke="#5a1414" stroke-width="0.5"/>
<circle cx="51.4" cy="325.3" r="1.35" fill="#dd3a35" stroke="#5a1414" stroke-width="0.5"/>
<circle cx="54.0" cy="348.3" r="1.35" fill="#dd3a35" stroke="#5a1414" stroke-width="0.5"/>
<circle cx="48.7" cy="341.1" r="1.35" fill="#dd3a35" stroke="#5a1414" stroke-width="0.5"/>
<circle cx="53.2" cy="334.9" r="1.35" fill="#dd3a35" stroke="#5a1414" stroke-width="0.5"/>
<circle cx="54.9" cy="322.0" r="1.35" fill="#dd3a35" stroke="#5a1414" stroke-width="0.5"/>
<circle cx="52.5" cy="350.1" r="1.35" fill="#dd3a35" stroke="#5a1414" stroke-width="0.5"/>
<circle cx="53.6" cy="344.8" r="1.35" fill="#dd3a35" stroke="#5a1414" stroke-width="0.5"/>
<circle cx="48.5" cy="300.1" r="1.35" fill="#dd3a35" stroke="#5a1414" stroke-width="0.5"/>
<circle cx="51.0" cy="370.3" r="1.35" fill="#dd3a35" stroke="#5a1414" stroke-width="0.5"/>
<line x1="62.49" y1="334.40" x2="62.49" y2="334.40" stroke="#111" stroke-width="1.1"/>
<line x1="62.49" y1="342.20" x2="62.49" y2="343.76" stroke="#111" stroke-width="1.1"/>
<line x1="59.89" y1="334.40" x2="65.09" y2="334.40" stroke="#111" stroke-width="1.1"/>
<line x1="59.89" y1="343.76" x2="65.09" y2="343.76" stroke="#111" stroke-width="1.1"/>
<rect x="57.29" y="334.40" width="10.40" height="7.80" fill="#dcdcdc" stroke="#111" stroke-width="1.1"/>
<line x1="57.29" y1="335.96" x2="67.69" y2="335.96" stroke="#111" stroke-width="1.1"/>
<polygon points="62.5,299.0 64.4,301.6 62.5,304.2 60.6,301.6" fill="#555"/>
<polygon points="62.5,306.8 64.4,309.4 62.5,312.0 60.6,309.4" fill="#555"/>
<polygon points="62.5,356.8 64.4,359.4 62.5,362.0 60.6,359.4" fill="#555"/>
<circle cx="62.1" cy="343.8" r="1.35" fill="#3f7fc8" stroke="#1c3a66" stroke-width="0.5"/>
<circle cx="62.4" cy="334.4" r="1.35" fill="#3f7fc8" stroke="#1c3a66" stroke-width="0.5"/>
<circle cx="64.2" cy="343.5" r="1.35" fill="#3f7fc8" stroke="#1c3a66" stroke-width="0.5"/>
<circle cx="62.3" cy="336.9" r="1.35" fill="#3f7fc8" stroke="#1c3a66" stroke-width="0.5"/>
<circle cx="60.9" cy="335.5" r="1.35" fill="#3f7fc8" stroke="#1c3a66" stroke-width="0.5"/>
<circle cx="61.8" cy="334.4" r="1.35" fill="#3f7fc8" stroke="#1c3a66" stroke-width="0.5"/>
<circle cx="59.8" cy="342.2" r="1.35" fill="#3f7fc8" stroke="#1c3a66" stroke-width="0.5"/>
<circle cx="61.6" cy="336.9" r="1.35" fill="#3f7fc8" stroke="#1c3a66" stroke-width="0.5"/>
<circle cx="66.1" cy="334.4" r="1.35" fill="#3f7fc8" stroke="#1c3a66" stroke-width="0.5"/>
<circle cx="65.9" cy="301.6" r="1.35" fill="#3f7fc8" stroke="#1c3a66" stroke-width="0.5"/>
<circle cx="63.4" cy="309.4" r="1.35" fill="#3f7fc8" stroke="#1c3a66" stroke-width="0.5"/>
<circle cx="62.5" cy="359.4" r="1.35" fill="#3f7fc8" stroke="#1c3a66" stroke-width="0.5"/>
<line x1="77.86" y1="326.60" x2="77.86" y2="332.84" stroke="#111" stroke-width="1.1"/>
<line x1="77.86" y1="339.08" x2="77.86" y2="344.70" stroke="#111" stroke-width="1.1"/>
<line x1="75.26" y1="326.60" x2="80.46" y2="326.60" stroke="#111" stroke-width="1.1"/>
<line x1="75.26" y1="344.70" x2="80.46" y2="344.70" stroke="#111" stroke-width="1.1"/>
<rect x="72.66" y="332.84" width="10.40" height="6.24" fill="#dcdcdc" stroke="#111" stroke-width="1.1"/>
<line x1="72.66" y1="335.96" x2="83.06" y2="335.96" stroke="#111" stroke-width="1.1"/>
<polygon points="77.9,319.3 79.8,321.9 77.9,324.5 76.0,321.9" fill="#555"/>
<circle cx="78.5" cy="344.7" r="1.35" fill="#dd3a35" stroke="#5a1414" stroke-width="0.5"/>
<circle cx="74.2" cy="326.6" r="1.35" fill="#dd3a35" stroke="#5a1414" stroke-width="0.5"/>
<circle cx="78.2" cy="342.8" r="1.35" fill="#dd3a35" stroke="#5a1414" stroke-width="0.5"/>
<circle cx="76.0" cy="338.8" r="1.35" fill="#dd3a35" stroke="#5a1414" stroke-width="0.5"/>
<circle cx="79.1" cy="335.1" r="1.35" fill="#dd3a35" stroke="#5a1414" stroke-width="0.5"/>
<circle cx="77.6" cy="328.0" r="1.35" fill="#dd3a35" stroke="#5a1414" stroke-width="0.5"/>
<circle cx="80.2" cy="339.8" r="1.35" fill="#dd3a35" stroke="#5a1414" stroke-width="0.5"/>
<circle cx="79.0" cy="338.0" r="1.35" fill="#dd3a35" stroke="#5a1414" stroke-width="0.5"/>
<circle cx="80.1" cy="333.5" r="1.35" fill="#dd3a35" stroke="#5a1414" stroke-width="0.5"/>
<circle cx="76.7" cy="328.0" r="1.35" fill="#dd3a35" stroke="#5a1414" stroke-width="0.5"/>
<circle cx="78.9" cy="340.8" r="1.35" fill="#dd3a35" stroke="#5a1414" stroke-width="0.5"/>
<circle cx="79.6" cy="337.0" r="1.35" fill="#dd3a35" stroke="#5a1414" stroke-width="0.5"/>
<circle cx="80.3" cy="333.6" r="1.35" fill="#dd3a35" stroke="#5a1414" stroke-width="0.5"/>
<circle cx="76.7" cy="330.6" r="1.35" fill="#dd3a35" stroke="#5a1414" stroke-width="0.5"/>
<circle cx="80.4" cy="340.7" r="1.35" fill="#dd3a35" stroke="#5a1414" stroke-width="0.5"/>
<circle cx="80.6" cy="338.2" r="1.35" fill="#dd3a35" stroke="#5a1414" stroke-width="0.5"/>
<circle cx="79.3" cy="334.4" r="1.35" fill="#dd3a35" stroke="#5a1414" stroke-width="0.5"/>
<circle cx="81.4" cy="328.0" r="1.35" fill="#dd3a35" stroke="#5a1414" stroke-width="0.5"/>
<circle cx="81.3" cy="340.8" r="1.35" fill="#dd3a35" stroke="#5a1414" stroke-width="0.5"/>
<circle cx="78.0" cy="338.2" r="1.35" fill="#dd3a35" stroke="#5a1414" stroke-width="0.5"/>
<circle cx="78.1" cy="333.0" r="1.35" fill="#dd3a35" stroke="#5a1414" stroke-width="0.5"/>
<circle cx="75.4" cy="328.8" r="1.35" fill="#dd3a35" stroke="#5a1414" stroke-width="0.5"/>
<circle cx="80.4" cy="321.9" r="1.35" fill="#dd3a35" stroke="#5a1414" stroke-width="0.5"/>
<line x1="88.86" y1="306.32" x2="88.86" y2="322.54" stroke="#111" stroke-width="1.1"/>
<line x1="88.86" y1="337.52" x2="88.86" y2="345.94" stroke="#111" stroke-width="1.1"/>
<line x1="86.26" y1="306.32" x2="91.46" y2="306.32" stroke="#111" stroke-width="1.1"/>
<line x1="86.26" y1="345.94" x2="91.46" y2="345.94" stroke="#111" stroke-width="1.1"/>
<rect x="83.66" y="322.54" width="10.40" height="14.98" fill="#dcdcdc" stroke="#111" stroke-width="1.1"/>
<line x1="83.66" y1="331.90" x2="94.06" y2="331.90" stroke="#111" stroke-width="1.1"/>
<circle cx="90.1" cy="345.9" r="1.35" fill="#3f7fc8" stroke="#1c3a66" stroke-width="0.5"/>
<circle cx="88.3" cy="306.3" r="1.35" fill="#3f7fc8" stroke="#1c3a66" stroke-width="0.5"/>
<circle cx="89.8" cy="338.0" r="1.35" fill="#3f7fc8" stroke="#1c3a66" stroke-width="0.5"/>
<circle cx="90.9" cy="334.8" r="1.35" fill="#3f7fc8" stroke="#1c3a66" stroke-width="0.5"/>
<circle cx="89.9" cy="325.4" r="1.35" fill="#3f7fc8" stroke="#1c3a66" stroke-width="0.5"/>
<circle cx="90.5" cy="310.9" r="1.35" fill="#3f7fc8" stroke="#1c3a66" stroke-width="0.5"/>
<circle cx="85.3" cy="339.8" r="1.35" fill="#3f7fc8" stroke="#1c3a66" stroke-width="0.5"/>
<circle cx="86.3" cy="336.6" r="1.35" fill="#3f7fc8" stroke="#1c3a66" stroke-width="0.5"/>
<circle cx="88.4" cy="324.6" r="1.35" fill="#3f7fc8" stroke="#1c3a66" stroke-width="0.5"/>
<circle cx="90.0" cy="313.1" r="1.35" fill="#3f7fc8" stroke="#1c3a66" stroke-width="0.5"/>
<line x1="104.23" y1="314.74" x2="104.23" y2="328.16" stroke="#111" stroke-width="1.1"/>
<line x1="104.23" y1="342.20" x2="104.23" y2="354.37" stroke="#111" stroke-width="1.1"/>
<line x1="101.63" y1="314.74" x2="106.83" y2="314.74" stroke="#111" stroke-width="1.1"/>
<line x1="101.63" y1="354.37" x2="106.83" y2="354.37" stroke="#111" stroke-width="1.1"/>
<rect x="99.03" y="328.16" width="10.40" height="14.04" fill="#dcdcdc" stroke="#111" stroke-width="1.1"/>
<line x1="99.03" y1="335.02" x2="109.43" y2="335.02" stroke="#111" stroke-width="1.1"/>
<circle cx="101.3" cy="354.4" r="1.35" fill="#dd3a35" stroke="#5a1414" stroke-width="0.5"/>
<circle cx="106.7" cy="314.7" r="1.35" fill="#dd3a35" stroke="#5a1414" stroke-width="0.5"/>
<circle cx="103.3" cy="351.7" r="1.35" fill="#dd3a35" stroke="#5a1414" stroke-width="0.5"/>
<circle cx="100.8" cy="337.3" r="1.35" fill="#dd3a35" stroke="#5a1414" stroke-width="0.5"/>
<circle cx="105.1" cy="330.7" r="1.35" fill="#dd3a35" stroke="#5a1414" stroke-width="0.5"/>
<circle cx="101.2" cy="327.6" r="1.35" fill="#dd3a35" stroke="#5a1414" stroke-width="0.5"/>
<circle cx="104.6" cy="348.6" r="1.35" fill="#dd3a35" stroke="#5a1414" stroke-width="0.5"/>
<circle cx="103.0" cy="340.6" r="1.35" fill="#dd3a35" stroke="#5a1414" stroke-width="0.5"/>
<circle cx="104.8" cy="334.7" r="1.35" fill="#dd3a35" stroke="#5a1414" stroke-width="0.5"/>
<circle cx="107.7" cy="326.4" r="1.35" fill="#dd3a35" stroke="#5a1414" stroke-width="0.5"/>
<circle cx="106.6" cy="350.5" r="1.35" fill="#dd3a35" stroke="#5a1414" stroke-width="0.5"/>
<circle cx="103.6" cy="340.9" r="1.35" fill="#dd3a35" stroke="#5a1414" stroke-width="0.5"/>
<circle cx="106.6" cy="333.7" r="1.35" fill="#dd3a35" stroke="#5a1414" stroke-width="0.5"/>
<circle cx="105.3" cy="327.7" r="1.35" fill="#dd3a35" stroke="#5a1414" stroke-width="0.5"/>
<circle cx="103.3" cy="348.7" r="1.35" fill="#dd3a35" stroke="#5a1414" stroke-width="0.5"/>
<circle cx="101.6" cy="339.5" r="1.35" fill="#dd3a35" stroke="#5a1414" stroke-width="0.5"/>
<circle cx="104.9" cy="330.8" r="1.35" fill="#dd3a35" stroke="#5a1414" stroke-width="0.5"/>
<circle cx="104.7" cy="320.2" r="1.35" fill="#dd3a35" stroke="#5a1414" stroke-width="0.5"/>
<circle cx="107.7" cy="351.5" r="1.35" fill="#dd3a35" stroke="#5a1414" stroke-width="0.5"/>
<circle cx="107.7" cy="335.7" r="1.35" fill="#dd3a35" stroke="#5a1414" stroke-width="0.5"/>
<circle cx="105.0" cy="335.0" r="1.35" fill="#dd3a35" stroke="#5a1414" stroke-width="0.5"/>
<circle cx="103.1" cy="322.7" r="1.35" fill="#dd3a35" stroke="#5a1414" stroke-width="0.5"/>
<circle cx="107.2" cy="351.0" r="1.35" fill="#dd3a35" stroke="#5a1414" stroke-width="0.5"/>
<circle cx="100.5" cy="339.3" r="1.35" fill="#dd3a35" stroke="#5a1414" stroke-width="0.5"/>
<line x1="115.23" y1="313.18" x2="115.23" y2="324.10" stroke="#111" stroke-width="1.1"/>
<line x1="115.23" y1="334.40" x2="115.23" y2="343.76" stroke="#111" stroke-width="1.1"/>
<line x1="112.63" y1="313.18" x2="117.83" y2="313.18" stroke="#111" stroke-width="1.1"/>
<line x1="112.63" y1="343.76" x2="117.83" y2="343.76" stroke="#111" stroke-width="1.1"/>
<rect x="110.03" y="324.10" width="10.40" height="10.30" fill="#dcdcdc" stroke="#111" stroke-width="1.1"/>
<line x1="110.03" y1="330.66" x2="120.43" y2="330.66" stroke="#111" stroke-width="1.1"/>
<circle cx="118.8" cy="343.8" r="1.35" fill="#3f7fc8" stroke="#1c3a66" stroke-width="0.5"/>
<circle cx="114.3" cy="313.2" r="1.35" fill="#3f7fc8" stroke="#1c3a66" stroke-width="0.5"/>
<circle cx="118.7" cy="342.7" r="1.35" fill="#3f7fc8" stroke="#1c3a66" stroke-width="0.5"/>
<circle cx="118.3" cy="332.3" r="1.35" fill="#3f7fc8" stroke="#1c3a66" stroke-width="0.5"/>
<circle cx="115.9" cy="326.6" r="1.35" fill="#3f7fc8" stroke="#1c3a66" stroke-width="0.5"/>
<circle cx="113.4" cy="322.6" r="1.35" fill="#3f7fc8" stroke="#1c3a66" stroke-width="0.5"/>
<circle cx="118.8" cy="337.9" r="1.35" fill="#3f7fc8" stroke="#1c3a66" stroke-width="0.5"/>
<circle cx="115.2" cy="331.1" r="1.35" fill="#3f7fc8" stroke="#1c3a66" stroke-width="0.5"/>
<circle cx="114.6" cy="328.2" r="1.35" fill="#3f7fc8" stroke="#1c3a66" stroke-width="0.5"/>
<circle cx="113.9" cy="319.4" r="1.35" fill="#3f7fc8" stroke="#1c3a66" stroke-width="0.5"/>
<circle cx="118.9" cy="341.6" r="1.35" fill="#3f7fc8" stroke="#1c3a66" stroke-width="0.5"/>
<circle cx="115.2" cy="333.3" r="1.35" fill="#3f7fc8" stroke="#1c3a66" stroke-width="0.5"/>
<line x1="130.60" y1="309.75" x2="130.60" y2="326.60" stroke="#111" stroke-width="1.1"/>
<line x1="130.60" y1="343.76" x2="130.60" y2="364.66" stroke="#111" stroke-width="1.1"/>
<line x1="128.00" y1="309.75" x2="133.20" y2="309.75" stroke="#111" stroke-width="1.1"/>
<line x1="128.00" y1="364.66" x2="133.20" y2="364.66" stroke="#111" stroke-width="1.1"/>
<rect x="125.40" y="326.60" width="10.40" height="17.16" fill="#dcdcdc" stroke="#111" stroke-width="1.1"/>
<line x1="125.40" y1="335.02" x2="135.80" y2="335.02" stroke="#111" stroke-width="1.1"/>
<circle cx="132.6" cy="364.7" r="1.35" fill="#dd3a35" stroke="#5a1414" stroke-width="0.5"/>
<circle cx="129.1" cy="309.8" r="1.35" fill="#dd3a35" stroke="#5a1414" stroke-width="0.5"/>
<circle cx="130.9" cy="358.7" r="1.35" fill="#dd3a35" stroke="#5a1414" stroke-width="0.5"/>
<circle cx="129.4" cy="339.6" r="1.35" fill="#dd3a35" stroke="#5a1414" stroke-width="0.5"/>
<circle cx="129.1" cy="334.0" r="1.35" fill="#dd3a35" stroke="#5a1414" stroke-width="0.5"/>
<circle cx="130.8" cy="316.1" r="1.35" fill="#dd3a35" stroke="#5a1414" stroke-width="0.5"/>
<circle cx="130.3" cy="355.4" r="1.35" fill="#dd3a35" stroke="#5a1414" stroke-width="0.5"/>
<circle cx="129.6" cy="341.2" r="1.35" fill="#dd3a35" stroke="#5a1414" stroke-width="0.5"/>
<circle cx="132.4" cy="328.4" r="1.35" fill="#dd3a35" stroke="#5a1414" stroke-width="0.5"/>
<circle cx="131.3" cy="312.7" r="1.35" fill="#dd3a35" stroke="#5a1414" stroke-width="0.5"/>
<circle cx="127.1" cy="364.4" r="1.35" fill="#dd3a35" stroke="#5a1414" stroke-width="0.5"/>
<circle cx="128.7" cy="339.1" r="1.35" fill="#dd3a35" stroke="#5a1414" stroke-width="0.5"/>
<circle cx="130.3" cy="332.7" r="1.35" fill="#dd3a35" stroke="#5a1414" stroke-width="0.5"/>
<circle cx="133.7" cy="310.8" r="1.35" fill="#dd3a35" stroke="#5a1414" stroke-width="0.5"/>
<circle cx="133.5" cy="348.3" r="1.35" fill="#dd3a35" stroke="#5a1414" stroke-width="0.5"/>
<circle cx="130.9" cy="341.6" r="1.35" fill="#dd3a35" stroke="#5a1414" stroke-width="0.5"/>
<circle cx="127.0" cy="332.8" r="1.35" fill="#dd3a35" stroke="#5a1414" stroke-width="0.5"/>
<circle cx="132.7" cy="324.0" r="1.35" fill="#dd3a35" stroke="#5a1414" stroke-width="0.5"/>
<circle cx="130.1" cy="344.0" r="1.35" fill="#dd3a35" stroke="#5a1414" stroke-width="0.5"/>
<circle cx="131.2" cy="341.2" r="1.35" fill="#dd3a35" stroke="#5a1414" stroke-width="0.5"/>
<circle cx="132.2" cy="329.9" r="1.35" fill="#dd3a35" stroke="#5a1414" stroke-width="0.5"/>
<circle cx="131.6" cy="318.6" r="1.35" fill="#dd3a35" stroke="#5a1414" stroke-width="0.5"/>
<circle cx="130.5" cy="351.2" r="1.35" fill="#dd3a35" stroke="#5a1414" stroke-width="0.5"/>
<circle cx="133.7" cy="338.5" r="1.35" fill="#dd3a35" stroke="#5a1414" stroke-width="0.5"/>
<circle cx="129.7" cy="328.8" r="1.35" fill="#dd3a35" stroke="#5a1414" stroke-width="0.5"/>
<circle cx="129.8" cy="324.6" r="1.35" fill="#dd3a35" stroke="#5a1414" stroke-width="0.5"/>
<line x1="141.60" y1="318.49" x2="141.60" y2="325.35" stroke="#111" stroke-width="1.1"/>
<line x1="141.60" y1="331.90" x2="141.60" y2="335.96" stroke="#111" stroke-width="1.1"/>
<line x1="139.00" y1="318.49" x2="144.20" y2="318.49" stroke="#111" stroke-width="1.1"/>
<line x1="139.00" y1="335.96" x2="144.20" y2="335.96" stroke="#111" stroke-width="1.1"/>
<rect x="136.40" y="325.35" width="10.40" height="6.55" fill="#dcdcdc" stroke="#111" stroke-width="1.1"/>
<line x1="136.40" y1="328.78" x2="146.80" y2="328.78" stroke="#111" stroke-width="1.1"/>
<circle cx="144.7" cy="336.0" r="1.35" fill="#3f7fc8" stroke="#1c3a66" stroke-width="0.5"/>
<circle cx="138.9" cy="318.5" r="1.35" fill="#3f7fc8" stroke="#1c3a66" stroke-width="0.5"/>
<circle cx="141.4" cy="332.5" r="1.35" fill="#3f7fc8" stroke="#1c3a66" stroke-width="0.5"/>
<circle cx="142.0" cy="331.3" r="1.35" fill="#3f7fc8" stroke="#1c3a66" stroke-width="0.5"/>
<circle cx="141.6" cy="327.8" r="1.35" fill="#3f7fc8" stroke="#1c3a66" stroke-width="0.5"/>
<circle cx="140.3" cy="319.7" r="1.35" fill="#3f7fc8" stroke="#1c3a66" stroke-width="0.5"/>
<circle cx="139.0" cy="335.7" r="1.35" fill="#3f7fc8" stroke="#1c3a66" stroke-width="0.5"/>
<circle cx="142.2" cy="329.3" r="1.35" fill="#3f7fc8" stroke="#1c3a66" stroke-width="0.5"/>
<circle cx="143.9" cy="326.4" r="1.35" fill="#3f7fc8" stroke="#1c3a66" stroke-width="0.5"/>
<circle cx="138.4" cy="322.4" r="1.35" fill="#3f7fc8" stroke="#1c3a66" stroke-width="0.5"/>
<circle cx="139.6" cy="334.8" r="1.35" fill="#3f7fc8" stroke="#1c3a66" stroke-width="0.5"/>
<circle cx="144.0" cy="329.5" r="1.35" fill="#3f7fc8" stroke="#1c3a66" stroke-width="0.5"/>
<line x1="156.97" y1="309.75" x2="156.97" y2="327.85" stroke="#111" stroke-width="1.1"/>
<line x1="156.97" y1="340.95" x2="156.97" y2="351.87" stroke="#111" stroke-width="1.1"/>
<line x1="154.37" y1="309.75" x2="159.57" y2="309.75" stroke="#111" stroke-width="1.1"/>
<line x1="154.37" y1="351.87" x2="159.57" y2="351.87" stroke="#111" stroke-width="1.1"/>
<rect x="151.77" y="327.85" width="10.40" height="13.10" fill="#dcdcdc" stroke="#111" stroke-width="1.1"/>
<line x1="151.77" y1="333.78" x2="162.17" y2="333.78" stroke="#111" stroke-width="1.1"/>
<polygon points="157.0,376.4 158.9,379.0 157.0,381.6 155.1,379.0" fill="#555"/>
<circle cx="153.8" cy="351.9" r="1.35" fill="#dd3a35" stroke="#5a1414" stroke-width="0.5"/>
<circle cx="153.7" cy="309.8" r="1.35" fill="#dd3a35" stroke="#5a1414" stroke-width="0.5"/>
<circle cx="157.5" cy="343.2" r="1.35" fill="#dd3a35" stroke="#5a1414" stroke-width="0.5"/>
<circle cx="158.8" cy="336.2" r="1.35" fill="#dd3a35" stroke="#5a1414" stroke-width="0.5"/>
<circle cx="159.8" cy="333.6" r="1.35" fill="#dd3a35" stroke="#5a1414" stroke-width="0.5"/>
<circle cx="154.2" cy="314.8" r="1.35" fill="#dd3a35" stroke="#5a1414" stroke-width="0.5"/>
<circle cx="156.5" cy="341.2" r="1.35" fill="#dd3a35" stroke="#5a1414" stroke-width="0.5"/>
<circle cx="155.6" cy="333.8" r="1.35" fill="#dd3a35" stroke="#5a1414" stroke-width="0.5"/>
<circle cx="157.7" cy="329.6" r="1.35" fill="#dd3a35" stroke="#5a1414" stroke-width="0.5"/>
<circle cx="156.9" cy="327.0" r="1.35" fill="#dd3a35" stroke="#5a1414" stroke-width="0.5"/>
<circle cx="160.3" cy="342.7" r="1.35" fill="#dd3a35" stroke="#5a1414" stroke-width="0.5"/>
<circle cx="156.0" cy="339.4" r="1.35" fill="#dd3a35" stroke="#5a1414" stroke-width="0.5"/>
<circle cx="153.6" cy="329.9" r="1.35" fill="#dd3a35" stroke="#5a1414" stroke-width="0.5"/>
<circle cx="158.5" cy="310.6" r="1.35" fill="#dd3a35" stroke="#5a1414" stroke-width="0.5"/>
<circle cx="154.4" cy="344.1" r="1.35" fill="#dd3a35" stroke="#5a1414" stroke-width="0.5"/>
<circle cx="158.0" cy="340.0" r="1.35" fill="#dd3a35" stroke="#5a1414" stroke-width="0.5"/>
<circle cx="157.0" cy="332.0" r="1.35" fill="#dd3a35" stroke="#5a1414" stroke-width="0.5"/>
<circle cx="160.0" cy="311.2" r="1.35" fill="#dd3a35" stroke="#5a1414" stroke-width="0.5"/>
<circle cx="157.4" cy="350.2" r="1.35" fill="#dd3a35" stroke="#5a1414" stroke-width="0.5"/>
<circle cx="157.9" cy="336.6" r="1.35" fill="#dd3a35" stroke="#5a1414" stroke-width="0.5"/>
<circle cx="155.2" cy="331.3" r="1.35" fill="#dd3a35" stroke="#5a1414" stroke-width="0.5"/>
<circle cx="157.4" cy="324.9" r="1.35" fill="#dd3a35" stroke="#5a1414" stroke-width="0.5"/>
<circle cx="155.1" cy="345.1" r="1.35" fill="#dd3a35" stroke="#5a1414" stroke-width="0.5"/>
<circle cx="158.9" cy="340.6" r="1.35" fill="#dd3a35" stroke="#5a1414" stroke-width="0.5"/>
<circle cx="157.1" cy="333.1" r="1.35" fill="#dd3a35" stroke="#5a1414" stroke-width="0.5"/>
<circle cx="154.2" cy="321.0" r="1.35" fill="#dd3a35" stroke="#5a1414" stroke-width="0.5"/>
<circle cx="155.0" cy="379.0" r="1.35" fill="#dd3a35" stroke="#5a1414" stroke-width="0.5"/>
<line x1="167.97" y1="319.42" x2="167.97" y2="325.98" stroke="#111" stroke-width="1.1"/>
<line x1="167.97" y1="334.40" x2="167.97" y2="337.52" stroke="#111" stroke-width="1.1"/>
<line x1="165.37" y1="319.42" x2="170.57" y2="319.42" stroke="#111" stroke-width="1.1"/>
<line x1="165.37" y1="337.52" x2="170.57" y2="337.52" stroke="#111" stroke-width="1.1"/>
<rect x="162.77" y="325.98" width="10.40" height="8.42" fill="#dcdcdc" stroke="#111" stroke-width="1.1"/>
<line x1="162.77" y1="331.28" x2="173.17" y2="331.28" stroke="#111" stroke-width="1.1"/>
<circle cx="165.2" cy="337.5" r="1.35" fill="#3f7fc8" stroke="#1c3a66" stroke-width="0.5"/>
<circle cx="168.7" cy="319.4" r="1.35" fill="#3f7fc8" stroke="#1c3a66" stroke-width="0.5"/>
<circle cx="166.0" cy="336.4" r="1.35" fill="#3f7fc8" stroke="#1c3a66" stroke-width="0.5"/>
<circle cx="170.8" cy="332.1" r="1.35" fill="#3f7fc8" stroke="#1c3a66" stroke-width="0.5"/>
<circle cx="167.8" cy="330.3" r="1.35" fill="#3f7fc8" stroke="#1c3a66" stroke-width="0.5"/>
<circle cx="166.7" cy="321.3" r="1.35" fill="#3f7fc8" stroke="#1c3a66" stroke-width="0.5"/>
<circle cx="170.2" cy="335.5" r="1.35" fill="#3f7fc8" stroke="#1c3a66" stroke-width="0.5"/>
<circle cx="164.5" cy="334.1" r="1.35" fill="#3f7fc8" stroke="#1c3a66" stroke-width="0.5"/>
<circle cx="169.7" cy="327.7" r="1.35" fill="#3f7fc8" stroke="#1c3a66" stroke-width="0.5"/>
<circle cx="164.6" cy="325.4" r="1.35" fill="#3f7fc8" stroke="#1c3a66" stroke-width="0.5"/>
<line x1="183.35" y1="319.74" x2="183.35" y2="333.46" stroke="#111" stroke-width="1.1"/>
<line x1="183.35" y1="348.75" x2="183.35" y2="370.90" stroke="#111" stroke-width="1.1"/>
<line x1="180.75" y1="319.74" x2="185.95" y2="319.74" stroke="#111" stroke-width="1.1"/>
<line x1="180.75" y1="370.90" x2="185.95" y2="370.90" stroke="#111" stroke-width="1.1"/>
<rect x="178.15" y="333.46" width="10.40" height="15.29" fill="#dcdcdc" stroke="#111" stroke-width="1.1"/>
<line x1="178.15" y1="345.94" x2="188.55" y2="345.94" stroke="#111" stroke-width="1.1"/>
<polygon points="183.3,285.6 185.2,288.2 183.3,290.8 181.4,288.2" fill="#555"/>
<polygon points="183.3,290.6 185.2,293.2 183.3,295.8 181.4,293.2" fill="#555"/>
<circle cx="183.5" cy="370.9" r="1.35" fill="#dd3a35" stroke="#5a1414" stroke-width="0.5"/>
<circle cx="184.0" cy="319.7" r="1.35" fill="#dd3a35" stroke="#5a1414" stroke-width="0.5"/>
<circle cx="183.9" cy="367.6" r="1.35" fill="#dd3a35" stroke="#5a1414" stroke-width="0.5"/>
<circle cx="185.1" cy="346.1" r="1.35" fill="#dd3a35" stroke="#5a1414" stroke-width="0.5"/>
<circle cx="182.6" cy="337.4" r="1.35" fill="#dd3a35" stroke="#5a1414" stroke-width="0.5"/>
<circle cx="180.3" cy="330.4" r="1.35" fill="#dd3a35" stroke="#5a1414" stroke-width="0.5"/>
<circle cx="179.9" cy="368.3" r="1.35" fill="#dd3a35" stroke="#5a1414" stroke-width="0.5"/>
<circle cx="181.1" cy="346.0" r="1.35" fill="#dd3a35" stroke="#5a1414" stroke-width="0.5"/>
<circle cx="179.9" cy="337.6" r="1.35" fill="#dd3a35" stroke="#5a1414" stroke-width="0.5"/>
<circle cx="186.3" cy="322.2" r="1.35" fill="#dd3a35" stroke="#5a1414" stroke-width="0.5"/>
<circle cx="183.2" cy="367.8" r="1.35" fill="#dd3a35" stroke="#5a1414" stroke-width="0.5"/>
<circle cx="185.3" cy="347.0" r="1.35" fill="#dd3a35" stroke="#5a1414" stroke-width="0.5"/>
<circle cx="179.6" cy="341.5" r="1.35" fill="#dd3a35" stroke="#5a1414" stroke-width="0.5"/>
<circle cx="183.1" cy="330.2" r="1.35" fill="#dd3a35" stroke="#5a1414" stroke-width="0.5"/>
<circle cx="186.3" cy="363.5" r="1.35" fill="#dd3a35" stroke="#5a1414" stroke-width="0.5"/>
<circle cx="184.2" cy="347.0" r="1.35" fill="#dd3a35" stroke="#5a1414" stroke-width="0.5"/>
<circle cx="182.8" cy="341.6" r="1.35" fill="#dd3a35" stroke="#5a1414" stroke-width="0.5"/>
<circle cx="183.1" cy="328.2" r="1.35" fill="#dd3a35" stroke="#5a1414" stroke-width="0.5"/>
<circle cx="180.4" cy="367.9" r="1.35" fill="#dd3a35" stroke="#5a1414" stroke-width="0.5"/>
<circle cx="180.8" cy="346.4" r="1.35" fill="#dd3a35" stroke="#5a1414" stroke-width="0.5"/>
<circle cx="180.8" cy="337.9" r="1.35" fill="#dd3a35" stroke="#5a1414" stroke-width="0.5"/>
<circle cx="182.4" cy="322.4" r="1.35" fill="#dd3a35" stroke="#5a1414" stroke-width="0.5"/>
<circle cx="182.5" cy="361.3" r="1.35" fill="#dd3a35" stroke="#5a1414" stroke-width="0.5"/>
<circle cx="186.2" cy="346.4" r="1.35" fill="#dd3a35" stroke="#5a1414" stroke-width="0.5"/>
<circle cx="180.7" cy="288.2" r="1.35" fill="#dd3a35" stroke="#5a1414" stroke-width="0.5"/>
<circle cx="181.5" cy="293.2" r="1.35" fill="#dd3a35" stroke="#5a1414" stroke-width="0.5"/>
<line x1="194.35" y1="315.68" x2="194.35" y2="320.36" stroke="#111" stroke-width="1.1"/>
<line x1="194.35" y1="329.41" x2="194.35" y2="329.72" stroke="#111" stroke-width="1.1"/>
<line x1="191.75" y1="315.68" x2="196.95" y2="315.68" stroke="#111" stroke-width="1.1"/>
<line x1="191.75" y1="329.72" x2="196.95" y2="329.72" stroke="#111" stroke-width="1.1"/>
<rect x="189.15" y="320.36" width="10.40" height="9.05" fill="#dcdcdc" stroke="#111" stroke-width="1.1"/>
<line x1="189.15" y1="324.42" x2="199.55" y2="324.42" stroke="#111" stroke-width="1.1"/>
<polygon points="194.3,346.2 196.2,348.8 194.3,351.4 192.4,348.8" fill="#555"/>
<circle cx="197.6" cy="329.7" r="1.35" fill="#3f7fc8" stroke="#1c3a66" stroke-width="0.5"/>
<circle cx="195.8" cy="315.7" r="1.35" fill="#3f7fc8" stroke="#1c3a66" stroke-width="0.5"/>
<circle cx="195.6" cy="329.6" r="1.35" fill="#3f7fc8" stroke="#1c3a66" stroke-width="0.5"/>
<circle cx="194.1" cy="328.6" r="1.35" fill="#3f7fc8" stroke="#1c3a66" stroke-width="0.5"/>
<circle cx="197.7" cy="323.3" r="1.35" fill="#3f7fc8" stroke="#1c3a66" stroke-width="0.5"/>
<circle cx="191.5" cy="319.3" r="1.35" fill="#3f7fc8" stroke="#1c3a66" stroke-width="0.5"/>
<circle cx="195.6" cy="329.6" r="1.35" fill="#3f7fc8" stroke="#1c3a66" stroke-width="0.5"/>
<circle cx="192.8" cy="329.2" r="1.35" fill="#3f7fc8" stroke="#1c3a66" stroke-width="0.5"/>
<circle cx="195.7" cy="320.7" r="1.35" fill="#3f7fc8" stroke="#1c3a66" stroke-width="0.5"/>
<circle cx="196.1" cy="318.6" r="1.35" fill="#3f7fc8" stroke="#1c3a66" stroke-width="0.5"/>
<circle cx="191.8" cy="348.8" r="1.35" fill="#3f7fc8" stroke="#1c3a66" stroke-width="0.5"/>
<line x1="209.72" y1="315.06" x2="209.72" y2="323.79" stroke="#111" stroke-width="1.1"/>
<line x1="209.72" y1="331.28" x2="209.72" y2="334.40" stroke="#111" stroke-width="1.1"/>
<line x1="207.12" y1="315.06" x2="212.32" y2="315.06" stroke="#111" stroke-width="1.1"/>
<line x1="207.12" y1="334.40" x2="212.32" y2="334.40" stroke="#111" stroke-width="1.1"/>
<rect x="204.52" y="323.79" width="10.40" height="7.49" fill="#dcdcdc" stroke="#111" stroke-width="1.1"/>
<line x1="204.52" y1="327.85" x2="214.92" y2="327.85" stroke="#111" stroke-width="1.1"/>
<polygon points="209.7,307.5 211.6,310.1 209.7,312.7 207.8,310.1" fill="#555"/>
<circle cx="213.3" cy="334.4" r="1.35" fill="#dd3a35" stroke="#5a1414" stroke-width="0.5"/>
<circle cx="206.0" cy="315.1" r="1.35" fill="#dd3a35" stroke="#5a1414" stroke-width="0.5"/>
<circle cx="206.4" cy="333.8" r="1.35" fill="#dd3a35" stroke="#5a1414" stroke-width="0.5"/>
<circle cx="211.8" cy="331.2" r="1.35" fill="#dd3a35" stroke="#5a1414" stroke-width="0.5"/>
<circle cx="209.0" cy="326.9" r="1.35" fill="#dd3a35" stroke="#5a1414" stroke-width="0.5"/>
<circle cx="206.3" cy="323.1" r="1.35" fill="#dd3a35" stroke="#5a1414" stroke-width="0.5"/>
<circle cx="210.1" cy="333.1" r="1.35" fill="#dd3a35" stroke="#5a1414" stroke-width="0.5"/>
<circle cx="213.4" cy="327.9" r="1.35" fill="#dd3a35" stroke="#5a1414" stroke-width="0.5"/>
<circle cx="209.9" cy="326.4" r="1.35" fill="#dd3a35" stroke="#5a1414" stroke-width="0.5"/>
<circle cx="208.6" cy="321.1" r="1.35" fill="#dd3a35" stroke="#5a1414" stroke-width="0.5"/>
<circle cx="206.7" cy="332.9" r="1.35" fill="#dd3a35" stroke="#5a1414" stroke-width="0.5"/>
<circle cx="206.5" cy="330.3" r="1.35" fill="#dd3a35" stroke="#5a1414" stroke-width="0.5"/>
<circle cx="212.7" cy="324.9" r="1.35" fill="#dd3a35" stroke="#5a1414" stroke-width="0.5"/>
<circle cx="209.7" cy="317.5" r="1.35" fill="#dd3a35" stroke="#5a1414" stroke-width="0.5"/>
<circle cx="213.0" cy="333.9" r="1.35" fill="#dd3a35" stroke="#5a1414" stroke-width="0.5"/>
<circle cx="206.4" cy="330.5" r="1.35" fill="#dd3a35" stroke="#5a1414" stroke-width="0.5"/>
<circle cx="207.8" cy="325.1" r="1.35" fill="#dd3a35" stroke="#5a1414" stroke-width="0.5"/>
<circle cx="206.4" cy="315.6" r="1.35" fill="#dd3a35" stroke="#5a1414" stroke-width="0.5"/>
<circle cx="209.0" cy="332.4" r="1.35" fill="#dd3a35" stroke="#5a1414" stroke-width="0.5"/>
<circle cx="206.4" cy="329.8" r="1.35" fill="#dd3a35" stroke="#5a1414" stroke-width="0.5"/>
<circle cx="207.9" cy="310.1" r="1.35" fill="#dd3a35" stroke="#5a1414" stroke-width="0.5"/>
<line x1="220.72" y1="304.14" x2="220.72" y2="310.69" stroke="#111" stroke-width="1.1"/>
<line x1="220.72" y1="327.22" x2="220.72" y2="336.27" stroke="#111" stroke-width="1.1"/>
<line x1="218.12" y1="304.14" x2="223.32" y2="304.14" stroke="#111" stroke-width="1.1"/>
<line x1="218.12" y1="336.27" x2="223.32" y2="336.27" stroke="#111" stroke-width="1.1"/>
<rect x="215.52" y="310.69" width="10.40" height="16.54" fill="#dcdcdc" stroke="#111" stroke-width="1.1"/>
<line x1="215.52" y1="320.36" x2="225.92" y2="320.36" stroke="#111" stroke-width="1.1"/>
<circle cx="221.0" cy="336.3" r="1.35" fill="#3f7fc8" stroke="#1c3a66" stroke-width="0.5"/>
<circle cx="217.6" cy="304.1" r="1.35" fill="#3f7fc8" stroke="#1c3a66" stroke-width="0.5"/>
<circle cx="219.3" cy="332.6" r="1.35" fill="#3f7fc8" stroke="#1c3a66" stroke-width="0.5"/>
<circle cx="217.8" cy="325.1" r="1.35" fill="#3f7fc8" stroke="#1c3a66" stroke-width="0.5"/>
<circle cx="221.0" cy="319.9" r="1.35" fill="#3f7fc8" stroke="#1c3a66" stroke-width="0.5"/>
<circle cx="223.9" cy="310.4" r="1.35" fill="#3f7fc8" stroke="#1c3a66" stroke-width="0.5"/>
<circle cx="221.5" cy="327.5" r="1.35" fill="#3f7fc8" stroke="#1c3a66" stroke-width="0.5"/>
<circle cx="223.4" cy="326.0" r="1.35" fill="#3f7fc8" stroke="#1c3a66" stroke-width="0.5"/>
<circle cx="218.6" cy="315.4" r="1.35" fill="#3f7fc8" stroke="#1c3a66" stroke-width="0.5"/>
<circle cx="217.1" cy="308.1" r="1.35" fill="#3f7fc8" stroke="#1c3a66" stroke-width="0.5"/>
<line x1="236.09" y1="339.39" x2="236.09" y2="346.57" stroke="#111" stroke-width="1.1"/>
<line x1="236.09" y1="357.49" x2="236.09" y2="369.03" stroke="#111" stroke-width="1.1"/>
<line x1="233.49" y1="339.39" x2="238.69" y2="339.39" stroke="#111" stroke-width="1.1"/>
<line x1="233.49" y1="369.03" x2="238.69" y2="369.03" stroke="#111" stroke-width="1.1"/>
<rect x="230.89" y="346.57" width="10.40" height="10.92" fill="#dcdcdc" stroke="#111" stroke-width="1.1"/>
<line x1="230.89" y1="351.56" x2="241.29" y2="351.56" stroke="#111" stroke-width="1.1"/>
<circle cx="232.8" cy="369.0" r="1.35" fill="#dd3a35" stroke="#5a1414" stroke-width="0.5"/>
<circle cx="237.6" cy="339.4" r="1.35" fill="#dd3a35" stroke="#5a1414" stroke-width="0.5"/>
<circle cx="232.7" cy="362.8" r="1.35" fill="#dd3a35" stroke="#5a1414" stroke-width="0.5"/>
<circle cx="233.8" cy="354.6" r="1.35" fill="#dd3a35" stroke="#5a1414" stroke-width="0.5"/>
<circle cx="234.5" cy="348.7" r="1.35" fill="#dd3a35" stroke="#5a1414" stroke-width="0.5"/>
<circle cx="235.1" cy="343.9" r="1.35" fill="#dd3a35" stroke="#5a1414" stroke-width="0.5"/>
<circle cx="233.1" cy="361.8" r="1.35" fill="#dd3a35" stroke="#5a1414" stroke-width="0.5"/>
<circle cx="235.5" cy="353.2" r="1.35" fill="#dd3a35" stroke="#5a1414" stroke-width="0.5"/>
<circle cx="234.7" cy="347.0" r="1.35" fill="#dd3a35" stroke="#5a1414" stroke-width="0.5"/>
<circle cx="238.0" cy="344.4" r="1.35" fill="#dd3a35" stroke="#5a1414" stroke-width="0.5"/>
<circle cx="236.5" cy="363.8" r="1.35" fill="#dd3a35" stroke="#5a1414" stroke-width="0.5"/>
<circle cx="239.1" cy="352.6" r="1.35" fill="#dd3a35" stroke="#5a1414" stroke-width="0.5"/>
<circle cx="237.2" cy="350.4" r="1.35" fill="#dd3a35" stroke="#5a1414" stroke-width="0.5"/>
<circle cx="238.0" cy="345.7" r="1.35" fill="#dd3a35" stroke="#5a1414" stroke-width="0.5"/>
<circle cx="236.7" cy="365.4" r="1.35" fill="#dd3a35" stroke="#5a1414" stroke-width="0.5"/>
<circle cx="235.7" cy="357.0" r="1.35" fill="#dd3a35" stroke="#5a1414" stroke-width="0.5"/>
<circle cx="238.5" cy="347.7" r="1.35" fill="#dd3a35" stroke="#5a1414" stroke-width="0.5"/>
<circle cx="237.3" cy="340.7" r="1.35" fill="#dd3a35" stroke="#5a1414" stroke-width="0.5"/>
<circle cx="239.5" cy="365.4" r="1.35" fill="#dd3a35" stroke="#5a1414" stroke-width="0.5"/>
<circle cx="237.8" cy="356.7" r="1.35" fill="#dd3a35" stroke="#5a1414" stroke-width="0.5"/>
<circle cx="237.6" cy="351.2" r="1.35" fill="#dd3a35" stroke="#5a1414" stroke-width="0.5"/>
<circle cx="234.4" cy="344.8" r="1.35" fill="#dd3a35" stroke="#5a1414" stroke-width="0.5"/>
<circle cx="238.4" cy="368.1" r="1.35" fill="#dd3a35" stroke="#5a1414" stroke-width="0.5"/>
<circle cx="235.2" cy="354.9" r="1.35" fill="#dd3a35" stroke="#5a1414" stroke-width="0.5"/>
<circle cx="233.3" cy="348.7" r="1.35" fill="#dd3a35" stroke="#5a1414" stroke-width="0.5"/>
<circle cx="232.8" cy="344.8" r="1.35" fill="#dd3a35" stroke="#5a1414" stroke-width="0.5"/>
<line x1="247.09" y1="318.80" x2="247.09" y2="318.80" stroke="#111" stroke-width="1.1"/>
<line x1="247.09" y1="331.59" x2="247.09" y2="335.65" stroke="#111" stroke-width="1.1"/>
<line x1="244.49" y1="318.80" x2="249.69" y2="318.80" stroke="#111" stroke-width="1.1"/>
<line x1="244.49" y1="335.65" x2="249.69" y2="335.65" stroke="#111" stroke-width="1.1"/>
<rect x="241.89" y="318.80" width="10.40" height="12.79" fill="#dcdcdc" stroke="#111" stroke-width="1.1"/>
<line x1="241.89" y1="320.36" x2="252.29" y2="320.36" stroke="#111" stroke-width="1.1"/>
<polygon points="247.1,292.2 249.0,294.8 247.1,297.4 245.2,294.8" fill="#555"/>
<circle cx="243.8" cy="335.6" r="1.35" fill="#3f7fc8" stroke="#1c3a66" stroke-width="0.5"/>
<circle cx="249.1" cy="318.8" r="1.35" fill="#3f7fc8" stroke="#1c3a66" stroke-width="0.5"/>
<circle cx="247.5" cy="335.0" r="1.35" fill="#3f7fc8" stroke="#1c3a66" stroke-width="0.5"/>
<circle cx="243.6" cy="328.6" r="1.35" fill="#3f7fc8" stroke="#1c3a66" stroke-width="0.5"/>
<circle cx="243.7" cy="319.3" r="1.35" fill="#3f7fc8" stroke="#1c3a66" stroke-width="0.5"/>
<circle cx="244.3" cy="318.8" r="1.35" fill="#3f7fc8" stroke="#1c3a66" stroke-width="0.5"/>
<circle cx="246.0" cy="294.8" r="1.35" fill="#3f7fc8" stroke="#1c3a66" stroke-width="0.5"/>
<line x1="262.46" y1="294.78" x2="262.46" y2="307.26" stroke="#111" stroke-width="1.1"/>
<line x1="262.46" y1="325.04" x2="262.46" y2="334.09" stroke="#111" stroke-width="1.1"/>
<line x1="259.86" y1="294.78" x2="265.06" y2="294.78" stroke="#111" stroke-width="1.1"/>
<line x1="259.86" y1="334.09" x2="265.06" y2="334.09" stroke="#111" stroke-width="1.1"/>
<rect x="257.26" y="307.26" width="10.40" height="17.78" fill="#dcdcdc" stroke="#111" stroke-width="1.1"/>
<line x1="257.26" y1="315.99" x2="267.66" y2="315.99" stroke="#111" stroke-width="1.1"/>
<polygon points="262.5,254.7 264.4,257.3 262.5,259.9 260.6,257.3" fill="#555"/>
<circle cx="265.6" cy="334.1" r="1.35" fill="#dd3a35" stroke="#5a1414" stroke-width="0.5"/>
<circle cx="262.2" cy="294.8" r="1.35" fill="#dd3a35" stroke="#5a1414" stroke-width="0.5"/>
<circle cx="262.0" cy="326.3" r="1.35" fill="#dd3a35" stroke="#5a1414" stroke-width="0.5"/>
<circle cx="262.0" cy="316.5" r="1.35" fill="#dd3a35" stroke="#5a1414" stroke-width="0.5"/>
<circle cx="264.5" cy="310.6" r="1.35" fill="#dd3a35" stroke="#5a1414" stroke-width="0.5"/>
<circle cx="265.7" cy="304.4" r="1.35" fill="#dd3a35" stroke="#5a1414" stroke-width="0.5"/>
<circle cx="262.7" cy="330.2" r="1.35" fill="#dd3a35" stroke="#5a1414" stroke-width="0.5"/>
<circle cx="266.0" cy="321.8" r="1.35" fill="#dd3a35" stroke="#5a1414" stroke-width="0.5"/>
<circle cx="263.2" cy="313.1" r="1.35" fill="#dd3a35" stroke="#5a1414" stroke-width="0.5"/>
<circle cx="259.5" cy="307.1" r="1.35" fill="#dd3a35" stroke="#5a1414" stroke-width="0.5"/>
<circle cx="264.8" cy="328.8" r="1.35" fill="#dd3a35" stroke="#5a1414" stroke-width="0.5"/>
<circle cx="261.9" cy="317.6" r="1.35" fill="#dd3a35" stroke="#5a1414" stroke-width="0.5"/>
<circle cx="259.1" cy="309.6" r="1.35" fill="#dd3a35" stroke="#5a1414" stroke-width="0.5"/>
<circle cx="266.0" cy="306.1" r="1.35" fill="#dd3a35" stroke="#5a1414" stroke-width="0.5"/>
<circle cx="259.0" cy="329.3" r="1.35" fill="#dd3a35" stroke="#5a1414" stroke-width="0.5"/>
<circle cx="263.0" cy="323.5" r="1.35" fill="#dd3a35" stroke="#5a1414" stroke-width="0.5"/>
<circle cx="262.3" cy="309.8" r="1.35" fill="#dd3a35" stroke="#5a1414" stroke-width="0.5"/>
<circle cx="265.3" cy="301.7" r="1.35" fill="#dd3a35" stroke="#5a1414" stroke-width="0.5"/>
<circle cx="261.7" cy="325.6" r="1.35" fill="#dd3a35" stroke="#5a1414" stroke-width="0.5"/>
<circle cx="260.3" cy="317.8" r="1.35" fill="#dd3a35" stroke="#5a1414" stroke-width="0.5"/>
<circle cx="260.8" cy="315.0" r="1.35" fill="#dd3a35" stroke="#5a1414" stroke-width="0.5"/>
<circle cx="260.2" cy="303.3" r="1.35" fill="#dd3a35" stroke="#5a1414" stroke-width="0.5"/>
<circle cx="262.9" cy="257.3" r="1.35" fill="#dd3a35" stroke="#5a1414" stroke-width="0.5"/>
<line x1="273.46" y1="251.41" x2="273.46" y2="292.59" stroke="#111" stroke-width="1.1"/>
<line x1="273.46" y1="325.98" x2="273.46" y2="335.34" stroke="#111" stroke-width="1.1"/>
<line x1="270.86" y1="251.41" x2="276.06" y2="251.41" stroke="#111" stroke-width="1.1"/>
<line x1="270.86" y1="335.34" x2="276.06" y2="335.34" stroke="#111" stroke-width="1.1"/>
<rect x="268.26" y="292.59" width="10.40" height="33.38" fill="#dcdcdc" stroke="#111" stroke-width="1.1"/>
<line x1="268.26" y1="319.74" x2="278.66" y2="319.74" stroke="#111" stroke-width="1.1"/>
<circle cx="270.8" cy="335.3" r="1.35" fill="#3f7fc8" stroke="#1c3a66" stroke-width="0.5"/>
<circle cx="275.9" cy="251.4" r="1.35" fill="#3f7fc8" stroke="#1c3a66" stroke-width="0.5"/>
<circle cx="273.4" cy="332.0" r="1.35" fill="#3f7fc8" stroke="#1c3a66" stroke-width="0.5"/>
<circle cx="270.0" cy="321.3" r="1.35" fill="#3f7fc8" stroke="#1c3a66" stroke-width="0.5"/>
<circle cx="271.0" cy="313.2" r="1.35" fill="#3f7fc8" stroke="#1c3a66" stroke-width="0.5"/>
<circle cx="270.5" cy="278.1" r="1.35" fill="#3f7fc8" stroke="#1c3a66" stroke-width="0.5"/>
<circle cx="275.1" cy="333.0" r="1.35" fill="#3f7fc8" stroke="#1c3a66" stroke-width="0.5"/>
<circle cx="276.5" cy="319.8" r="1.35" fill="#3f7fc8" stroke="#1c3a66" stroke-width="0.5"/>
<circle cx="271.2" cy="296.9" r="1.35" fill="#3f7fc8" stroke="#1c3a66" stroke-width="0.5"/>
<circle cx="275.7" cy="257.6" r="1.35" fill="#3f7fc8" stroke="#1c3a66" stroke-width="0.5"/>
<circle cx="272.1" cy="329.6" r="1.35" fill="#3f7fc8" stroke="#1c3a66" stroke-width="0.5"/>
<circle cx="274.8" cy="323.5" r="1.35" fill="#3f7fc8" stroke="#1c3a66" stroke-width="0.5"/>
<line x1="288.84" y1="292.28" x2="288.84" y2="313.18" stroke="#111" stroke-width="1.1"/>
<line x1="288.84" y1="336.27" x2="288.84" y2="343.76" stroke="#111" stroke-width="1.1"/>
<line x1="286.24" y1="292.28" x2="291.44" y2="292.28" stroke="#111" stroke-width="1.1"/>
<line x1="286.24" y1="343.76" x2="291.44" y2="343.76" stroke="#111" stroke-width="1.1"/>
<rect x="283.64" y="313.18" width="10.40" height="23.09" fill="#dcdcdc" stroke="#111" stroke-width="1.1"/>
<line x1="283.64" y1="330.34" x2="294.04" y2="330.34" stroke="#111" stroke-width="1.1"/>
<circle cx="290.1" cy="343.8" r="1.35" fill="#dd3a35" stroke="#5a1414" stroke-width="0.5"/>
<circle cx="289.1" cy="292.3" r="1.35" fill="#dd3a35" stroke="#5a1414" stroke-width="0.5"/>
<circle cx="291.1" cy="337.3" r="1.35" fill="#dd3a35" stroke="#5a1414" stroke-width="0.5"/>
<circle cx="287.8" cy="332.6" r="1.35" fill="#dd3a35" stroke="#5a1414" stroke-width="0.5"/>
<circle cx="289.5" cy="316.6" r="1.35" fill="#dd3a35" stroke="#5a1414" stroke-width="0.5"/>
<circle cx="290.2" cy="305.3" r="1.35" fill="#dd3a35" stroke="#5a1414" stroke-width="0.5"/>
<circle cx="289.0" cy="343.7" r="1.35" fill="#dd3a35" stroke="#5a1414" stroke-width="0.5"/>
<circle cx="287.2" cy="333.2" r="1.35" fill="#dd3a35" stroke="#5a1414" stroke-width="0.5"/>
<circle cx="285.7" cy="320.3" r="1.35" fill="#dd3a35" stroke="#5a1414" stroke-width="0.5"/>
<circle cx="285.7" cy="309.3" r="1.35" fill="#dd3a35" stroke="#5a1414" stroke-width="0.5"/>
<circle cx="287.8" cy="340.8" r="1.35" fill="#dd3a35" stroke="#5a1414" stroke-width="0.5"/>
<circle cx="289.4" cy="334.4" r="1.35" fill="#dd3a35" stroke="#5a1414" stroke-width="0.5"/>
<circle cx="290.8" cy="329.9" r="1.35" fill="#dd3a35" stroke="#5a1414" stroke-width="0.5"/>
<circle cx="290.4" cy="306.7" r="1.35" fill="#dd3a35" stroke="#5a1414" stroke-width="0.5"/>
<circle cx="287.4" cy="340.9" r="1.35" fill="#dd3a35" stroke="#5a1414" stroke-width="0.5"/>
<circle cx="292.0" cy="333.4" r="1.35" fill="#dd3a35" stroke="#5a1414" stroke-width="0.5"/>
<circle cx="287.1" cy="318.3" r="1.35" fill="#dd3a35" stroke="#5a1414" stroke-width="0.5"/>
<circle cx="290.5" cy="304.8" r="1.35" fill="#dd3a35" stroke="#5a1414" stroke-width="0.5"/>
<circle cx="285.6" cy="336.4" r="1.35" fill="#dd3a35" stroke="#5a1414" stroke-width="0.5"/>
<circle cx="290.7" cy="331.4" r="1.35" fill="#dd3a35" stroke="#5a1414" stroke-width="0.5"/>
<circle cx="290.1" cy="314.5" r="1.35" fill="#dd3a35" stroke="#5a1414" stroke-width="0.5"/>
<circle cx="292.3" cy="298.7" r="1.35" fill="#dd3a35" stroke="#5a1414" stroke-width="0.5"/>
<line x1="299.84" y1="287.91" x2="299.84" y2="294.46" stroke="#111" stroke-width="1.1"/>
<line x1="299.84" y1="338.14" x2="299.84" y2="343.76" stroke="#111" stroke-width="1.1"/>
<line x1="297.24" y1="287.91" x2="302.44" y2="287.91" stroke="#111" stroke-width="1.1"/>
<line x1="297.24" y1="343.76" x2="302.44" y2="343.76" stroke="#111" stroke-width="1.1"/>
<rect x="294.64" y="294.46" width="10.40" height="43.68" fill="#dcdcdc" stroke="#111" stroke-width="1.1"/>
<line x1="294.64" y1="314.74" x2="305.04" y2="314.74" stroke="#111" stroke-width="1.1"/>
<circle cx="297.9" cy="343.8" r="1.35" fill="#3f7fc8" stroke="#1c3a66" stroke-width="0.5"/>
<circle cx="303.4" cy="287.9" r="1.35" fill="#3f7fc8" stroke="#1c3a66" stroke-width="0.5"/>
<circle cx="300.2" cy="338.7" r="1.35" fill="#3f7fc8" stroke="#1c3a66" stroke-width="0.5"/>
<circle cx="299.0" cy="322.1" r="1.35" fill="#3f7fc8" stroke="#1c3a66" stroke-width="0.5"/>
<circle cx="296.1" cy="297.7" r="1.35" fill="#3f7fc8" stroke="#1c3a66" stroke-width="0.5"/>
<circle cx="299.0" cy="289.6" r="1.35" fill="#3f7fc8" stroke="#1c3a66" stroke-width="0.5"/>
<circle cx="297.4" cy="340.3" r="1.35" fill="#3f7fc8" stroke="#1c3a66" stroke-width="0.5"/>
<circle cx="301.0" cy="333.3" r="1.35" fill="#3f7fc8" stroke="#1c3a66" stroke-width="0.5"/>
<circle cx="302.8" cy="304.3" r="1.35" fill="#3f7fc8" stroke="#1c3a66" stroke-width="0.5"/>
<circle cx="302.9" cy="288.6" r="1.35" fill="#3f7fc8" stroke="#1c3a66" stroke-width="0.5"/>
<line x1="315.21" y1="298.52" x2="315.21" y2="321.30" stroke="#111" stroke-width="1.1"/>
<line x1="315.21" y1="338.46" x2="315.21" y2="347.19" stroke="#111" stroke-width="1.1"/>
<line x1="312.61" y1="298.52" x2="317.81" y2="298.52" stroke="#111" stroke-width="1.1"/>
<line x1="312.61" y1="347.19" x2="317.81" y2="347.19" stroke="#111" stroke-width="1.1"/>
<rect x="310.01" y="321.30" width="10.40" height="17.16" fill="#dcdcdc" stroke="#111" stroke-width="1.1"/>
<line x1="310.01" y1="330.97" x2="320.41" y2="330.97" stroke="#111" stroke-width="1.1"/>
<polygon points="315.2,290.9 317.1,293.5 315.2,296.1 313.3,293.5" fill="#555"/>
<circle cx="318.0" cy="347.2" r="1.35" fill="#dd3a35" stroke="#5a1414" stroke-width="0.5"/>
<circle cx="316.9" cy="298.5" r="1.35" fill="#dd3a35" stroke="#5a1414" stroke-width="0.5"/>
<circle cx="314.6" cy="341.8" r="1.35" fill="#dd3a35" stroke="#5a1414" stroke-width="0.5"/>
<circle cx="314.6" cy="335.6" r="1.35" fill="#dd3a35" stroke="#5a1414" stroke-width="0.5"/>
<circle cx="315.4" cy="329.9" r="1.35" fill="#dd3a35" stroke="#5a1414" stroke-width="0.5"/>
<circle cx="318.2" cy="305.6" r="1.35" fill="#dd3a35" stroke="#5a1414" stroke-width="0.5"/>
<circle cx="313.7" cy="342.4" r="1.35" fill="#dd3a35" stroke="#5a1414" stroke-width="0.5"/>
<circle cx="313.6" cy="333.1" r="1.35" fill="#dd3a35" stroke="#5a1414" stroke-width="0.5"/>
<circle cx="316.0" cy="327.4" r="1.35" fill="#dd3a35" stroke="#5a1414" stroke-width="0.5"/>
<circle cx="318.7" cy="301.1" r="1.35" fill="#dd3a35" stroke="#5a1414" stroke-width="0.5"/>
<circle cx="312.9" cy="345.3" r="1.35" fill="#dd3a35" stroke="#5a1414" stroke-width="0.5"/>
<circle cx="311.7" cy="336.2" r="1.35" fill="#dd3a35" stroke="#5a1414" stroke-width="0.5"/>
<circle cx="312.3" cy="328.4" r="1.35" fill="#dd3a35" stroke="#5a1414" stroke-width="0.5"/>
<circle cx="315.7" cy="307.1" r="1.35" fill="#dd3a35" stroke="#5a1414" stroke-width="0.5"/>
<circle cx="316.0" cy="339.4" r="1.35" fill="#dd3a35" stroke="#5a1414" stroke-width="0.5"/>
<circle cx="312.8" cy="337.2" r="1.35" fill="#dd3a35" stroke="#5a1414" stroke-width="0.5"/>
<circle cx="312.9" cy="324.8" r="1.35" fill="#dd3a35" stroke="#5a1414" stroke-width="0.5"/>
<circle cx="315.9" cy="303.8" r="1.35" fill="#dd3a35" stroke="#5a1414" stroke-width="0.5"/>
<circle cx="316.3" cy="345.2" r="1.35" fill="#dd3a35" stroke="#5a1414" stroke-width="0.5"/>
<circle cx="316.6" cy="338.0" r="1.35" fill="#dd3a35" stroke="#5a1414" stroke-width="0.5"/>
<circle cx="316.9" cy="325.5" r="1.35" fill="#dd3a35" stroke="#5a1414" stroke-width="0.5"/>
<circle cx="311.9" cy="302.4" r="1.35" fill="#dd3a35" stroke="#5a1414" stroke-width="0.5"/>
<circle cx="315.1" cy="293.5" r="1.35" fill="#dd3a35" stroke="#5a1414" stroke-width="0.5"/>
<line x1="326.21" y1="246.10" x2="326.21" y2="290.72" stroke="#111" stroke-width="1.1"/>
<line x1="326.21" y1="332.53" x2="326.21" y2="355.30" stroke="#111" stroke-width="1.1"/>
<line x1="323.61" y1="246.10" x2="328.81" y2="246.10" stroke="#111" stroke-width="1.1"/>
<line x1="323.61" y1="355.30" x2="328.81" y2="355.30" stroke="#111" stroke-width="1.1"/>
<rect x="321.01" y="290.72" width="10.40" height="41.81" fill="#dcdcdc" stroke="#111" stroke-width="1.1"/>
<line x1="321.01" y1="311.31" x2="331.41" y2="311.31" stroke="#111" stroke-width="1.1"/>
<circle cx="323.6" cy="355.3" r="1.35" fill="#3f7fc8" stroke="#1c3a66" stroke-width="0.5"/>
<circle cx="327.1" cy="246.1" r="1.35" fill="#3f7fc8" stroke="#1c3a66" stroke-width="0.5"/>
<circle cx="323.2" cy="336.3" r="1.35" fill="#3f7fc8" stroke="#1c3a66" stroke-width="0.5"/>
<circle cx="328.1" cy="312.2" r="1.35" fill="#3f7fc8" stroke="#1c3a66" stroke-width="0.5"/>
<circle cx="328.0" cy="304.8" r="1.35" fill="#3f7fc8" stroke="#1c3a66" stroke-width="0.5"/>
<circle cx="328.6" cy="252.8" r="1.35" fill="#3f7fc8" stroke="#1c3a66" stroke-width="0.5"/>
<circle cx="328.5" cy="340.6" r="1.35" fill="#3f7fc8" stroke="#1c3a66" stroke-width="0.5"/>
<circle cx="327.8" cy="312.9" r="1.35" fill="#3f7fc8" stroke="#1c3a66" stroke-width="0.5"/>
<circle cx="329.4" cy="306.6" r="1.35" fill="#3f7fc8" stroke="#1c3a66" stroke-width="0.5"/>
<circle cx="329.6" cy="259.6" r="1.35" fill="#3f7fc8" stroke="#1c3a66" stroke-width="0.5"/>
<circle cx="327.1" cy="336.2" r="1.35" fill="#3f7fc8" stroke="#1c3a66" stroke-width="0.5"/>
<circle cx="329.7" cy="322.4" r="1.35" fill="#3f7fc8" stroke="#1c3a66" stroke-width="0.5"/>
<circle cx="323.2" cy="309.2" r="1.35" fill="#3f7fc8" stroke="#1c3a66" stroke-width="0.5"/>
<circle cx="323.2" cy="282.1" r="1.35" fill="#3f7fc8" stroke="#1c3a66" stroke-width="0.5"/>
<circle cx="322.9" cy="351.7" r="1.35" fill="#3f7fc8" stroke="#1c3a66" stroke-width="0.5"/>
<circle cx="324.0" cy="330.6" r="1.35" fill="#3f7fc8" stroke="#1c3a66" stroke-width="0.5"/>
<line x1="341.58" y1="311.31" x2="341.58" y2="321.30" stroke="#111" stroke-width="1.1"/>
<line x1="341.58" y1="331.59" x2="341.58" y2="345.94" stroke="#111" stroke-width="1.1"/>
<line x1="338.98" y1="311.31" x2="344.18" y2="311.31" stroke="#111" stroke-width="1.1"/>
<line x1="338.98" y1="345.94" x2="344.18" y2="345.94" stroke="#111" stroke-width="1.1"/>
<rect x="336.38" y="321.30" width="10.40" height="10.30" fill="#dcdcdc" stroke="#111" stroke-width="1.1"/>
<line x1="336.38" y1="327.22" x2="346.78" y2="327.22" stroke="#111" stroke-width="1.1"/>
<circle cx="340.1" cy="345.9" r="1.35" fill="#dd3a35" stroke="#5a1414" stroke-width="0.5"/>
<circle cx="338.7" cy="311.3" r="1.35" fill="#dd3a35" stroke="#5a1414" stroke-width="0.5"/>
<circle cx="341.4" cy="340.6" r="1.35" fill="#dd3a35" stroke="#5a1414" stroke-width="0.5"/>
<circle cx="340.5" cy="329.6" r="1.35" fill="#dd3a35" stroke="#5a1414" stroke-width="0.5"/>
<circle cx="343.4" cy="323.2" r="1.35" fill="#dd3a35" stroke="#5a1414" stroke-width="0.5"/>
<circle cx="344.7" cy="313.9" r="1.35" fill="#dd3a35" stroke="#5a1414" stroke-width="0.5"/>
<circle cx="340.7" cy="344.7" r="1.35" fill="#dd3a35" stroke="#5a1414" stroke-width="0.5"/>
<circle cx="340.0" cy="329.8" r="1.35" fill="#dd3a35" stroke="#5a1414" stroke-width="0.5"/>
<circle cx="341.6" cy="324.0" r="1.35" fill="#dd3a35" stroke="#5a1414" stroke-width="0.5"/>
<circle cx="343.1" cy="317.6" r="1.35" fill="#dd3a35" stroke="#5a1414" stroke-width="0.5"/>
<circle cx="343.7" cy="344.3" r="1.35" fill="#dd3a35" stroke="#5a1414" stroke-width="0.5"/>
<circle cx="342.1" cy="329.0" r="1.35" fill="#dd3a35" stroke="#5a1414" stroke-width="0.5"/>
<circle cx="340.1" cy="325.0" r="1.35" fill="#dd3a35" stroke="#5a1414" stroke-width="0.5"/>
<circle cx="340.4" cy="314.5" r="1.35" fill="#dd3a35" stroke="#5a1414" stroke-width="0.5"/>
<circle cx="344.2" cy="338.8" r="1.35" fill="#dd3a35" stroke="#5a1414" stroke-width="0.5"/>
<circle cx="341.7" cy="327.4" r="1.35" fill="#dd3a35" stroke="#5a1414" stroke-width="0.5"/>
<circle cx="338.2" cy="321.6" r="1.35" fill="#dd3a35" stroke="#5a1414" stroke-width="0.5"/>
<circle cx="341.0" cy="320.6" r="1.35" fill="#dd3a35" stroke="#5a1414" stroke-width="0.5"/>
<circle cx="339.6" cy="335.0" r="1.35" fill="#dd3a35" stroke="#5a1414" stroke-width="0.5"/>
<circle cx="342.8" cy="328.4" r="1.35" fill="#dd3a35" stroke="#5a1414" stroke-width="0.5"/>
<line x1="352.58" y1="297.58" x2="352.58" y2="303.82" stroke="#111" stroke-width="1.1"/>
<line x1="352.58" y1="315.99" x2="352.58" y2="325.66" stroke="#111" stroke-width="1.1"/>
<line x1="349.98" y1="297.58" x2="355.18" y2="297.58" stroke="#111" stroke-width="1.1"/>
<line x1="349.98" y1="325.66" x2="355.18" y2="325.66" stroke="#111" stroke-width="1.1"/>
<rect x="347.38" y="303.82" width="10.40" height="12.17" fill="#dcdcdc" stroke="#111" stroke-width="1.1"/>
<line x1="347.38" y1="310.06" x2="357.78" y2="310.06" stroke="#111" stroke-width="1.1"/>
<polygon points="352.6,272.8 354.5,275.4 352.6,278.0 350.7,275.4" fill="#555"/>
<circle cx="355.8" cy="325.7" r="1.35" fill="#3f7fc8" stroke="#1c3a66" stroke-width="0.5"/>
<circle cx="349.5" cy="297.6" r="1.35" fill="#3f7fc8" stroke="#1c3a66" stroke-width="0.5"/>
<circle cx="351.5" cy="325.0" r="1.35" fill="#3f7fc8" stroke="#1c3a66" stroke-width="0.5"/>
<circle cx="354.9" cy="314.4" r="1.35" fill="#3f7fc8" stroke="#1c3a66" stroke-width="0.5"/>
<circle cx="348.9" cy="309.5" r="1.35" fill="#3f7fc8" stroke="#1c3a66" stroke-width="0.5"/>
<circle cx="354.6" cy="300.8" r="1.35" fill="#3f7fc8" stroke="#1c3a66" stroke-width="0.5"/>
<circle cx="351.5" cy="316.1" r="1.35" fill="#3f7fc8" stroke="#1c3a66" stroke-width="0.5"/>
<circle cx="349.0" cy="312.8" r="1.35" fill="#3f7fc8" stroke="#1c3a66" stroke-width="0.5"/>
<circle cx="350.7" cy="307.7" r="1.35" fill="#3f7fc8" stroke="#1c3a66" stroke-width="0.5"/>
<circle cx="352.3" cy="275.4" r="1.35" fill="#3f7fc8" stroke="#1c3a66" stroke-width="0.5"/>
<line x1="367.95" y1="302.58" x2="367.95" y2="328.78" stroke="#111" stroke-width="1.1"/>
<line x1="367.95" y1="347.19" x2="367.95" y2="361.54" stroke="#111" stroke-width="1.1"/>
<line x1="365.35" y1="302.58" x2="370.55" y2="302.58" stroke="#111" stroke-width="1.1"/>
<line x1="365.35" y1="361.54" x2="370.55" y2="361.54" stroke="#111" stroke-width="1.1"/>
<rect x="362.75" y="328.78" width="10.40" height="18.41" fill="#dcdcdc" stroke="#111" stroke-width="1.1"/>
<line x1="362.75" y1="335.65" x2="373.15" y2="335.65" stroke="#111" stroke-width="1.1"/>
<circle cx="370.1" cy="361.5" r="1.35" fill="#dd3a35" stroke="#5a1414" stroke-width="0.5"/>
<circle cx="367.4" cy="302.6" r="1.35" fill="#dd3a35" stroke="#5a1414" stroke-width="0.5"/>
<circle cx="371.5" cy="356.0" r="1.35" fill="#dd3a35" stroke="#5a1414" stroke-width="0.5"/>
<circle cx="371.7" cy="341.2" r="1.35" fill="#dd3a35" stroke="#5a1414" stroke-width="0.5"/>
<circle cx="365.8" cy="335.3" r="1.35" fill="#dd3a35" stroke="#5a1414" stroke-width="0.5"/>
<circle cx="367.4" cy="323.1" r="1.35" fill="#dd3a35" stroke="#5a1414" stroke-width="0.5"/>
<circle cx="366.2" cy="347.6" r="1.35" fill="#dd3a35" stroke="#5a1414" stroke-width="0.5"/>
<circle cx="367.7" cy="342.1" r="1.35" fill="#dd3a35" stroke="#5a1414" stroke-width="0.5"/>
<circle cx="366.4" cy="332.4" r="1.35" fill="#dd3a35" stroke="#5a1414" stroke-width="0.5"/>
<circle cx="369.2" cy="326.5" r="1.35" fill="#dd3a35" stroke="#5a1414" stroke-width="0.5"/>
<circle cx="365.1" cy="357.5" r="1.35" fill="#dd3a35" stroke="#5a1414" stroke-width="0.5"/>
<circle cx="365.5" cy="336.2" r="1.35" fill="#dd3a35" stroke="#5a1414" stroke-width="0.5"/>
<circle cx="367.6" cy="330.9" r="1.35" fill="#dd3a35" stroke="#5a1414" stroke-width="0.5"/>
<circle cx="364.8" cy="315.5" r="1.35" fill="#dd3a35" stroke="#5a1414" stroke-width="0.5"/>
<circle cx="367.1" cy="360.8" r="1.35" fill="#dd3a35" stroke="#5a1414" stroke-width="0.5"/>
<circle cx="370.9" cy="342.7" r="1.35" fill="#dd3a35" stroke="#5a1414" stroke-width="0.5"/>
<circle cx="370.8" cy="330.3" r="1.35" fill="#dd3a35" stroke="#5a1414" stroke-width="0.5"/>
<circle cx="365.7" cy="317.4" r="1.35" fill="#dd3a35" stroke="#5a1414" stroke-width="0.5"/>
<circle cx="364.3" cy="353.0" r="1.35" fill="#dd3a35" stroke="#5a1414" stroke-width="0.5"/>
<circle cx="370.4" cy="336.8" r="1.35" fill="#dd3a35" stroke="#5a1414" stroke-width="0.5"/>
<circle cx="371.4" cy="331.2" r="1.35" fill="#dd3a35" stroke="#5a1414" stroke-width="0.5"/>
<circle cx="368.7" cy="312.1" r="1.35" fill="#dd3a35" stroke="#5a1414" stroke-width="0.5"/>
<circle cx="365.2" cy="361.0" r="1.35" fill="#dd3a35" stroke="#5a1414" stroke-width="0.5"/>
<circle cx="366.0" cy="346.9" r="1.35" fill="#dd3a35" stroke="#5a1414" stroke-width="0.5"/>
<circle cx="371.1" cy="330.4" r="1.35" fill="#dd3a35" stroke="#5a1414" stroke-width="0.5"/>
<circle cx="371.2" cy="318.0" r="1.35" fill="#dd3a35" stroke="#5a1414" stroke-width="0.5"/>
<circle cx="364.4" cy="349.0" r="1.35" fill="#dd3a35" stroke="#5a1414" stroke-width="0.5"/>
<circle cx="365.6" cy="337.7" r="1.35" fill="#dd3a35" stroke="#5a1414" stroke-width="0.5"/>
<circle cx="367.4" cy="329.4" r="1.35" fill="#dd3a35" stroke="#5a1414" stroke-width="0.5"/>
<circle cx="366.2" cy="318.9" r="1.35" fill="#dd3a35" stroke="#5a1414" stroke-width="0.5"/>
<circle cx="369.9" cy="347.2" r="1.35" fill="#dd3a35" stroke="#5a1414" stroke-width="0.5"/>
<circle cx="367.0" cy="338.5" r="1.35" fill="#dd3a35" stroke="#5a1414" stroke-width="0.5"/>
<circle cx="370.0" cy="329.5" r="1.35" fill="#dd3a35" stroke="#5a1414" stroke-width="0.5"/>
<circle cx="365.3" cy="324.9" r="1.35" fill="#dd3a35" stroke="#5a1414" stroke-width="0.5"/>
<line x1="378.95" y1="280.11" x2="378.95" y2="297.90" stroke="#111" stroke-width="1.1"/>
<line x1="378.95" y1="317.24" x2="378.95" y2="343.76" stroke="#111" stroke-width="1.1"/>
<line x1="376.35" y1="280.11" x2="381.55" y2="280.11" stroke="#111" stroke-width="1.1"/>
<line x1="376.35" y1="343.76" x2="381.55" y2="343.76" stroke="#111" stroke-width="1.1"/>
<rect x="373.75" y="297.90" width="10.40" height="19.34" fill="#dcdcdc" stroke="#111" stroke-width="1.1"/>
<line x1="373.75" y1="310.69" x2="384.15" y2="310.69" stroke="#111" stroke-width="1.1"/>
<polygon points="379.0,346.5 380.9,349.1 379.0,351.7 377.1,349.1" fill="#555"/>
<circle cx="378.0" cy="343.8" r="1.35" fill="#3f7fc8" stroke="#1c3a66" stroke-width="0.5"/>
<circle cx="378.8" cy="280.1" r="1.35" fill="#3f7fc8" stroke="#1c3a66" stroke-width="0.5"/>
<circle cx="379.6" cy="330.0" r="1.35" fill="#3f7fc8" stroke="#1c3a66" stroke-width="0.5"/>
<circle cx="382.4" cy="310.9" r="1.35" fill="#3f7fc8" stroke="#1c3a66" stroke-width="0.5"/>
<circle cx="377.0" cy="301.7" r="1.35" fill="#3f7fc8" stroke="#1c3a66" stroke-width="0.5"/>
<circle cx="379.5" cy="296.3" r="1.35" fill="#3f7fc8" stroke="#1c3a66" stroke-width="0.5"/>
<circle cx="377.2" cy="340.8" r="1.35" fill="#3f7fc8" stroke="#1c3a66" stroke-width="0.5"/>
<circle cx="379.3" cy="313.0" r="1.35" fill="#3f7fc8" stroke="#1c3a66" stroke-width="0.5"/>
<circle cx="380.7" cy="305.9" r="1.35" fill="#3f7fc8" stroke="#1c3a66" stroke-width="0.5"/>
<circle cx="376.2" cy="349.1" r="1.35" fill="#3f7fc8" stroke="#1c3a66" stroke-width="0.5"/>
<line x1="394.32" y1="314.43" x2="394.32" y2="329.41" stroke="#111" stroke-width="1.1"/>
<line x1="394.32" y1="348.44" x2="394.32" y2="370.28" stroke="#111" stroke-width="1.1"/>
<line x1="391.72" y1="314.43" x2="396.93" y2="314.43" stroke="#111" stroke-width="1.1"/>
<line x1="391.72" y1="370.28" x2="396.93" y2="370.28" stroke="#111" stroke-width="1.1"/>
<rect x="389.12" y="329.41" width="10.40" height="19.03" fill="#dcdcdc" stroke="#111" stroke-width="1.1"/>
<line x1="389.12" y1="339.39" x2="399.52" y2="339.39" stroke="#111" stroke-width="1.1"/>
<circle cx="397.5" cy="370.3" r="1.35" fill="#dd3a35" stroke="#5a1414" stroke-width="0.5"/>
<circle cx="392.8" cy="314.4" r="1.35" fill="#dd3a35" stroke="#5a1414" stroke-width="0.5"/>
<circle cx="394.7" cy="359.8" r="1.35" fill="#dd3a35" stroke="#5a1414" stroke-width="0.5"/>
<circle cx="396.8" cy="342.1" r="1.35" fill="#dd3a35" stroke="#5a1414" stroke-width="0.5"/>
<circle cx="391.6" cy="339.3" r="1.35" fill="#dd3a35" stroke="#5a1414" stroke-width="0.5"/>
<circle cx="393.2" cy="317.9" r="1.35" fill="#dd3a35" stroke="#5a1414" stroke-width="0.5"/>
<circle cx="394.3" cy="361.1" r="1.35" fill="#dd3a35" stroke="#5a1414" stroke-width="0.5"/>
<circle cx="394.8" cy="343.9" r="1.35" fill="#dd3a35" stroke="#5a1414" stroke-width="0.5"/>
<circle cx="392.1" cy="333.3" r="1.35" fill="#dd3a35" stroke="#5a1414" stroke-width="0.5"/>
<circle cx="394.0" cy="317.5" r="1.35" fill="#dd3a35" stroke="#5a1414" stroke-width="0.5"/>
<circle cx="391.0" cy="369.1" r="1.35" fill="#dd3a35" stroke="#5a1414" stroke-width="0.5"/>
<circle cx="391.2" cy="343.9" r="1.35" fill="#dd3a35" stroke="#5a1414" stroke-width="0.5"/>
<circle cx="393.1" cy="339.0" r="1.35" fill="#dd3a35" stroke="#5a1414" stroke-width="0.5"/>
<circle cx="391.7" cy="323.6" r="1.35" fill="#dd3a35" stroke="#5a1414" stroke-width="0.5"/>
<circle cx="397.8" cy="362.7" r="1.35" fill="#dd3a35" stroke="#5a1414" stroke-width="0.5"/>
<circle cx="392.6" cy="348.2" r="1.35" fill="#dd3a35" stroke="#5a1414" stroke-width="0.5"/>
<circle cx="392.6" cy="336.4" r="1.35" fill="#dd3a35" stroke="#5a1414" stroke-width="0.5"/>
<circle cx="396.4" cy="322.7" r="1.35" fill="#dd3a35" stroke="#5a1414" stroke-width="0.5"/>
<circle cx="396.1" cy="356.0" r="1.35" fill="#dd3a35" stroke="#5a1414" stroke-width="0.5"/>
<circle cx="392.5" cy="340.1" r="1.35" fill="#dd3a35" stroke="#5a1414" stroke-width="0.5"/>
<circle cx="396.8" cy="335.7" r="1.35" fill="#dd3a35" stroke="#5a1414" stroke-width="0.5"/>
<circle cx="395.3" cy="321.5" r="1.35" fill="#dd3a35" stroke="#5a1414" stroke-width="0.5"/>
<circle cx="393.5" cy="354.7" r="1.35" fill="#dd3a35" stroke="#5a1414" stroke-width="0.5"/>
<circle cx="395.3" cy="340.0" r="1.35" fill="#dd3a35" stroke="#5a1414" stroke-width="0.5"/>
<circle cx="392.4" cy="329.9" r="1.35" fill="#dd3a35" stroke="#5a1414" stroke-width="0.5"/>
<circle cx="392.6" cy="314.6" r="1.35" fill="#dd3a35" stroke="#5a1414" stroke-width="0.5"/>
<circle cx="397.1" cy="363.7" r="1.35" fill="#dd3a35" stroke="#5a1414" stroke-width="0.5"/>
<circle cx="393.9" cy="346.9" r="1.35" fill="#dd3a35" stroke="#5a1414" stroke-width="0.5"/>
<circle cx="397.3" cy="330.1" r="1.35" fill="#dd3a35" stroke="#5a1414" stroke-width="0.5"/>
<circle cx="391.9" cy="328.2" r="1.35" fill="#dd3a35" stroke="#5a1414" stroke-width="0.5"/>
<circle cx="391.6" cy="360.5" r="1.35" fill="#dd3a35" stroke="#5a1414" stroke-width="0.5"/>
<circle cx="391.0" cy="341.8" r="1.35" fill="#dd3a35" stroke="#5a1414" stroke-width="0.5"/>
<circle cx="396.1" cy="334.1" r="1.35" fill="#dd3a35" stroke="#5a1414" stroke-width="0.5"/>
<circle cx="394.8" cy="323.6" r="1.35" fill="#dd3a35" stroke="#5a1414" stroke-width="0.5"/>
<line x1="405.32" y1="292.90" x2="405.32" y2="295.71" stroke="#111" stroke-width="1.1"/>
<line x1="405.32" y1="311.31" x2="405.32" y2="325.98" stroke="#111" stroke-width="1.1"/>
<line x1="402.72" y1="292.90" x2="407.93" y2="292.90" stroke="#111" stroke-width="1.1"/>
<line x1="402.72" y1="325.98" x2="407.93" y2="325.98" stroke="#111" stroke-width="1.1"/>
<rect x="400.12" y="295.71" width="10.40" height="15.60" fill="#dcdcdc" stroke="#111" stroke-width="1.1"/>
<line x1="400.12" y1="306.63" x2="410.52" y2="306.63" stroke="#111" stroke-width="1.1"/>
<polygon points="405.3,266.6 407.2,269.2 405.3,271.8 403.4,269.2" fill="#555"/>
<circle cx="406.0" cy="326.0" r="1.35" fill="#3f7fc8" stroke="#1c3a66" stroke-width="0.5"/>
<circle cx="402.5" cy="292.9" r="1.35" fill="#3f7fc8" stroke="#1c3a66" stroke-width="0.5"/>
<circle cx="407.0" cy="325.8" r="1.35" fill="#3f7fc8" stroke="#1c3a66" stroke-width="0.5"/>
<circle cx="406.2" cy="311.1" r="1.35" fill="#3f7fc8" stroke="#1c3a66" stroke-width="0.5"/>
<circle cx="406.2" cy="297.6" r="1.35" fill="#3f7fc8" stroke="#1c3a66" stroke-width="0.5"/>
<circle cx="403.2" cy="294.3" r="1.35" fill="#3f7fc8" stroke="#1c3a66" stroke-width="0.5"/>
<circle cx="408.7" cy="313.2" r="1.35" fill="#3f7fc8" stroke="#1c3a66" stroke-width="0.5"/>
<circle cx="402.4" cy="311.1" r="1.35" fill="#3f7fc8" stroke="#1c3a66" stroke-width="0.5"/>
<circle cx="402.1" cy="269.2" r="1.35" fill="#3f7fc8" stroke="#1c3a66" stroke-width="0.5"/>
<line x1="420.70" y1="309.13" x2="420.70" y2="325.35" stroke="#111" stroke-width="1.1"/>
<line x1="420.70" y1="341.26" x2="420.70" y2="356.24" stroke="#111" stroke-width="1.1"/>
<line x1="418.10" y1="309.13" x2="423.30" y2="309.13" stroke="#111" stroke-width="1.1"/>
<line x1="418.10" y1="356.24" x2="423.30" y2="356.24" stroke="#111" stroke-width="1.1"/>
<rect x="415.50" y="325.35" width="10.40" height="15.91" fill="#dcdcdc" stroke="#111" stroke-width="1.1"/>
<line x1="415.50" y1="334.09" x2="425.90" y2="334.09" stroke="#111" stroke-width="1.1"/>
<circle cx="421.6" cy="356.2" r="1.35" fill="#dd3a35" stroke="#5a1414" stroke-width="0.5"/>
<circle cx="421.8" cy="309.1" r="1.35" fill="#dd3a35" stroke="#5a1414" stroke-width="0.5"/>
<circle cx="418.3" cy="346.0" r="1.35" fill="#dd3a35" stroke="#5a1414" stroke-width="0.5"/>
<circle cx="418.0" cy="340.6" r="1.35" fill="#dd3a35" stroke="#5a1414" stroke-width="0.5"/>
<circle cx="420.6" cy="333.5" r="1.35" fill="#dd3a35" stroke="#5a1414" stroke-width="0.5"/>
<circle cx="422.1" cy="317.9" r="1.35" fill="#dd3a35" stroke="#5a1414" stroke-width="0.5"/>
<circle cx="420.3" cy="346.5" r="1.35" fill="#dd3a35" stroke="#5a1414" stroke-width="0.5"/>
<circle cx="421.2" cy="334.9" r="1.35" fill="#dd3a35" stroke="#5a1414" stroke-width="0.5"/>
<circle cx="423.8" cy="327.8" r="1.35" fill="#dd3a35" stroke="#5a1414" stroke-width="0.5"/>
<circle cx="418.0" cy="324.2" r="1.35" fill="#dd3a35" stroke="#5a1414" stroke-width="0.5"/>
<circle cx="419.0" cy="346.6" r="1.35" fill="#dd3a35" stroke="#5a1414" stroke-width="0.5"/>
<circle cx="420.7" cy="335.2" r="1.35" fill="#dd3a35" stroke="#5a1414" stroke-width="0.5"/>
<circle cx="421.0" cy="333.0" r="1.35" fill="#dd3a35" stroke="#5a1414" stroke-width="0.5"/>
<circle cx="423.7" cy="313.1" r="1.35" fill="#dd3a35" stroke="#5a1414" stroke-width="0.5"/>
<circle cx="421.1" cy="352.4" r="1.35" fill="#dd3a35" stroke="#5a1414" stroke-width="0.5"/>
<circle cx="421.9" cy="339.1" r="1.35" fill="#dd3a35" stroke="#5a1414" stroke-width="0.5"/>
<circle cx="420.1" cy="334.1" r="1.35" fill="#dd3a35" stroke="#5a1414" stroke-width="0.5"/>
<circle cx="422.8" cy="313.1" r="1.35" fill="#dd3a35" stroke="#5a1414" stroke-width="0.5"/>
<circle cx="423.2" cy="348.5" r="1.35" fill="#dd3a35" stroke="#5a1414" stroke-width="0.5"/>
<circle cx="419.2" cy="334.8" r="1.35" fill="#dd3a35" stroke="#5a1414" stroke-width="0.5"/>
<circle cx="417.8" cy="330.0" r="1.35" fill="#dd3a35" stroke="#5a1414" stroke-width="0.5"/>
<circle cx="418.9" cy="322.8" r="1.35" fill="#dd3a35" stroke="#5a1414" stroke-width="0.5"/>
<circle cx="419.6" cy="353.0" r="1.35" fill="#dd3a35" stroke="#5a1414" stroke-width="0.5"/>
<circle cx="423.6" cy="339.4" r="1.35" fill="#dd3a35" stroke="#5a1414" stroke-width="0.5"/>
<circle cx="418.9" cy="325.8" r="1.35" fill="#dd3a35" stroke="#5a1414" stroke-width="0.5"/>
<circle cx="421.7" cy="322.0" r="1.35" fill="#dd3a35" stroke="#5a1414" stroke-width="0.5"/>
<circle cx="421.8" cy="354.9" r="1.35" fill="#dd3a35" stroke="#5a1414" stroke-width="0.5"/>
<circle cx="424.1" cy="338.7" r="1.35" fill="#dd3a35" stroke="#5a1414" stroke-width="0.5"/>
<circle cx="417.8" cy="333.4" r="1.35" fill="#dd3a35" stroke="#5a1414" stroke-width="0.5"/>
<circle cx="422.7" cy="318.5" r="1.35" fill="#dd3a35" stroke="#5a1414" stroke-width="0.5"/>
<line x1="431.70" y1="271.06" x2="431.70" y2="286.35" stroke="#111" stroke-width="1.1"/>
<line x1="431.70" y1="316.93" x2="431.70" y2="331.28" stroke="#111" stroke-width="1.1"/>
<line x1="429.10" y1="271.06" x2="434.30" y2="271.06" stroke="#111" stroke-width="1.1"/>
<line x1="429.10" y1="331.28" x2="434.30" y2="331.28" stroke="#111" stroke-width="1.1"/>
<rect x="426.50" y="286.35" width="10.40" height="30.58" fill="#dcdcdc" stroke="#111" stroke-width="1.1"/>
<line x1="426.50" y1="287.60" x2="436.90" y2="287.60" stroke="#111" stroke-width="1.1"/>
<circle cx="430.8" cy="331.3" r="1.35" fill="#3f7fc8" stroke="#1c3a66" stroke-width="0.5"/>
<circle cx="432.7" cy="271.1" r="1.35" fill="#3f7fc8" stroke="#1c3a66" stroke-width="0.5"/>
<circle cx="433.4" cy="326.5" r="1.35" fill="#3f7fc8" stroke="#1c3a66" stroke-width="0.5"/>
<circle cx="429.9" cy="313.9" r="1.35" fill="#3f7fc8" stroke="#1c3a66" stroke-width="0.5"/>
<circle cx="431.0" cy="286.8" r="1.35" fill="#3f7fc8" stroke="#1c3a66" stroke-width="0.5"/>
<circle cx="430.4" cy="273.4" r="1.35" fill="#3f7fc8" stroke="#1c3a66" stroke-width="0.5"/>
<circle cx="428.7" cy="322.9" r="1.35" fill="#3f7fc8" stroke="#1c3a66" stroke-width="0.5"/>
<circle cx="428.4" cy="315.5" r="1.35" fill="#3f7fc8" stroke="#1c3a66" stroke-width="0.5"/>
<circle cx="433.3" cy="286.4" r="1.35" fill="#3f7fc8" stroke="#1c3a66" stroke-width="0.5"/>
<line x1="447.07" y1="303.51" x2="447.07" y2="328.47" stroke="#111" stroke-width="1.1"/>
<line x1="447.07" y1="345.94" x2="447.07" y2="358.74" stroke="#111" stroke-width="1.1"/>
<line x1="444.47" y1="303.51" x2="449.67" y2="303.51" stroke="#111" stroke-width="1.1"/>
<line x1="444.47" y1="358.74" x2="449.67" y2="358.74" stroke="#111" stroke-width="1.1"/>
<rect x="441.87" y="328.47" width="10.40" height="17.47" fill="#dcdcdc" stroke="#111" stroke-width="1.1"/>
<line x1="441.87" y1="338.77" x2="452.27" y2="338.77" stroke="#111" stroke-width="1.1"/>
<polygon points="447.1,278.4 449.0,281.0 447.1,283.6 445.2,281.0" fill="#555"/>
<polygon points="447.1,290.3 449.0,292.9 447.1,295.5 445.2,292.9" fill="#555"/>
<polygon points="447.1,295.9 449.0,298.5 447.1,301.1 445.2,298.5" fill="#555"/>
<circle cx="445.4" cy="358.7" r="1.35" fill="#dd3a35" stroke="#5a1414" stroke-width="0.5"/>
<circle cx="447.5" cy="303.5" r="1.35" fill="#dd3a35" stroke="#5a1414" stroke-width="0.5"/>
<circle cx="450.6" cy="353.5" r="1.35" fill="#dd3a35" stroke="#5a1414" stroke-width="0.5"/>
<circle cx="446.5" cy="339.7" r="1.35" fill="#dd3a35" stroke="#5a1414" stroke-width="0.5"/>
<circle cx="444.9" cy="338.1" r="1.35" fill="#dd3a35" stroke="#5a1414" stroke-width="0.5"/>
<circle cx="447.2" cy="320.9" r="1.35" fill="#dd3a35" stroke="#5a1414" stroke-width="0.5"/>
<circle cx="450.2" cy="356.4" r="1.35" fill="#dd3a35" stroke="#5a1414" stroke-width="0.5"/>
<circle cx="446.2" cy="339.2" r="1.35" fill="#dd3a35" stroke="#5a1414" stroke-width="0.5"/>
<circle cx="448.1" cy="330.6" r="1.35" fill="#dd3a35" stroke="#5a1414" stroke-width="0.5"/>
<circle cx="450.2" cy="306.1" r="1.35" fill="#dd3a35" stroke="#5a1414" stroke-width="0.5"/>
<circle cx="445.8" cy="352.3" r="1.35" fill="#dd3a35" stroke="#5a1414" stroke-width="0.5"/>
<circle cx="449.4" cy="345.2" r="1.35" fill="#dd3a35" stroke="#5a1414" stroke-width="0.5"/>
<circle cx="447.3" cy="334.5" r="1.35" fill="#dd3a35" stroke="#5a1414" stroke-width="0.5"/>
<circle cx="444.4" cy="322.8" r="1.35" fill="#dd3a35" stroke="#5a1414" stroke-width="0.5"/>
<circle cx="443.7" cy="358.4" r="1.35" fill="#dd3a35" stroke="#5a1414" stroke-width="0.5"/>
<circle cx="450.4" cy="341.9" r="1.35" fill="#dd3a35" stroke="#5a1414" stroke-width="0.5"/>
<circle cx="446.8" cy="335.8" r="1.35" fill="#dd3a35" stroke="#5a1414" stroke-width="0.5"/>
<circle cx="446.6" cy="325.8" r="1.35" fill="#dd3a35" stroke="#5a1414" stroke-width="0.5"/>
<circle cx="450.2" cy="352.2" r="1.35" fill="#dd3a35" stroke="#5a1414" stroke-width="0.5"/>
<circle cx="447.6" cy="339.2" r="1.35" fill="#dd3a35" stroke="#5a1414" stroke-width="0.5"/>
<circle cx="447.1" cy="329.0" r="1.35" fill="#dd3a35" stroke="#5a1414" stroke-width="0.5"/>
<circle cx="445.5" cy="316.8" r="1.35" fill="#dd3a35" stroke="#5a1414" stroke-width="0.5"/>
<circle cx="448.9" cy="357.4" r="1.35" fill="#dd3a35" stroke="#5a1414" stroke-width="0.5"/>
<circle cx="445.2" cy="340.4" r="1.35" fill="#dd3a35" stroke="#5a1414" stroke-width="0.5"/>
<circle cx="446.8" cy="337.6" r="1.35" fill="#dd3a35" stroke="#5a1414" stroke-width="0.5"/>
<circle cx="449.0" cy="315.1" r="1.35" fill="#dd3a35" stroke="#5a1414" stroke-width="0.5"/>
<circle cx="447.9" cy="357.7" r="1.35" fill="#dd3a35" stroke="#5a1414" stroke-width="0.5"/>
<circle cx="444.3" cy="338.9" r="1.35" fill="#dd3a35" stroke="#5a1414" stroke-width="0.5"/>
<circle cx="444.8" cy="333.2" r="1.35" fill="#dd3a35" stroke="#5a1414" stroke-width="0.5"/>
<circle cx="448.5" cy="317.6" r="1.35" fill="#dd3a35" stroke="#5a1414" stroke-width="0.5"/>
<circle cx="448.8" cy="281.0" r="1.35" fill="#dd3a35" stroke="#5a1414" stroke-width="0.5"/>
<circle cx="444.1" cy="292.9" r="1.35" fill="#dd3a35" stroke="#5a1414" stroke-width="0.5"/>
<circle cx="450.8" cy="298.5" r="1.35" fill="#dd3a35" stroke="#5a1414" stroke-width="0.5"/>
<line x1="458.07" y1="254.22" x2="458.07" y2="267.01" stroke="#111" stroke-width="1.1"/>
<line x1="458.07" y1="291.03" x2="458.07" y2="321.61" stroke="#111" stroke-width="1.1"/>
<line x1="455.47" y1="254.22" x2="460.67" y2="254.22" stroke="#111" stroke-width="1.1"/>
<line x1="455.47" y1="321.61" x2="460.67" y2="321.61" stroke="#111" stroke-width="1.1"/>
<rect x="452.87" y="267.01" width="10.40" height="24.02" fill="#dcdcdc" stroke="#111" stroke-width="1.1"/>
<line x1="452.87" y1="284.48" x2="463.27" y2="284.48" stroke="#111" stroke-width="1.1"/>
<circle cx="459.6" cy="321.6" r="1.35" fill="#3f7fc8" stroke="#1c3a66" stroke-width="0.5"/>
<circle cx="455.1" cy="254.2" r="1.35" fill="#3f7fc8" stroke="#1c3a66" stroke-width="0.5"/>
<circle cx="458.7" cy="317.5" r="1.35" fill="#3f7fc8" stroke="#1c3a66" stroke-width="0.5"/>
<circle cx="456.2" cy="289.9" r="1.35" fill="#3f7fc8" stroke="#1c3a66" stroke-width="0.5"/>
<circle cx="457.0" cy="282.9" r="1.35" fill="#3f7fc8" stroke="#1c3a66" stroke-width="0.5"/>
<circle cx="454.7" cy="261.3" r="1.35" fill="#3f7fc8" stroke="#1c3a66" stroke-width="0.5"/>
<circle cx="459.7" cy="302.7" r="1.35" fill="#3f7fc8" stroke="#1c3a66" stroke-width="0.5"/>
<circle cx="455.2" cy="285.4" r="1.35" fill="#3f7fc8" stroke="#1c3a66" stroke-width="0.5"/>
<circle cx="460.0" cy="281.6" r="1.35" fill="#3f7fc8" stroke="#1c3a66" stroke-width="0.5"/>
<line x1="473.44" y1="284.17" x2="473.44" y2="313.50" stroke="#111" stroke-width="1.1"/>
<line x1="473.44" y1="338.77" x2="473.44" y2="353.74" stroke="#111" stroke-width="1.1"/>
<line x1="470.84" y1="284.17" x2="476.04" y2="284.17" stroke="#111" stroke-width="1.1"/>
<line x1="470.84" y1="353.74" x2="476.04" y2="353.74" stroke="#111" stroke-width="1.1"/>
<rect x="468.24" y="313.50" width="10.40" height="25.27" fill="#dcdcdc" stroke="#111" stroke-width="1.1"/>
<line x1="468.24" y1="325.98" x2="478.64" y2="325.98" stroke="#111" stroke-width="1.1"/>
<polygon points="473.4,381.7 475.3,384.3 473.4,386.9 471.5,384.3" fill="#555"/>
<circle cx="474.6" cy="353.7" r="1.35" fill="#dd3a35" stroke="#5a1414" stroke-width="0.5"/>
<circle cx="472.6" cy="284.2" r="1.35" fill="#dd3a35" stroke="#5a1414" stroke-width="0.5"/>
<circle cx="474.5" cy="348.7" r="1.35" fill="#dd3a35" stroke="#5a1414" stroke-width="0.5"/>
<circle cx="471.4" cy="331.2" r="1.35" fill="#dd3a35" stroke="#5a1414" stroke-width="0.5"/>
<circle cx="471.7" cy="318.0" r="1.35" fill="#dd3a35" stroke="#5a1414" stroke-width="0.5"/>
<circle cx="469.8" cy="299.2" r="1.35" fill="#dd3a35" stroke="#5a1414" stroke-width="0.5"/>
<circle cx="474.6" cy="340.7" r="1.35" fill="#dd3a35" stroke="#5a1414" stroke-width="0.5"/>
<circle cx="474.1" cy="327.0" r="1.35" fill="#dd3a35" stroke="#5a1414" stroke-width="0.5"/>
<circle cx="475.3" cy="322.5" r="1.35" fill="#dd3a35" stroke="#5a1414" stroke-width="0.5"/>
<circle cx="473.5" cy="303.7" r="1.35" fill="#dd3a35" stroke="#5a1414" stroke-width="0.5"/>
<circle cx="473.0" cy="340.6" r="1.35" fill="#dd3a35" stroke="#5a1414" stroke-width="0.5"/>
<circle cx="472.0" cy="337.1" r="1.35" fill="#dd3a35" stroke="#5a1414" stroke-width="0.5"/>
<circle cx="475.2" cy="320.7" r="1.35" fill="#dd3a35" stroke="#5a1414" stroke-width="0.5"/>
<circle cx="472.5" cy="301.3" r="1.35" fill="#dd3a35" stroke="#5a1414" stroke-width="0.5"/>
<circle cx="474.2" cy="339.1" r="1.35" fill="#dd3a35" stroke="#5a1414" stroke-width="0.5"/>
<circle cx="475.4" cy="337.1" r="1.35" fill="#dd3a35" stroke="#5a1414" stroke-width="0.5"/>
<circle cx="473.0" cy="317.8" r="1.35" fill="#dd3a35" stroke="#5a1414" stroke-width="0.5"/>
<circle cx="474.8" cy="291.3" r="1.35" fill="#dd3a35" stroke="#5a1414" stroke-width="0.5"/>
<circle cx="470.2" cy="342.8" r="1.35" fill="#dd3a35" stroke="#5a1414" stroke-width="0.5"/>
<circle cx="471.6" cy="338.8" r="1.35" fill="#dd3a35" stroke="#5a1414" stroke-width="0.5"/>
<circle cx="476.0" cy="314.2" r="1.35" fill="#dd3a35" stroke="#5a1414" stroke-width="0.5"/>
<circle cx="470.8" cy="304.3" r="1.35" fill="#dd3a35" stroke="#5a1414" stroke-width="0.5"/>
<circle cx="470.1" cy="341.0" r="1.35" fill="#dd3a35" stroke="#5a1414" stroke-width="0.5"/>
<circle cx="469.8" cy="330.3" r="1.35" fill="#dd3a35" stroke="#5a1414" stroke-width="0.5"/>
<circle cx="475.4" cy="320.7" r="1.35" fill="#dd3a35" stroke="#5a1414" stroke-width="0.5"/>
<circle cx="470.5" cy="288.9" r="1.35" fill="#dd3a35" stroke="#5a1414" stroke-width="0.5"/>
<circle cx="473.1" cy="343.6" r="1.35" fill="#dd3a35" stroke="#5a1414" stroke-width="0.5"/>
<circle cx="473.0" cy="334.4" r="1.35" fill="#dd3a35" stroke="#5a1414" stroke-width="0.5"/>
<circle cx="475.7" cy="316.8" r="1.35" fill="#dd3a35" stroke="#5a1414" stroke-width="0.5"/>
<circle cx="473.3" cy="298.7" r="1.35" fill="#dd3a35" stroke="#5a1414" stroke-width="0.5"/>
<circle cx="473.6" cy="343.1" r="1.35" fill="#dd3a35" stroke="#5a1414" stroke-width="0.5"/>
<circle cx="469.9" cy="330.9" r="1.35" fill="#dd3a35" stroke="#5a1414" stroke-width="0.5"/>
<circle cx="475.7" cy="316.0" r="1.35" fill="#dd3a35" stroke="#5a1414" stroke-width="0.5"/>
<circle cx="475.4" cy="308.8" r="1.35" fill="#dd3a35" stroke="#5a1414" stroke-width="0.5"/>
<circle cx="474.4" cy="346.3" r="1.35" fill="#dd3a35" stroke="#5a1414" stroke-width="0.5"/>
<circle cx="475.9" cy="338.8" r="1.35" fill="#dd3a35" stroke="#5a1414" stroke-width="0.5"/>
<circle cx="474.3" cy="316.1" r="1.35" fill="#dd3a35" stroke="#5a1414" stroke-width="0.5"/>
<circle cx="475.1" cy="290.9" r="1.35" fill="#dd3a35" stroke="#5a1414" stroke-width="0.5"/>
<circle cx="476.1" cy="341.2" r="1.35" fill="#dd3a35" stroke="#5a1414" stroke-width="0.5"/>
<circle cx="474.3" cy="338.2" r="1.35" fill="#dd3a35" stroke="#5a1414" stroke-width="0.5"/>
<circle cx="469.8" cy="319.3" r="1.35" fill="#dd3a35" stroke="#5a1414" stroke-width="0.5"/>
<circle cx="476.3" cy="299.5" r="1.35" fill="#dd3a35" stroke="#5a1414" stroke-width="0.5"/>
<circle cx="477.1" cy="352.0" r="1.35" fill="#dd3a35" stroke="#5a1414" stroke-width="0.5"/>
<circle cx="471.2" cy="336.2" r="1.35" fill="#dd3a35" stroke="#5a1414" stroke-width="0.5"/>
<circle cx="470.2" cy="313.8" r="1.35" fill="#dd3a35" stroke="#5a1414" stroke-width="0.5"/>
<circle cx="472.2" cy="288.5" r="1.35" fill="#dd3a35" stroke="#5a1414" stroke-width="0.5"/>
<circle cx="470.4" cy="350.2" r="1.35" fill="#dd3a35" stroke="#5a1414" stroke-width="0.5"/>
<circle cx="472.5" cy="328.2" r="1.35" fill="#dd3a35" stroke="#5a1414" stroke-width="0.5"/>
<circle cx="470.4" cy="384.3" r="1.35" fill="#dd3a35" stroke="#5a1414" stroke-width="0.5"/>
<line x1="484.44" y1="250.47" x2="484.44" y2="260.77" stroke="#111" stroke-width="1.1"/>
<line x1="484.44" y1="272.94" x2="484.44" y2="278.86" stroke="#111" stroke-width="1.1"/>
<line x1="481.84" y1="250.47" x2="487.04" y2="250.47" stroke="#111" stroke-width="1.1"/>
<line x1="481.84" y1="278.86" x2="487.04" y2="278.86" stroke="#111" stroke-width="1.1"/>
<rect x="479.24" y="260.77" width="10.40" height="12.17" fill="#dcdcdc" stroke="#111" stroke-width="1.1"/>
<line x1="479.24" y1="267.32" x2="489.64" y2="267.32" stroke="#111" stroke-width="1.1"/>
<polygon points="484.4,240.7 486.3,243.3 484.4,245.9 482.5,243.3" fill="#555"/>
<polygon points="484.4,287.2 486.3,289.8 484.4,292.4 482.5,289.8" fill="#555"/>
<circle cx="487.4" cy="278.9" r="1.35" fill="#3f7fc8" stroke="#1c3a66" stroke-width="0.5"/>
<circle cx="485.9" cy="250.5" r="1.35" fill="#3f7fc8" stroke="#1c3a66" stroke-width="0.5"/>
<circle cx="482.3" cy="277.6" r="1.35" fill="#3f7fc8" stroke="#1c3a66" stroke-width="0.5"/>
<circle cx="483.7" cy="272.9" r="1.35" fill="#3f7fc8" stroke="#1c3a66" stroke-width="0.5"/>
<circle cx="484.1" cy="264.5" r="1.35" fill="#3f7fc8" stroke="#1c3a66" stroke-width="0.5"/>
<circle cx="483.8" cy="257.7" r="1.35" fill="#3f7fc8" stroke="#1c3a66" stroke-width="0.5"/>
<circle cx="480.9" cy="274.5" r="1.35" fill="#3f7fc8" stroke="#1c3a66" stroke-width="0.5"/>
<circle cx="484.1" cy="270.8" r="1.35" fill="#3f7fc8" stroke="#1c3a66" stroke-width="0.5"/>
<circle cx="486.4" cy="266.2" r="1.35" fill="#3f7fc8" stroke="#1c3a66" stroke-width="0.5"/>
<circle cx="485.9" cy="251.0" r="1.35" fill="#3f7fc8" stroke="#1c3a66" stroke-width="0.5"/>
<circle cx="487.1" cy="243.3" r="1.35" fill="#3f7fc8" stroke="#1c3a66" stroke-width="0.5"/>
<circle cx="485.8" cy="289.8" r="1.35" fill="#3f7fc8" stroke="#1c3a66" stroke-width="0.5"/>
<line x1="499.81" y1="278.86" x2="499.81" y2="316.93" stroke="#111" stroke-width="1.1"/>
<line x1="499.81" y1="345.94" x2="499.81" y2="389.00" stroke="#111" stroke-width="1.1"/>
<line x1="497.21" y1="278.86" x2="502.41" y2="278.86" stroke="#111" stroke-width="1.1"/>
<line x1="497.21" y1="389.00" x2="502.41" y2="389.00" stroke="#111" stroke-width="1.1"/>
<rect x="494.61" y="316.93" width="10.40" height="29.02" fill="#dcdcdc" stroke="#111" stroke-width="1.1"/>
<line x1="494.61" y1="331.90" x2="505.01" y2="331.90" stroke="#111" stroke-width="1.1"/>
<polygon points="499.8,258.8 501.7,261.4 499.8,264.0 497.9,261.4" fill="#555"/>
<polygon points="499.8,264.1 501.7,266.7 499.8,269.3 497.9,266.7" fill="#555"/>
<circle cx="496.7" cy="389.0" r="1.35" fill="#dd3a35" stroke="#5a1414" stroke-width="0.5"/>
<circle cx="497.2" cy="278.9" r="1.35" fill="#dd3a35" stroke="#5a1414" stroke-width="0.5"/>
<circle cx="496.1" cy="356.2" r="1.35" fill="#dd3a35" stroke="#5a1414" stroke-width="0.5"/>
<circle cx="496.5" cy="333.7" r="1.35" fill="#dd3a35" stroke="#5a1414" stroke-width="0.5"/>
<circle cx="500.6" cy="318.2" r="1.35" fill="#dd3a35" stroke="#5a1414" stroke-width="0.5"/>
<circle cx="501.7" cy="286.7" r="1.35" fill="#dd3a35" stroke="#5a1414" stroke-width="0.5"/>
<circle cx="499.6" cy="371.1" r="1.35" fill="#dd3a35" stroke="#5a1414" stroke-width="0.5"/>
<circle cx="502.1" cy="336.7" r="1.35" fill="#dd3a35" stroke="#5a1414" stroke-width="0.5"/>
<circle cx="499.4" cy="322.0" r="1.35" fill="#dd3a35" stroke="#5a1414" stroke-width="0.5"/>
<circle cx="502.9" cy="283.3" r="1.35" fill="#dd3a35" stroke="#5a1414" stroke-width="0.5"/>
<circle cx="500.6" cy="358.3" r="1.35" fill="#dd3a35" stroke="#5a1414" stroke-width="0.5"/>
<circle cx="500.1" cy="339.7" r="1.35" fill="#dd3a35" stroke="#5a1414" stroke-width="0.5"/>
<circle cx="497.3" cy="329.0" r="1.35" fill="#dd3a35" stroke="#5a1414" stroke-width="0.5"/>
<circle cx="499.3" cy="304.5" r="1.35" fill="#dd3a35" stroke="#5a1414" stroke-width="0.5"/>
<circle cx="499.4" cy="378.2" r="1.35" fill="#dd3a35" stroke="#5a1414" stroke-width="0.5"/>
<circle cx="502.2" cy="336.4" r="1.35" fill="#dd3a35" stroke="#5a1414" stroke-width="0.5"/>
<circle cx="497.8" cy="320.4" r="1.35" fill="#dd3a35" stroke="#5a1414" stroke-width="0.5"/>
<circle cx="498.3" cy="309.6" r="1.35" fill="#dd3a35" stroke="#5a1414" stroke-width="0.5"/>
<circle cx="502.2" cy="366.0" r="1.35" fill="#dd3a35" stroke="#5a1414" stroke-width="0.5"/>
<circle cx="496.6" cy="334.1" r="1.35" fill="#dd3a35" stroke="#5a1414" stroke-width="0.5"/>
<circle cx="500.1" cy="326.4" r="1.35" fill="#dd3a35" stroke="#5a1414" stroke-width="0.5"/>
<circle cx="497.7" cy="313.3" r="1.35" fill="#dd3a35" stroke="#5a1414" stroke-width="0.5"/>
<circle cx="501.1" cy="362.9" r="1.35" fill="#dd3a35" stroke="#5a1414" stroke-width="0.5"/>
<circle cx="500.5" cy="340.9" r="1.35" fill="#dd3a35" stroke="#5a1414" stroke-width="0.5"/>
<circle cx="496.8" cy="329.7" r="1.35" fill="#dd3a35" stroke="#5a1414" stroke-width="0.5"/>
<circle cx="501.5" cy="306.0" r="1.35" fill="#dd3a35" stroke="#5a1414" stroke-width="0.5"/>
<circle cx="499.1" cy="388.7" r="1.35" fill="#dd3a35" stroke="#5a1414" stroke-width="0.5"/>
<circle cx="498.5" cy="343.9" r="1.35" fill="#dd3a35" stroke="#5a1414" stroke-width="0.5"/>
<circle cx="502.5" cy="325.5" r="1.35" fill="#dd3a35" stroke="#5a1414" stroke-width="0.5"/>
<circle cx="501.9" cy="312.9" r="1.35" fill="#dd3a35" stroke="#5a1414" stroke-width="0.5"/>
<circle cx="498.4" cy="388.7" r="1.35" fill="#dd3a35" stroke="#5a1414" stroke-width="0.5"/>
<circle cx="501.1" cy="338.2" r="1.35" fill="#dd3a35" stroke="#5a1414" stroke-width="0.5"/>
<circle cx="497.0" cy="317.6" r="1.35" fill="#dd3a35" stroke="#5a1414" stroke-width="0.5"/>
<circle cx="500.0" cy="285.2" r="1.35" fill="#dd3a35" stroke="#5a1414" stroke-width="0.5"/>
<circle cx="496.7" cy="375.0" r="1.35" fill="#dd3a35" stroke="#5a1414" stroke-width="0.5"/>
<circle cx="500.9" cy="333.0" r="1.35" fill="#dd3a35" stroke="#5a1414" stroke-width="0.5"/>
<circle cx="502.9" cy="261.4" r="1.35" fill="#dd3a35" stroke="#5a1414" stroke-width="0.5"/>
<circle cx="500.8" cy="266.7" r="1.35" fill="#dd3a35" stroke="#5a1414" stroke-width="0.5"/>
<line x1="510.81" y1="228.32" x2="510.81" y2="245.79" stroke="#111" stroke-width="1.1"/>
<line x1="510.81" y1="262.64" x2="510.81" y2="281.98" stroke="#111" stroke-width="1.1"/>
<line x1="508.21" y1="228.32" x2="513.41" y2="228.32" stroke="#111" stroke-width="1.1"/>
<line x1="508.21" y1="281.98" x2="513.41" y2="281.98" stroke="#111" stroke-width="1.1"/>
<rect x="505.61" y="245.79" width="10.40" height="16.85" fill="#dcdcdc" stroke="#111" stroke-width="1.1"/>
<line x1="505.61" y1="254.84" x2="516.01" y2="254.84" stroke="#111" stroke-width="1.1"/>
<polygon points="510.8,289.7 512.7,292.3 510.8,294.9 508.9,292.3" fill="#555"/>
<circle cx="512.1" cy="282.0" r="1.35" fill="#3f7fc8" stroke="#1c3a66" stroke-width="0.5"/>
<circle cx="508.9" cy="228.3" r="1.35" fill="#3f7fc8" stroke="#1c3a66" stroke-width="0.5"/>
<circle cx="509.2" cy="281.2" r="1.35" fill="#3f7fc8" stroke="#1c3a66" stroke-width="0.5"/>
<circle cx="507.8" cy="258.6" r="1.35" fill="#3f7fc8" stroke="#1c3a66" stroke-width="0.5"/>
<circle cx="509.3" cy="250.6" r="1.35" fill="#3f7fc8" stroke="#1c3a66" stroke-width="0.5"/>
<circle cx="514.0" cy="238.1" r="1.35" fill="#3f7fc8" stroke="#1c3a66" stroke-width="0.5"/>
<circle cx="509.3" cy="279.1" r="1.35" fill="#3f7fc8" stroke="#1c3a66" stroke-width="0.5"/>
<circle cx="507.8" cy="260.5" r="1.35" fill="#3f7fc8" stroke="#1c3a66" stroke-width="0.5"/>
<circle cx="509.7" cy="250.8" r="1.35" fill="#3f7fc8" stroke="#1c3a66" stroke-width="0.5"/>
<circle cx="514.1" cy="244.5" r="1.35" fill="#3f7fc8" stroke="#1c3a66" stroke-width="0.5"/>
<circle cx="507.7" cy="292.3" r="1.35" fill="#3f7fc8" stroke="#1c3a66" stroke-width="0.5"/>
<rect x="43.80" y="220.50" width="474.70" height="176.00" fill="none" stroke="#000" stroke-width="1.2"/>
<line x1="39.80" y1="365.60" x2="43.80" y2="365.60" stroke="#000" stroke-width="1.1"/>
<text x="34.20" y="369.00" font-size="9.6" text-anchor="end">−1</text>
<line x1="39.80" y1="334.40" x2="43.80" y2="334.40" stroke="#000" stroke-width="1.1"/>
<text x="34.20" y="337.80" font-size="9.6" text-anchor="end">0</text>
<line x1="39.80" y1="303.20" x2="43.80" y2="303.20" stroke="#000" stroke-width="1.1"/>
<text x="34.20" y="306.60" font-size="9.6" text-anchor="end">1</text>
<line x1="39.80" y1="272.00" x2="43.80" y2="272.00" stroke="#000" stroke-width="1.1"/>
<text x="34.20" y="275.40" font-size="9.6" text-anchor="end">2</text>
<line x1="39.80" y1="240.80" x2="43.80" y2="240.80" stroke="#000" stroke-width="1.1"/>
<text x="34.20" y="244.20" font-size="9.6" text-anchor="end">3</text>
<line x1="56.99" y1="396.50" x2="56.99" y2="400.00" stroke="#000" stroke-width="1.1"/>
<line x1="83.36" y1="396.50" x2="83.36" y2="400.00" stroke="#000" stroke-width="1.1"/>
<line x1="109.73" y1="396.50" x2="109.73" y2="400.00" stroke="#000" stroke-width="1.1"/>
<line x1="136.10" y1="396.50" x2="136.10" y2="400.00" stroke="#000" stroke-width="1.1"/>
<line x1="162.47" y1="396.50" x2="162.47" y2="400.00" stroke="#000" stroke-width="1.1"/>
<line x1="188.85" y1="396.50" x2="188.85" y2="400.00" stroke="#000" stroke-width="1.1"/>
<line x1="215.22" y1="396.50" x2="215.22" y2="400.00" stroke="#000" stroke-width="1.1"/>
<line x1="241.59" y1="396.50" x2="241.59" y2="400.00" stroke="#000" stroke-width="1.1"/>
<line x1="267.96" y1="396.50" x2="267.96" y2="400.00" stroke="#000" stroke-width="1.1"/>
<line x1="294.34" y1="396.50" x2="294.34" y2="400.00" stroke="#000" stroke-width="1.1"/>
<line x1="320.71" y1="396.50" x2="320.71" y2="400.00" stroke="#000" stroke-width="1.1"/>
<line x1="347.08" y1="396.50" x2="347.08" y2="400.00" stroke="#000" stroke-width="1.1"/>
<line x1="373.45" y1="396.50" x2="373.45" y2="400.00" stroke="#000" stroke-width="1.1"/>
<line x1="399.82" y1="396.50" x2="399.82" y2="400.00" stroke="#000" stroke-width="1.1"/>
<line x1="426.20" y1="396.50" x2="426.20" y2="400.00" stroke="#000" stroke-width="1.1"/>
<line x1="452.57" y1="396.50" x2="452.57" y2="400.00" stroke="#000" stroke-width="1.1"/>
<line x1="478.94" y1="396.50" x2="478.94" y2="400.00" stroke="#000" stroke-width="1.1"/>
<line x1="505.31" y1="396.50" x2="505.31" y2="400.00" stroke="#000" stroke-width="1.1"/>
<text x="19.20" y="307.80" font-size="9.3" text-anchor="middle" transform="rotate(-90 19.20 307.80)">ΔYield (pmol)</text>
<line x1="543.70" y1="382.20" x2="632.80" y2="382.20" stroke="#111" stroke-width="0.9" stroke-dasharray="3 2"/>
<line x1="552.55" y1="330.57" x2="552.55" y2="357.32" stroke="#111" stroke-width="1.1"/>
<line x1="552.55" y1="376.29" x2="552.55" y2="388.11" stroke="#111" stroke-width="1.1"/>
<line x1="549.55" y1="330.57" x2="555.55" y2="330.57" stroke="#111" stroke-width="1.1"/>
<line x1="549.55" y1="388.11" x2="555.55" y2="388.11" stroke="#111" stroke-width="1.1"/>
<rect x="546.55" y="357.32" width="12.00" height="18.97" fill="#dcdcdc" stroke="#111" stroke-width="1.1"/>
<line x1="546.55" y1="369.45" x2="558.55" y2="369.45" stroke="#111" stroke-width="1.1"/>
<circle cx="549.7" cy="388.1" r="1.35" fill="#dd3a35" stroke="#5a1414" stroke-width="0.5"/>
<circle cx="552.1" cy="330.6" r="1.35" fill="#dd3a35" stroke="#5a1414" stroke-width="0.5"/>
<circle cx="554.6" cy="384.1" r="1.35" fill="#dd3a35" stroke="#5a1414" stroke-width="0.5"/>
<circle cx="548.6" cy="374.9" r="1.35" fill="#dd3a35" stroke="#5a1414" stroke-width="0.5"/>
<circle cx="549.2" cy="361.2" r="1.35" fill="#dd3a35" stroke="#5a1414" stroke-width="0.5"/>
<circle cx="554.8" cy="345.0" r="1.35" fill="#dd3a35" stroke="#5a1414" stroke-width="0.5"/>
<circle cx="556.1" cy="386.9" r="1.35" fill="#dd3a35" stroke="#5a1414" stroke-width="0.5"/>
<circle cx="548.8" cy="370.4" r="1.35" fill="#dd3a35" stroke="#5a1414" stroke-width="0.5"/>
<circle cx="548.9" cy="365.5" r="1.35" fill="#dd3a35" stroke="#5a1414" stroke-width="0.5"/>
<circle cx="553.6" cy="339.0" r="1.35" fill="#dd3a35" stroke="#5a1414" stroke-width="0.5"/>
<circle cx="550.7" cy="382.8" r="1.35" fill="#dd3a35" stroke="#5a1414" stroke-width="0.5"/>
<circle cx="553.9" cy="370.3" r="1.35" fill="#dd3a35" stroke="#5a1414" stroke-width="0.5"/>
<circle cx="548.5" cy="368.7" r="1.35" fill="#dd3a35" stroke="#5a1414" stroke-width="0.5"/>
<circle cx="552.2" cy="351.2" r="1.35" fill="#dd3a35" stroke="#5a1414" stroke-width="0.5"/>
<circle cx="549.6" cy="384.7" r="1.35" fill="#dd3a35" stroke="#5a1414" stroke-width="0.5"/>
<circle cx="551.1" cy="374.5" r="1.35" fill="#dd3a35" stroke="#5a1414" stroke-width="0.5"/>
<circle cx="554.2" cy="359.5" r="1.35" fill="#dd3a35" stroke="#5a1414" stroke-width="0.5"/>
<circle cx="552.6" cy="343.9" r="1.35" fill="#dd3a35" stroke="#5a1414" stroke-width="0.5"/>
<circle cx="555.6" cy="384.0" r="1.35" fill="#dd3a35" stroke="#5a1414" stroke-width="0.5"/>
<circle cx="555.5" cy="372.8" r="1.35" fill="#dd3a35" stroke="#5a1414" stroke-width="0.5"/>
<circle cx="553.6" cy="359.2" r="1.35" fill="#dd3a35" stroke="#5a1414" stroke-width="0.5"/>
<circle cx="555.6" cy="342.1" r="1.35" fill="#dd3a35" stroke="#5a1414" stroke-width="0.5"/>
<circle cx="549.8" cy="382.8" r="1.35" fill="#dd3a35" stroke="#5a1414" stroke-width="0.5"/>
<circle cx="552.3" cy="371.8" r="1.35" fill="#dd3a35" stroke="#5a1414" stroke-width="0.5"/>
<circle cx="551.0" cy="362.0" r="1.35" fill="#dd3a35" stroke="#5a1414" stroke-width="0.5"/>
<circle cx="553.6" cy="346.5" r="1.35" fill="#dd3a35" stroke="#5a1414" stroke-width="0.5"/>
<circle cx="549.2" cy="383.1" r="1.35" fill="#dd3a35" stroke="#5a1414" stroke-width="0.5"/>
<circle cx="555.9" cy="375.4" r="1.35" fill="#dd3a35" stroke="#5a1414" stroke-width="0.5"/>
<circle cx="551.4" cy="364.1" r="1.35" fill="#dd3a35" stroke="#5a1414" stroke-width="0.5"/>
<circle cx="555.0" cy="333.8" r="1.35" fill="#dd3a35" stroke="#5a1414" stroke-width="0.5"/>
<circle cx="556.4" cy="384.5" r="1.35" fill="#dd3a35" stroke="#5a1414" stroke-width="0.5"/>
<circle cx="556.4" cy="373.8" r="1.35" fill="#dd3a35" stroke="#5a1414" stroke-width="0.5"/>
<circle cx="551.6" cy="362.1" r="1.35" fill="#dd3a35" stroke="#5a1414" stroke-width="0.5"/>
<circle cx="555.6" cy="341.5" r="1.35" fill="#dd3a35" stroke="#5a1414" stroke-width="0.5"/>
<line x1="564.55" y1="281.44" x2="564.55" y2="311.91" stroke="#111" stroke-width="1.1"/>
<line x1="564.55" y1="335.55" x2="564.55" y2="359.81" stroke="#111" stroke-width="1.1"/>
<line x1="561.55" y1="281.44" x2="567.55" y2="281.44" stroke="#111" stroke-width="1.1"/>
<line x1="561.55" y1="359.81" x2="567.55" y2="359.81" stroke="#111" stroke-width="1.1"/>
<rect x="558.55" y="311.91" width="12.00" height="23.64" fill="#dcdcdc" stroke="#111" stroke-width="1.1"/>
<line x1="558.55" y1="323.11" x2="570.55" y2="323.11" stroke="#111" stroke-width="1.1"/>
<polygon points="564.6,244.6 566.5,247.2 564.6,249.8 562.7,247.2" fill="#555"/>
<circle cx="563.8" cy="359.8" r="1.35" fill="#3f7fc8" stroke="#1c3a66" stroke-width="0.5"/>
<circle cx="568.3" cy="281.4" r="1.35" fill="#3f7fc8" stroke="#1c3a66" stroke-width="0.5"/>
<circle cx="563.7" cy="335.6" r="1.35" fill="#3f7fc8" stroke="#1c3a66" stroke-width="0.5"/>
<circle cx="562.4" cy="333.9" r="1.35" fill="#3f7fc8" stroke="#1c3a66" stroke-width="0.5"/>
<circle cx="565.6" cy="314.7" r="1.35" fill="#3f7fc8" stroke="#1c3a66" stroke-width="0.5"/>
<circle cx="564.0" cy="289.7" r="1.35" fill="#3f7fc8" stroke="#1c3a66" stroke-width="0.5"/>
<circle cx="565.5" cy="348.7" r="1.35" fill="#3f7fc8" stroke="#1c3a66" stroke-width="0.5"/>
<circle cx="564.2" cy="332.1" r="1.35" fill="#3f7fc8" stroke="#1c3a66" stroke-width="0.5"/>
<circle cx="562.7" cy="321.2" r="1.35" fill="#3f7fc8" stroke="#1c3a66" stroke-width="0.5"/>
<circle cx="560.5" cy="247.2" r="1.35" fill="#3f7fc8" stroke="#1c3a66" stroke-width="0.5"/>
<line x1="582.25" y1="330.57" x2="582.25" y2="354.21" stroke="#111" stroke-width="1.1"/>
<line x1="582.25" y1="370.69" x2="582.25" y2="380.33" stroke="#111" stroke-width="1.1"/>
<line x1="579.25" y1="330.57" x2="585.25" y2="330.57" stroke="#111" stroke-width="1.1"/>
<line x1="579.25" y1="380.33" x2="585.25" y2="380.33" stroke="#111" stroke-width="1.1"/>
<rect x="576.25" y="354.21" width="12.00" height="16.48" fill="#dcdcdc" stroke="#111" stroke-width="1.1"/>
<line x1="576.25" y1="362.92" x2="588.25" y2="362.92" stroke="#111" stroke-width="1.1"/>
<polygon points="582.2,322.4 584.1,325.0 582.2,327.6 580.4,325.0" fill="#555"/>
<polygon points="582.2,314.3 584.1,316.9 582.2,319.5 580.4,316.9" fill="#555"/>
<circle cx="584.2" cy="380.3" r="1.35" fill="#dd3a35" stroke="#5a1414" stroke-width="0.5"/>
<circle cx="585.8" cy="330.6" r="1.35" fill="#dd3a35" stroke="#5a1414" stroke-width="0.5"/>
<circle cx="582.7" cy="372.4" r="1.35" fill="#dd3a35" stroke="#5a1414" stroke-width="0.5"/>
<circle cx="581.2" cy="365.6" r="1.35" fill="#dd3a35" stroke="#5a1414" stroke-width="0.5"/>
<circle cx="582.9" cy="360.8" r="1.35" fill="#dd3a35" stroke="#5a1414" stroke-width="0.5"/>
<circle cx="580.4" cy="342.4" r="1.35" fill="#dd3a35" stroke="#5a1414" stroke-width="0.5"/>
<circle cx="578.2" cy="374.7" r="1.35" fill="#dd3a35" stroke="#5a1414" stroke-width="0.5"/>
<circle cx="580.2" cy="366.8" r="1.35" fill="#dd3a35" stroke="#5a1414" stroke-width="0.5"/>
<circle cx="581.9" cy="355.1" r="1.35" fill="#dd3a35" stroke="#5a1414" stroke-width="0.5"/>
<circle cx="579.0" cy="335.8" r="1.35" fill="#dd3a35" stroke="#5a1414" stroke-width="0.5"/>
<circle cx="578.6" cy="377.4" r="1.35" fill="#dd3a35" stroke="#5a1414" stroke-width="0.5"/>
<circle cx="580.1" cy="368.1" r="1.35" fill="#dd3a35" stroke="#5a1414" stroke-width="0.5"/>
<circle cx="581.1" cy="357.6" r="1.35" fill="#dd3a35" stroke="#5a1414" stroke-width="0.5"/>
<circle cx="586.2" cy="350.4" r="1.35" fill="#dd3a35" stroke="#5a1414" stroke-width="0.5"/>
<circle cx="582.1" cy="371.3" r="1.35" fill="#dd3a35" stroke="#5a1414" stroke-width="0.5"/>
<circle cx="585.2" cy="370.3" r="1.35" fill="#dd3a35" stroke="#5a1414" stroke-width="0.5"/>
<circle cx="584.4" cy="358.6" r="1.35" fill="#dd3a35" stroke="#5a1414" stroke-width="0.5"/>
<circle cx="583.0" cy="347.7" r="1.35" fill="#dd3a35" stroke="#5a1414" stroke-width="0.5"/>
<circle cx="580.7" cy="375.3" r="1.35" fill="#dd3a35" stroke="#5a1414" stroke-width="0.5"/>
<circle cx="581.3" cy="370.3" r="1.35" fill="#dd3a35" stroke="#5a1414" stroke-width="0.5"/>
<circle cx="580.7" cy="361.0" r="1.35" fill="#dd3a35" stroke="#5a1414" stroke-width="0.5"/>
<circle cx="583.4" cy="330.8" r="1.35" fill="#dd3a35" stroke="#5a1414" stroke-width="0.5"/>
<circle cx="585.3" cy="372.7" r="1.35" fill="#dd3a35" stroke="#5a1414" stroke-width="0.5"/>
<circle cx="584.8" cy="369.0" r="1.35" fill="#dd3a35" stroke="#5a1414" stroke-width="0.5"/>
<circle cx="580.5" cy="358.9" r="1.35" fill="#dd3a35" stroke="#5a1414" stroke-width="0.5"/>
<circle cx="579.2" cy="353.4" r="1.35" fill="#dd3a35" stroke="#5a1414" stroke-width="0.5"/>
<circle cx="578.0" cy="379.2" r="1.35" fill="#dd3a35" stroke="#5a1414" stroke-width="0.5"/>
<circle cx="583.0" cy="369.2" r="1.35" fill="#dd3a35" stroke="#5a1414" stroke-width="0.5"/>
<circle cx="579.9" cy="354.3" r="1.35" fill="#dd3a35" stroke="#5a1414" stroke-width="0.5"/>
<circle cx="578.0" cy="346.8" r="1.35" fill="#dd3a35" stroke="#5a1414" stroke-width="0.5"/>
<circle cx="580.5" cy="377.9" r="1.35" fill="#dd3a35" stroke="#5a1414" stroke-width="0.5"/>
<circle cx="579.9" cy="370.2" r="1.35" fill="#dd3a35" stroke="#5a1414" stroke-width="0.5"/>
<circle cx="579.7" cy="362.0" r="1.35" fill="#dd3a35" stroke="#5a1414" stroke-width="0.5"/>
<circle cx="583.7" cy="330.7" r="1.35" fill="#dd3a35" stroke="#5a1414" stroke-width="0.5"/>
<circle cx="583.0" cy="373.2" r="1.35" fill="#dd3a35" stroke="#5a1414" stroke-width="0.5"/>
<circle cx="580.4" cy="363.5" r="1.35" fill="#dd3a35" stroke="#5a1414" stroke-width="0.5"/>
<circle cx="584.2" cy="355.6" r="1.35" fill="#dd3a35" stroke="#5a1414" stroke-width="0.5"/>
<circle cx="579.7" cy="335.7" r="1.35" fill="#dd3a35" stroke="#5a1414" stroke-width="0.5"/>
<circle cx="585.9" cy="377.9" r="1.35" fill="#dd3a35" stroke="#5a1414" stroke-width="0.5"/>
<circle cx="579.0" cy="369.4" r="1.35" fill="#dd3a35" stroke="#5a1414" stroke-width="0.5"/>
<circle cx="583.0" cy="360.6" r="1.35" fill="#dd3a35" stroke="#5a1414" stroke-width="0.5"/>
<circle cx="584.0" cy="352.7" r="1.35" fill="#dd3a35" stroke="#5a1414" stroke-width="0.5"/>
<circle cx="584.3" cy="378.6" r="1.35" fill="#dd3a35" stroke="#5a1414" stroke-width="0.5"/>
<circle cx="582.1" cy="365.1" r="1.35" fill="#dd3a35" stroke="#5a1414" stroke-width="0.5"/>
<circle cx="585.5" cy="358.6" r="1.35" fill="#dd3a35" stroke="#5a1414" stroke-width="0.5"/>
<circle cx="583.4" cy="354.0" r="1.35" fill="#dd3a35" stroke="#5a1414" stroke-width="0.5"/>
<circle cx="583.9" cy="377.4" r="1.35" fill="#dd3a35" stroke="#5a1414" stroke-width="0.5"/>
<circle cx="578.6" cy="364.1" r="1.35" fill="#dd3a35" stroke="#5a1414" stroke-width="0.5"/>
<circle cx="579.5" cy="355.5" r="1.35" fill="#dd3a35" stroke="#5a1414" stroke-width="0.5"/>
<circle cx="582.0" cy="337.0" r="1.35" fill="#dd3a35" stroke="#5a1414" stroke-width="0.5"/>
<circle cx="582.6" cy="325.0" r="1.35" fill="#dd3a35" stroke="#5a1414" stroke-width="0.5"/>
<circle cx="578.8" cy="316.9" r="1.35" fill="#dd3a35" stroke="#5a1414" stroke-width="0.5"/>
<line x1="594.25" y1="245.36" x2="594.25" y2="267.75" stroke="#111" stroke-width="1.1"/>
<line x1="594.25" y1="300.72" x2="594.25" y2="335.55" stroke="#111" stroke-width="1.1"/>
<line x1="591.25" y1="245.36" x2="597.25" y2="245.36" stroke="#111" stroke-width="1.1"/>
<line x1="591.25" y1="335.55" x2="597.25" y2="335.55" stroke="#111" stroke-width="1.1"/>
<rect x="588.25" y="267.75" width="12.00" height="32.97" fill="#dcdcdc" stroke="#111" stroke-width="1.1"/>
<line x1="588.25" y1="295.12" x2="600.25" y2="295.12" stroke="#111" stroke-width="1.1"/>
<polygon points="594.2,349.7 596.1,352.3 594.2,354.9 592.4,352.3" fill="#555"/>
<circle cx="594.8" cy="335.6" r="1.35" fill="#3f7fc8" stroke="#1c3a66" stroke-width="0.5"/>
<circle cx="591.6" cy="245.4" r="1.35" fill="#3f7fc8" stroke="#1c3a66" stroke-width="0.5"/>
<circle cx="590.8" cy="309.7" r="1.35" fill="#3f7fc8" stroke="#1c3a66" stroke-width="0.5"/>
<circle cx="598.0" cy="298.8" r="1.35" fill="#3f7fc8" stroke="#1c3a66" stroke-width="0.5"/>
<circle cx="590.1" cy="282.1" r="1.35" fill="#3f7fc8" stroke="#1c3a66" stroke-width="0.5"/>
<circle cx="594.2" cy="256.1" r="1.35" fill="#3f7fc8" stroke="#1c3a66" stroke-width="0.5"/>
<circle cx="592.5" cy="306.3" r="1.35" fill="#3f7fc8" stroke="#1c3a66" stroke-width="0.5"/>
<circle cx="590.2" cy="299.0" r="1.35" fill="#3f7fc8" stroke="#1c3a66" stroke-width="0.5"/>
<circle cx="592.3" cy="279.8" r="1.35" fill="#3f7fc8" stroke="#1c3a66" stroke-width="0.5"/>
<circle cx="591.3" cy="254.2" r="1.35" fill="#3f7fc8" stroke="#1c3a66" stroke-width="0.5"/>
<circle cx="593.4" cy="312.7" r="1.35" fill="#3f7fc8" stroke="#1c3a66" stroke-width="0.5"/>
<circle cx="597.8" cy="299.0" r="1.35" fill="#3f7fc8" stroke="#1c3a66" stroke-width="0.5"/>
<circle cx="590.6" cy="287.5" r="1.35" fill="#3f7fc8" stroke="#1c3a66" stroke-width="0.5"/>
<circle cx="593.0" cy="257.2" r="1.35" fill="#3f7fc8" stroke="#1c3a66" stroke-width="0.5"/>
<circle cx="595.9" cy="314.6" r="1.35" fill="#3f7fc8" stroke="#1c3a66" stroke-width="0.5"/>
<circle cx="595.3" cy="297.1" r="1.35" fill="#3f7fc8" stroke="#1c3a66" stroke-width="0.5"/>
<circle cx="590.1" cy="291.5" r="1.35" fill="#3f7fc8" stroke="#1c3a66" stroke-width="0.5"/>
<circle cx="591.9" cy="257.8" r="1.35" fill="#3f7fc8" stroke="#1c3a66" stroke-width="0.5"/>
<circle cx="592.4" cy="352.3" r="1.35" fill="#3f7fc8" stroke="#1c3a66" stroke-width="0.5"/>
<line x1="611.95" y1="262.15" x2="611.95" y2="306.32" stroke="#111" stroke-width="1.1"/>
<line x1="611.95" y1="353.59" x2="611.95" y2="380.96" stroke="#111" stroke-width="1.1"/>
<line x1="608.95" y1="262.15" x2="614.95" y2="262.15" stroke="#111" stroke-width="1.1"/>
<line x1="608.95" y1="380.96" x2="614.95" y2="380.96" stroke="#111" stroke-width="1.1"/>
<rect x="605.95" y="306.32" width="12.00" height="47.27" fill="#dcdcdc" stroke="#111" stroke-width="1.1"/>
<line x1="605.95" y1="331.82" x2="617.95" y2="331.82" stroke="#111" stroke-width="1.1"/>
<circle cx="615.9" cy="381.0" r="1.35" fill="#dd3a35" stroke="#5a1414" stroke-width="0.5"/>
<circle cx="614.6" cy="262.2" r="1.35" fill="#dd3a35" stroke="#5a1414" stroke-width="0.5"/>
<circle cx="614.8" cy="356.5" r="1.35" fill="#dd3a35" stroke="#5a1414" stroke-width="0.5"/>
<circle cx="608.2" cy="344.0" r="1.35" fill="#dd3a35" stroke="#5a1414" stroke-width="0.5"/>
<circle cx="611.3" cy="325.2" r="1.35" fill="#dd3a35" stroke="#5a1414" stroke-width="0.5"/>
<circle cx="615.5" cy="285.1" r="1.35" fill="#dd3a35" stroke="#5a1414" stroke-width="0.5"/>
<circle cx="615.8" cy="367.7" r="1.35" fill="#dd3a35" stroke="#5a1414" stroke-width="0.5"/>
<circle cx="614.2" cy="350.3" r="1.35" fill="#dd3a35" stroke="#5a1414" stroke-width="0.5"/>
<circle cx="610.5" cy="314.8" r="1.35" fill="#dd3a35" stroke="#5a1414" stroke-width="0.5"/>
<circle cx="614.3" cy="274.5" r="1.35" fill="#dd3a35" stroke="#5a1414" stroke-width="0.5"/>
<circle cx="612.2" cy="367.9" r="1.35" fill="#dd3a35" stroke="#5a1414" stroke-width="0.5"/>
<circle cx="613.4" cy="341.9" r="1.35" fill="#dd3a35" stroke="#5a1414" stroke-width="0.5"/>
<circle cx="613.1" cy="312.2" r="1.35" fill="#dd3a35" stroke="#5a1414" stroke-width="0.5"/>
<circle cx="615.1" cy="264.1" r="1.35" fill="#dd3a35" stroke="#5a1414" stroke-width="0.5"/>
<circle cx="613.8" cy="364.2" r="1.35" fill="#dd3a35" stroke="#5a1414" stroke-width="0.5"/>
<circle cx="616.0" cy="352.6" r="1.35" fill="#dd3a35" stroke="#5a1414" stroke-width="0.5"/>
<circle cx="611.9" cy="318.9" r="1.35" fill="#dd3a35" stroke="#5a1414" stroke-width="0.5"/>
<circle cx="611.9" cy="277.1" r="1.35" fill="#dd3a35" stroke="#5a1414" stroke-width="0.5"/>
<circle cx="613.3" cy="371.9" r="1.35" fill="#dd3a35" stroke="#5a1414" stroke-width="0.5"/>
<circle cx="612.5" cy="338.7" r="1.35" fill="#dd3a35" stroke="#5a1414" stroke-width="0.5"/>
<circle cx="608.1" cy="322.4" r="1.35" fill="#dd3a35" stroke="#5a1414" stroke-width="0.5"/>
<circle cx="615.9" cy="279.1" r="1.35" fill="#dd3a35" stroke="#5a1414" stroke-width="0.5"/>
<circle cx="610.4" cy="364.1" r="1.35" fill="#dd3a35" stroke="#5a1414" stroke-width="0.5"/>
<circle cx="611.9" cy="339.0" r="1.35" fill="#dd3a35" stroke="#5a1414" stroke-width="0.5"/>
<circle cx="608.0" cy="308.2" r="1.35" fill="#dd3a35" stroke="#5a1414" stroke-width="0.5"/>
<circle cx="609.3" cy="275.1" r="1.35" fill="#dd3a35" stroke="#5a1414" stroke-width="0.5"/>
<circle cx="615.7" cy="361.5" r="1.35" fill="#dd3a35" stroke="#5a1414" stroke-width="0.5"/>
<circle cx="610.0" cy="338.3" r="1.35" fill="#dd3a35" stroke="#5a1414" stroke-width="0.5"/>
<circle cx="610.2" cy="325.9" r="1.35" fill="#dd3a35" stroke="#5a1414" stroke-width="0.5"/>
<circle cx="614.6" cy="279.2" r="1.35" fill="#dd3a35" stroke="#5a1414" stroke-width="0.5"/>
<circle cx="609.7" cy="364.0" r="1.35" fill="#dd3a35" stroke="#5a1414" stroke-width="0.5"/>
<circle cx="613.4" cy="352.3" r="1.35" fill="#dd3a35" stroke="#5a1414" stroke-width="0.5"/>
<circle cx="612.5" cy="312.6" r="1.35" fill="#dd3a35" stroke="#5a1414" stroke-width="0.5"/>
<circle cx="615.4" cy="296.3" r="1.35" fill="#dd3a35" stroke="#5a1414" stroke-width="0.5"/>
<circle cx="611.7" cy="367.5" r="1.35" fill="#dd3a35" stroke="#5a1414" stroke-width="0.5"/>
<circle cx="610.5" cy="342.2" r="1.35" fill="#dd3a35" stroke="#5a1414" stroke-width="0.5"/>
<circle cx="609.9" cy="313.4" r="1.35" fill="#dd3a35" stroke="#5a1414" stroke-width="0.5"/>
<circle cx="610.8" cy="272.5" r="1.35" fill="#dd3a35" stroke="#5a1414" stroke-width="0.5"/>
<circle cx="607.6" cy="368.1" r="1.35" fill="#dd3a35" stroke="#5a1414" stroke-width="0.5"/>
<circle cx="608.7" cy="333.1" r="1.35" fill="#dd3a35" stroke="#5a1414" stroke-width="0.5"/>
<circle cx="608.9" cy="320.5" r="1.35" fill="#dd3a35" stroke="#5a1414" stroke-width="0.5"/>
<circle cx="610.3" cy="281.3" r="1.35" fill="#dd3a35" stroke="#5a1414" stroke-width="0.5"/>
<circle cx="614.3" cy="353.8" r="1.35" fill="#dd3a35" stroke="#5a1414" stroke-width="0.5"/>
<circle cx="615.8" cy="346.5" r="1.35" fill="#dd3a35" stroke="#5a1414" stroke-width="0.5"/>
<circle cx="610.7" cy="313.6" r="1.35" fill="#dd3a35" stroke="#5a1414" stroke-width="0.5"/>
<circle cx="609.8" cy="264.1" r="1.35" fill="#dd3a35" stroke="#5a1414" stroke-width="0.5"/>
<circle cx="610.2" cy="378.6" r="1.35" fill="#dd3a35" stroke="#5a1414" stroke-width="0.5"/>
<circle cx="613.1" cy="336.7" r="1.35" fill="#dd3a35" stroke="#5a1414" stroke-width="0.5"/>
<circle cx="611.8" cy="315.2" r="1.35" fill="#dd3a35" stroke="#5a1414" stroke-width="0.5"/>
<circle cx="608.6" cy="282.5" r="1.35" fill="#dd3a35" stroke="#5a1414" stroke-width="0.5"/>
<circle cx="612.2" cy="359.3" r="1.35" fill="#dd3a35" stroke="#5a1414" stroke-width="0.5"/>
<circle cx="610.0" cy="334.9" r="1.35" fill="#dd3a35" stroke="#5a1414" stroke-width="0.5"/>
<circle cx="608.9" cy="328.1" r="1.35" fill="#dd3a35" stroke="#5a1414" stroke-width="0.5"/>
<circle cx="614.4" cy="284.8" r="1.35" fill="#dd3a35" stroke="#5a1414" stroke-width="0.5"/>
<circle cx="608.5" cy="364.1" r="1.35" fill="#dd3a35" stroke="#5a1414" stroke-width="0.5"/>
<circle cx="611.4" cy="338.4" r="1.35" fill="#dd3a35" stroke="#5a1414" stroke-width="0.5"/>
<line x1="623.95" y1="226.70" x2="623.95" y2="263.40" stroke="#111" stroke-width="1.1"/>
<line x1="623.95" y1="331.20" x2="623.95" y2="351.10" stroke="#111" stroke-width="1.1"/>
<line x1="620.95" y1="226.70" x2="626.95" y2="226.70" stroke="#111" stroke-width="1.1"/>
<line x1="620.95" y1="351.10" x2="626.95" y2="351.10" stroke="#111" stroke-width="1.1"/>
<rect x="617.95" y="263.40" width="12.00" height="67.80" fill="#dcdcdc" stroke="#111" stroke-width="1.1"/>
<line x1="617.95" y1="287.03" x2="629.95" y2="287.03" stroke="#111" stroke-width="1.1"/>
<circle cx="623.7" cy="351.1" r="1.35" fill="#3f7fc8" stroke="#1c3a66" stroke-width="0.5"/>
<circle cx="627.5" cy="226.7" r="1.35" fill="#3f7fc8" stroke="#1c3a66" stroke-width="0.5"/>
<circle cx="627.5" cy="335.9" r="1.35" fill="#3f7fc8" stroke="#1c3a66" stroke-width="0.5"/>
<circle cx="620.9" cy="307.2" r="1.35" fill="#3f7fc8" stroke="#1c3a66" stroke-width="0.5"/>
<circle cx="628.2" cy="266.4" r="1.35" fill="#3f7fc8" stroke="#1c3a66" stroke-width="0.5"/>
<circle cx="624.4" cy="251.8" r="1.35" fill="#3f7fc8" stroke="#1c3a66" stroke-width="0.5"/>
<circle cx="622.3" cy="332.3" r="1.35" fill="#3f7fc8" stroke="#1c3a66" stroke-width="0.5"/>
<circle cx="620.3" cy="329.3" r="1.35" fill="#3f7fc8" stroke="#1c3a66" stroke-width="0.5"/>
<circle cx="623.3" cy="265.9" r="1.35" fill="#3f7fc8" stroke="#1c3a66" stroke-width="0.5"/>
<circle cx="624.1" cy="247.8" r="1.35" fill="#3f7fc8" stroke="#1c3a66" stroke-width="0.5"/>
<circle cx="623.5" cy="351.0" r="1.35" fill="#3f7fc8" stroke="#1c3a66" stroke-width="0.5"/>
<circle cx="622.3" cy="319.7" r="1.35" fill="#3f7fc8" stroke="#1c3a66" stroke-width="0.5"/>
<circle cx="627.8" cy="263.7" r="1.35" fill="#3f7fc8" stroke="#1c3a66" stroke-width="0.5"/>
<circle cx="623.7" cy="237.1" r="1.35" fill="#3f7fc8" stroke="#1c3a66" stroke-width="0.5"/>
<circle cx="622.3" cy="336.4" r="1.35" fill="#3f7fc8" stroke="#1c3a66" stroke-width="0.5"/>
<circle cx="626.3" cy="295.4" r="1.35" fill="#3f7fc8" stroke="#1c3a66" stroke-width="0.5"/>
<circle cx="621.7" cy="286.9" r="1.35" fill="#3f7fc8" stroke="#1c3a66" stroke-width="0.5"/>
<circle cx="623.3" cy="252.1" r="1.35" fill="#3f7fc8" stroke="#1c3a66" stroke-width="0.5"/>
<rect x="543.70" y="219.40" width="89.10" height="176.90" fill="none" stroke="#000" stroke-width="1.2"/>
<line x1="539.70" y1="382.20" x2="543.70" y2="382.20" stroke="#000" stroke-width="1.1"/>
<text x="534.20" y="385.60" font-size="9.6" text-anchor="end">0</text>
<line x1="539.70" y1="351.10" x2="543.70" y2="351.10" stroke="#000" stroke-width="1.1"/>
<text x="534.20" y="354.50" font-size="9.6" text-anchor="end">5</text>
<line x1="539.70" y1="320.00" x2="543.70" y2="320.00" stroke="#000" stroke-width="1.1"/>
<text x="534.20" y="323.40" font-size="9.6" text-anchor="end">10</text>
<line x1="539.70" y1="288.90" x2="543.70" y2="288.90" stroke="#000" stroke-width="1.1"/>
<text x="534.20" y="292.30" font-size="9.6" text-anchor="end">15</text>
<line x1="539.70" y1="257.80" x2="543.70" y2="257.80" stroke="#000" stroke-width="1.1"/>
<text x="534.20" y="261.20" font-size="9.6" text-anchor="end">20</text>
<line x1="539.70" y1="226.70" x2="543.70" y2="226.70" stroke="#000" stroke-width="1.1"/>
<text x="534.20" y="230.10" font-size="9.6" text-anchor="end">25</text>
<line x1="558.55" y1="396.30" x2="558.55" y2="399.80" stroke="#000" stroke-width="1.1"/>
<line x1="588.25" y1="396.30" x2="588.25" y2="399.80" stroke="#000" stroke-width="1.1"/>
<line x1="617.95" y1="396.30" x2="617.95" y2="399.80" stroke="#000" stroke-width="1.1"/>
<rect x="43.80" y="400.20" width="26.37" height="15.90" fill="#231f20"/>
<rect x="43.80" y="422.20" width="26.37" height="16.62" fill="#dcd0c8"/>
<rect x="43.80" y="438.82" width="26.37" height="16.62" fill="#aec4e0"/>
<rect x="43.80" y="455.45" width="26.37" height="16.62" fill="#c9d3de"/>
<rect x="43.80" y="472.07" width="26.37" height="16.62" fill="#93b2dc"/>
<rect x="70.17" y="400.20" width="26.37" height="15.90" fill="#231f20"/>
<rect x="70.17" y="422.20" width="26.37" height="16.62" fill="#82a3d2"/>
<rect x="70.17" y="438.82" width="26.37" height="16.62" fill="#aec4e0"/>
<rect x="70.17" y="455.45" width="26.37" height="16.62" fill="#b5c8e2"/>
<rect x="70.17" y="472.07" width="26.37" height="16.62" fill="#d9d7d5"/>
<rect x="96.54" y="400.20" width="26.37" height="15.90" fill="#cdd3da"/>
<rect x="96.54" y="422.20" width="26.37" height="16.62" fill="#cbd3de"/>
<rect x="96.54" y="438.82" width="26.37" height="16.62" fill="#aec4e0"/>
<rect x="96.54" y="455.45" width="26.37" height="16.62" fill="#c2cfe0"/>
<rect x="96.54" y="472.07" width="26.37" height="16.62" fill="#93b2dc"/>
<rect x="122.92" y="400.20" width="26.37" height="15.90" fill="#cdd3da"/>
<rect x="122.92" y="422.20" width="26.37" height="16.62" fill="#efb297"/>
<rect x="122.92" y="438.82" width="26.37" height="16.62" fill="#aec4e0"/>
<rect x="122.92" y="455.45" width="26.37" height="16.62" fill="#96b3da"/>
<rect x="122.92" y="472.07" width="26.37" height="16.62" fill="#4a64ad"/>
<rect x="149.29" y="400.20" width="26.37" height="15.90" fill="#cdd3da"/>
<rect x="149.29" y="422.20" width="26.37" height="16.62" fill="#efb297"/>
<rect x="149.29" y="438.82" width="26.37" height="16.62" fill="#b0c6e2"/>
<rect x="149.29" y="455.45" width="26.37" height="16.62" fill="#b5cbe4"/>
<rect x="149.29" y="472.07" width="26.37" height="16.62" fill="#3e57a6"/>
<rect x="175.66" y="400.20" width="26.37" height="15.90" fill="#cdd3da"/>
<rect x="175.66" y="422.20" width="26.37" height="16.62" fill="#d04040"/>
<rect x="175.66" y="438.82" width="26.37" height="16.62" fill="#8eacd6"/>
<rect x="175.66" y="455.45" width="26.37" height="16.62" fill="#6e8cc4"/>
<rect x="175.66" y="472.07" width="26.37" height="16.62" fill="#6a82bf"/>
<rect x="202.03" y="400.20" width="26.37" height="15.90" fill="#cdd3da"/>
<rect x="202.03" y="422.20" width="26.37" height="16.62" fill="#b0c6e2"/>
<rect x="202.03" y="438.82" width="26.37" height="16.62" fill="#adc2e0"/>
<rect x="202.03" y="455.45" width="26.37" height="16.62" fill="#9fbade"/>
<rect x="202.03" y="472.07" width="26.37" height="16.62" fill="#e2cdc2"/>
<rect x="228.41" y="400.20" width="26.37" height="15.90" fill="#231f20"/>
<rect x="228.41" y="422.20" width="26.37" height="16.62" fill="#3e57a6"/>
<rect x="228.41" y="438.82" width="26.37" height="16.62" fill="#4560ab"/>
<rect x="228.41" y="455.45" width="26.37" height="16.62" fill="#3e57a6"/>
<rect x="228.41" y="472.07" width="26.37" height="16.62" fill="#3e57a6"/>
<rect x="254.78" y="400.20" width="26.37" height="15.90" fill="#06a66e"/>
<rect x="254.78" y="422.20" width="26.37" height="16.62" fill="#adc4e2"/>
<rect x="254.78" y="438.82" width="26.37" height="16.62" fill="#9bb8dc"/>
<rect x="254.78" y="455.45" width="26.37" height="16.62" fill="#d8d6d4"/>
<rect x="254.78" y="472.07" width="26.37" height="16.62" fill="#d8d5d2"/>
<rect x="281.15" y="400.20" width="26.37" height="15.90" fill="#cdd3da"/>
<rect x="281.15" y="422.20" width="26.37" height="16.62" fill="#b8cae4"/>
<rect x="281.15" y="438.82" width="26.37" height="16.62" fill="#9cb8dc"/>
<rect x="281.15" y="455.45" width="26.37" height="16.62" fill="#93b2da"/>
<rect x="281.15" y="472.07" width="26.37" height="16.62" fill="#d4d4d4"/>
<rect x="307.52" y="400.20" width="26.37" height="15.90" fill="#06a66e"/>
<rect x="307.52" y="422.20" width="26.37" height="16.62" fill="#3e57a6"/>
<rect x="307.52" y="438.82" width="26.37" height="16.62" fill="#7d9dd0"/>
<rect x="307.52" y="455.45" width="26.37" height="16.62" fill="#7390c8"/>
<rect x="307.52" y="472.07" width="26.37" height="16.62" fill="#ecb9a0"/>
<rect x="333.89" y="400.20" width="26.37" height="15.90" fill="#cdd3da"/>
<rect x="333.89" y="422.20" width="26.37" height="16.62" fill="#3e57a6"/>
<rect x="333.89" y="438.82" width="26.37" height="16.62" fill="#7390c8"/>
<rect x="333.89" y="455.45" width="26.37" height="16.62" fill="#7d9bce"/>
<rect x="333.89" y="472.07" width="26.37" height="16.62" fill="#6a86c2"/>
<rect x="360.27" y="400.20" width="26.37" height="15.90" fill="#231f20"/>
<rect x="360.27" y="422.20" width="26.37" height="16.62" fill="#5a73b5"/>
<rect x="360.27" y="438.82" width="26.37" height="16.62" fill="#4a66ae"/>
<rect x="360.27" y="455.45" width="26.37" height="16.62" fill="#4b66ae"/>
<rect x="360.27" y="472.07" width="26.37" height="16.62" fill="#8eacd8"/>
<rect x="386.64" y="400.20" width="26.37" height="15.90" fill="#231f20"/>
<rect x="386.64" y="422.20" width="26.37" height="16.62" fill="#3e57a6"/>
<rect x="386.64" y="438.82" width="26.37" height="16.62" fill="#3e57a6"/>
<rect x="386.64" y="455.45" width="26.37" height="16.62" fill="#3e57a6"/>
<rect x="386.64" y="472.07" width="26.37" height="16.62" fill="#3e57a6"/>
<rect x="413.01" y="400.20" width="26.37" height="15.90" fill="#06a66e"/>
<rect x="413.01" y="422.20" width="26.37" height="16.62" fill="#3e57a6"/>
<rect x="413.01" y="438.82" width="26.37" height="16.62" fill="#3e57a6"/>
<rect x="413.01" y="455.45" width="26.37" height="16.62" fill="#3e57a6"/>
<rect x="413.01" y="472.07" width="26.37" height="16.62" fill="#5470b5"/>
<rect x="439.38" y="400.20" width="26.37" height="15.90" fill="#231f20"/>
<rect x="439.38" y="422.20" width="26.37" height="16.62" fill="#5a73b5"/>
<rect x="439.38" y="438.82" width="26.37" height="16.62" fill="#3e57a6"/>
<rect x="439.38" y="455.45" width="26.37" height="16.62" fill="#3e57a6"/>
<rect x="439.38" y="472.07" width="26.37" height="16.62" fill="#3e57a6"/>
<rect x="465.76" y="400.20" width="26.37" height="15.90" fill="#cdd3da"/>
<rect x="465.76" y="422.20" width="26.37" height="16.62" fill="#3e57a6"/>
<rect x="465.76" y="438.82" width="26.37" height="16.62" fill="#3e57a6"/>
<rect x="465.76" y="455.45" width="26.37" height="16.62" fill="#3e57a6"/>
<rect x="465.76" y="472.07" width="26.37" height="16.62" fill="#3e57a6"/>
<rect x="492.13" y="400.20" width="26.37" height="15.90" fill="#06a66e"/>
<rect x="492.13" y="422.20" width="26.37" height="16.62" fill="#3e57a6"/>
<rect x="492.13" y="438.82" width="26.37" height="16.62" fill="#3e57a6"/>
<rect x="492.13" y="455.45" width="26.37" height="16.62" fill="#3e57a6"/>
<rect x="492.13" y="472.07" width="26.37" height="16.62" fill="#3e57a6"/>
<line x1="70.17" y1="400.20" x2="70.17" y2="416.10" stroke="#fff" stroke-width="1.0"/>
<line x1="70.17" y1="422.20" x2="70.17" y2="488.70" stroke="#fff" stroke-width="1.0"/>
<line x1="96.54" y1="400.20" x2="96.54" y2="416.10" stroke="#fff" stroke-width="1.0"/>
<line x1="96.54" y1="422.20" x2="96.54" y2="488.70" stroke="#fff" stroke-width="1.0"/>
<line x1="122.92" y1="400.20" x2="122.92" y2="416.10" stroke="#fff" stroke-width="1.0"/>
<line x1="122.92" y1="422.20" x2="122.92" y2="488.70" stroke="#fff" stroke-width="1.0"/>
<line x1="149.29" y1="400.20" x2="149.29" y2="416.10" stroke="#fff" stroke-width="1.0"/>
<line x1="149.29" y1="422.20" x2="149.29" y2="488.70" stroke="#fff" stroke-width="1.0"/>
<line x1="175.66" y1="400.20" x2="175.66" y2="416.10" stroke="#fff" stroke-width="1.0"/>
<line x1="175.66" y1="422.20" x2="175.66" y2="488.70" stroke="#fff" stroke-width="1.0"/>
<line x1="202.03" y1="400.20" x2="202.03" y2="416.10" stroke="#fff" stroke-width="1.0"/>
<line x1="202.03" y1="422.20" x2="202.03" y2="488.70" stroke="#fff" stroke-width="1.0"/>
<line x1="228.41" y1="400.20" x2="228.41" y2="416.10" stroke="#fff" stroke-width="1.0"/>
<line x1="228.41" y1="422.20" x2="228.41" y2="488.70" stroke="#fff" stroke-width="1.0"/>
<line x1="254.78" y1="400.20" x2="254.78" y2="416.10" stroke="#fff" stroke-width="1.0"/>
<line x1="254.78" y1="422.20" x2="254.78" y2="488.70" stroke="#fff" stroke-width="1.0"/>
<line x1="281.15" y1="400.20" x2="281.15" y2="416.10" stroke="#fff" stroke-width="1.0"/>
<line x1="281.15" y1="422.20" x2="281.15" y2="488.70" stroke="#fff" stroke-width="1.0"/>
<line x1="307.52" y1="400.20" x2="307.52" y2="416.10" stroke="#fff" stroke-width="1.0"/>
<line x1="307.52" y1="422.20" x2="307.52" y2="488.70" stroke="#fff" stroke-width="1.0"/>
<line x1="333.89" y1="400.20" x2="333.89" y2="416.10" stroke="#fff" stroke-width="1.0"/>
<line x1="333.89" y1="422.20" x2="333.89" y2="488.70" stroke="#fff" stroke-width="1.0"/>
<line x1="360.27" y1="400.20" x2="360.27" y2="416.10" stroke="#fff" stroke-width="1.0"/>
<line x1="360.27" y1="422.20" x2="360.27" y2="488.70" stroke="#fff" stroke-width="1.0"/>
<line x1="386.64" y1="400.20" x2="386.64" y2="416.10" stroke="#fff" stroke-width="1.0"/>
<line x1="386.64" y1="422.20" x2="386.64" y2="488.70" stroke="#fff" stroke-width="1.0"/>
<line x1="413.01" y1="400.20" x2="413.01" y2="416.10" stroke="#fff" stroke-width="1.0"/>
<line x1="413.01" y1="422.20" x2="413.01" y2="488.70" stroke="#fff" stroke-width="1.0"/>
<line x1="439.38" y1="400.20" x2="439.38" y2="416.10" stroke="#fff" stroke-width="1.0"/>
<line x1="439.38" y1="422.20" x2="439.38" y2="488.70" stroke="#fff" stroke-width="1.0"/>
<line x1="465.76" y1="400.20" x2="465.76" y2="416.10" stroke="#fff" stroke-width="1.0"/>
<line x1="465.76" y1="422.20" x2="465.76" y2="488.70" stroke="#fff" stroke-width="1.0"/>
<line x1="492.13" y1="400.20" x2="492.13" y2="416.10" stroke="#fff" stroke-width="1.0"/>
<line x1="492.13" y1="422.20" x2="492.13" y2="488.70" stroke="#fff" stroke-width="1.0"/>
<line x1="43.80" y1="438.82" x2="518.50" y2="438.82" stroke="#fff" stroke-width="1.0"/>
<line x1="43.80" y1="455.45" x2="518.50" y2="455.45" stroke="#fff" stroke-width="1.0"/>
<line x1="43.80" y1="472.07" x2="518.50" y2="472.07" stroke="#fff" stroke-width="1.0"/>
<rect x="543.70" y="400.20" width="29.70" height="15.90" fill="#06a66e"/>
<rect x="543.70" y="422.20" width="29.70" height="16.62" fill="#3e57a6"/>
<rect x="543.70" y="438.82" width="29.70" height="16.62" fill="#3e57a6"/>
<rect x="543.70" y="455.45" width="29.70" height="16.62" fill="#3e57a6"/>
<rect x="543.70" y="472.07" width="29.70" height="16.62" fill="#3e57a6"/>
<rect x="573.40" y="400.20" width="29.70" height="15.90" fill="#06a66e"/>
<rect x="573.40" y="422.20" width="29.70" height="16.62" fill="#3e57a6"/>
<rect x="573.40" y="438.82" width="29.70" height="16.62" fill="#3e57a6"/>
<rect x="573.40" y="455.45" width="29.70" height="16.62" fill="#3e57a6"/>
<rect x="573.40" y="472.07" width="29.70" height="16.62" fill="#3e57a6"/>
<rect x="603.10" y="400.20" width="29.70" height="15.90" fill="#06a66e"/>
<rect x="603.10" y="422.20" width="29.70" height="16.62" fill="#3e57a6"/>
<rect x="603.10" y="438.82" width="29.70" height="16.62" fill="#3e57a6"/>
<rect x="603.10" y="455.45" width="29.70" height="16.62" fill="#3e57a6"/>
<rect x="603.10" y="472.07" width="29.70" height="16.62" fill="#3e57a6"/>
<line x1="573.40" y1="400.20" x2="573.40" y2="416.10" stroke="#fff" stroke-width="1.0"/>
<line x1="573.40" y1="422.20" x2="573.40" y2="488.70" stroke="#fff" stroke-width="1.0"/>
<line x1="603.10" y1="400.20" x2="603.10" y2="416.10" stroke="#fff" stroke-width="1.0"/>
<line x1="603.10" y1="422.20" x2="603.10" y2="488.70" stroke="#fff" stroke-width="1.0"/>
<line x1="543.70" y1="438.82" x2="632.80" y2="438.82" stroke="#fff" stroke-width="1.0"/>
<line x1="543.70" y1="455.45" x2="632.80" y2="455.45" stroke="#fff" stroke-width="1.0"/>
<line x1="543.70" y1="472.07" x2="632.80" y2="472.07" stroke="#fff" stroke-width="1.0"/>
<line x1="38.00" y1="408.15" x2="42.60" y2="408.15" stroke="#000" stroke-width="1.1"/>
<line x1="38.00" y1="430.51" x2="42.60" y2="430.51" stroke="#000" stroke-width="1.1"/>
<line x1="38.00" y1="447.14" x2="42.60" y2="447.14" stroke="#000" stroke-width="1.1"/>
<line x1="38.00" y1="463.76" x2="42.60" y2="463.76" stroke="#000" stroke-width="1.1"/>
<line x1="38.00" y1="480.39" x2="42.60" y2="480.39" stroke="#000" stroke-width="1.1"/>
<text x="34.90" y="405.20" font-size="9.6" text-anchor="end" transform="rotate(-30 34.90 405.20)">Made</text>
<text x="40.60" y="414.40" font-size="9.6" text-anchor="end" transform="rotate(-30 40.60 414.40)">Previously</text>
<text x="36.40" y="433.11" font-size="9.6" text-anchor="end" transform="rotate(-30 36.40 433.11)">Max</text>
<text x="36.40" y="449.74" font-size="9.6" text-anchor="end" transform="rotate(-30 36.40 449.74)">Mean</text>
<text x="36.40" y="466.36" font-size="9.6" text-anchor="end" transform="rotate(-30 36.40 466.36)">Median</text>
<text x="36.40" y="482.99" font-size="9.6" text-anchor="end" transform="rotate(-30 36.40 482.99)">Min</text>
<line x1="52.59" y1="489.70" x2="52.59" y2="494.50" stroke="#000" stroke-width="1.1"/>
<text x="51.19" y="503.90" font-size="9.5" text-anchor="end" transform="rotate(-45 51.19 503.90)">Glut</text>
<line x1="79.96" y1="489.70" x2="79.96" y2="494.50" stroke="#000" stroke-width="1.1"/>
<text x="78.56" y="503.90" font-size="9.5" text-anchor="end" transform="rotate(-45 78.56 503.90)">Neu</text>
<line x1="107.13" y1="489.70" x2="107.13" y2="494.50" stroke="#000" stroke-width="1.1"/>
<text x="105.73" y="503.90" font-size="9.5" text-anchor="end" transform="rotate(-45 105.73 503.90)">OR1D2</text>
<line x1="134.10" y1="489.70" x2="134.10" y2="494.50" stroke="#000" stroke-width="1.1"/>
<text x="132.70" y="503.90" font-size="9.5" text-anchor="end" transform="rotate(-45 132.70 503.90)">FFAR4</text>
<line x1="160.97" y1="489.70" x2="160.97" y2="494.50" stroke="#000" stroke-width="1.1"/>
<text x="159.57" y="503.90" font-size="9.5" text-anchor="end" transform="rotate(-45 159.57 503.90)">B3AR</text>
<line x1="187.85" y1="489.70" x2="187.85" y2="494.50" stroke="#000" stroke-width="1.1"/>
<text x="186.45" y="503.90" font-size="9.5" text-anchor="end" transform="rotate(-45 186.45 503.90)">CD81</text>
<line x1="215.52" y1="489.70" x2="215.52" y2="494.50" stroke="#000" stroke-width="1.1"/>
<text x="214.12" y="503.90" font-size="9.5" text-anchor="end" transform="rotate(-45 214.12 503.90)">CD63</text>
<line x1="239.49" y1="489.70" x2="239.49" y2="494.50" stroke="#000" stroke-width="1.1"/>
<text x="238.09" y="503.90" font-size="9.5" text-anchor="end" transform="rotate(-45 238.09 503.90)">Vol</text>
<line x1="265.56" y1="489.70" x2="265.56" y2="494.50" stroke="#000" stroke-width="1.1"/>
<text x="264.16" y="503.90" font-size="9.5" text-anchor="end" transform="rotate(-45 264.16 503.90)">SecYE-G</text>
<line x1="294.04" y1="489.70" x2="294.04" y2="494.50" stroke="#000" stroke-width="1.1"/>
<text x="292.64" y="503.90" font-size="9.5" text-anchor="end" transform="rotate(-45 292.64 503.90)">OR1A1</text>
<line x1="321.31" y1="489.70" x2="321.31" y2="494.50" stroke="#000" stroke-width="1.1"/>
<text x="319.91" y="503.90" font-size="9.5" text-anchor="end" transform="rotate(-45 319.91 503.90)">MtlA</text>
<line x1="347.38" y1="489.70" x2="347.38" y2="494.50" stroke="#000" stroke-width="1.1"/>
<text x="345.98" y="503.90" font-size="9.5" text-anchor="end" transform="rotate(-45 345.98 503.90)">CD9</text>
<line x1="373.75" y1="489.70" x2="373.75" y2="494.50" stroke="#000" stroke-width="1.1"/>
<text x="372.35" y="503.90" font-size="9.5" text-anchor="end" transform="rotate(-45 372.35 503.90)">Aux</text>
<line x1="400.22" y1="489.70" x2="400.22" y2="494.50" stroke="#000" stroke-width="1.1"/>
<text x="398.82" y="503.90" font-size="9.5" text-anchor="end" transform="rotate(-45 398.82 503.90)">InP</text>
<line x1="426.70" y1="489.70" x2="426.70" y2="494.50" stroke="#000" stroke-width="1.1"/>
<text x="425.30" y="503.90" font-size="9.5" text-anchor="end" transform="rotate(-45 425.30 503.90)">Mol</text>
<line x1="453.27" y1="489.70" x2="453.27" y2="494.50" stroke="#000" stroke-width="1.1"/>
<text x="451.87" y="503.90" font-size="9.5" text-anchor="end" transform="rotate(-45 451.87 503.90)">Dia</text>
<line x1="480.44" y1="489.70" x2="480.44" y2="494.50" stroke="#000" stroke-width="1.1"/>
<text x="479.04" y="503.90" font-size="9.5" text-anchor="end" transform="rotate(-45 479.04 503.90)">CD47</text>
<line x1="505.51" y1="489.70" x2="505.51" y2="494.50" stroke="#000" stroke-width="1.1"/>
<text x="504.11" y="503.90" font-size="9.5" text-anchor="end" transform="rotate(-45 504.11 503.90)">Beta</text>
<line x1="557.75" y1="489.70" x2="557.75" y2="494.90" stroke="#000" stroke-width="1.1"/>
<text x="556.35" y="503.90" font-size="9.5" text-anchor="end" transform="rotate(-45 556.35 503.90)">Mito</text>
<line x1="587.45" y1="489.70" x2="587.45" y2="494.90" stroke="#000" stroke-width="1.1"/>
<text x="586.05" y="503.90" font-size="9.5" text-anchor="end" transform="rotate(-45 586.05 503.90)">AqpZ</text>
<line x1="617.15" y1="489.70" x2="617.15" y2="494.90" stroke="#000" stroke-width="1.1"/>
<text x="615.75" y="503.90" font-size="9.5" text-anchor="end" transform="rotate(-45 615.75 503.90)">MscL</text>
<rect x="637.10" y="370.00" width="6.70" height="11.50" fill="#06a66e"/>
<text x="646.40" y="378.70" font-size="7.9">Successful</text>
<rect x="637.10" y="386.20" width="6.70" height="11.50" fill="#231f20"/>
<text x="646.40" y="395.00" font-size="7.9">Failed</text>
<rect x="637.10" y="402.10" width="6.70" height="11.50" fill="#cdd3da"/>
<text x="646.40" y="410.50" font-size="7.9">Untested</text>
<defs><linearGradient id="cw" x1="0" y1="0" x2="0" y2="1"><stop offset="0" stop-color="#3b4fa8"/><stop offset="0.25" stop-color="#89a6d6"/><stop offset="0.5" stop-color="#dcdcdc"/><stop offset="0.75" stop-color="#eea58a"/><stop offset="1" stop-color="#c0212f"/></linearGradient><linearGradient id="vir" x1="0" y1="1" x2="0" y2="0"><stop offset="0" stop-color="#3b0f50"/><stop offset="0.2" stop-color="#3f4a8f"/><stop offset="0.4" stop-color="#23768c"/><stop offset="0.6" stop-color="#0a9c80"/><stop offset="0.75" stop-color="#3daf6e"/><stop offset="0.88" stop-color="#9fc845"/><stop offset="1" stop-color="#f2e52a"/></linearGradient></defs>
<rect x="638.20" y="420.60" width="5.90" height="69.20" fill="url(#cw)"/>
<line x1="644.10" y1="421.70" x2="648.30" y2="421.70" stroke="#000" stroke-width="1.1"/>
<text x="651.00" y="425.30" font-size="10" font-weight="bold">1</text>
<line x1="644.10" y1="456.20" x2="648.30" y2="456.20" stroke="#000" stroke-width="1.1"/>
<text x="651.00" y="459.80" font-size="10" font-weight="bold">0</text>
<line x1="644.10" y1="488.70" x2="648.30" y2="488.70" stroke="#000" stroke-width="1.1"/>
<text x="649.50" y="492.30" font-size="10" font-weight="bold">-1</text>
<text x="661.30" y="420.80" font-size="9.0" transform="rotate(90 661.30 420.80)">Difference (pmol)</text>
<text x="7.60" y="540.60" font-size="20" font-weight="bold">D</text>
<rect x="61.6" y="537.1" width="92.0" height="90.5" rx="2.5" fill="#fff" stroke="#e8283a" stroke-width="3.1"/>
<rect x="63.70" y="538.90" width="88.50" height="87.60" fill="none" stroke="#000" stroke-width="1.0"/>
<line x1="57.20" y1="612.30" x2="61.00" y2="612.30" stroke="#000" stroke-width="1.1"/>
<text x="55.00" y="615.70" font-size="9.3" text-anchor="end">0.0</text>
<line x1="78.30" y1="629.20" x2="78.30" y2="633.20" stroke="#000" stroke-width="1.1"/>
<text x="78.30" y="643.60" font-size="9.3" text-anchor="middle">0.0</text>
<line x1="57.20" y1="582.85" x2="61.00" y2="582.85" stroke="#000" stroke-width="1.1"/>
<text x="55.00" y="586.25" font-size="9.3" text-anchor="end">0.5</text>
<line x1="108.10" y1="629.20" x2="108.10" y2="633.20" stroke="#000" stroke-width="1.1"/>
<text x="108.10" y="643.60" font-size="9.3" text-anchor="middle">0.5</text>
<line x1="57.20" y1="553.40" x2="61.00" y2="553.40" stroke="#000" stroke-width="1.1"/>
<text x="55.00" y="556.80" font-size="9.3" text-anchor="end">1.0</text>
<line x1="137.90" y1="629.20" x2="137.90" y2="633.20" stroke="#000" stroke-width="1.1"/>
<text x="137.90" y="643.60" font-size="9.3" text-anchor="middle">1.0</text>
<text x="106.30" y="656.00" font-size="9.3" text-anchor="middle">Normalized K Conc</text>
<text x="36.50" y="581.20" font-size="9.3" text-anchor="middle" transform="rotate(-90 36.50 581.20)">Scaled ΔYield</text>
<circle cx="78.3" cy="604.6" r="4.2" fill="#000"/>
<circle cx="137.9" cy="553.4" r="4.2" fill="#000"/>
<line x1="71.30" y1="597.10" x2="132.00" y2="546.90" stroke="#444" stroke-width="0.9"/>
<line x1="70.03" y1="595.56" x2="72.57" y2="598.64" stroke="#444" stroke-width="0.9"/>
<line x1="130.73" y1="545.36" x2="133.27" y2="548.44" stroke="#444" stroke-width="0.9"/>
<text x="98.00" y="572.20" font-size="10.8" text-anchor="middle" transform="rotate(-39.5913648521676 98.00 572.20)">Distance</text>
<text x="137.90" y="571.20" font-size="9.3" text-anchor="middle">Best</text>
<text x="88.80" y="622.00" font-size="9.3" text-anchor="middle">“Standard”</text>
<rect x="202.20" y="534.90" width="21.17" height="16.54" fill="#9dc745"/>
<rect x="202.20" y="551.44" width="21.17" height="16.54" fill="#0a8288"/>
<rect x="202.20" y="567.98" width="21.17" height="16.54" fill="#9dc745"/>
<rect x="202.20" y="584.52" width="21.17" height="16.54" fill="#9dc745"/>
<rect x="202.20" y="601.06" width="21.17" height="16.54" fill="#9dc745"/>
<rect x="223.37" y="534.90" width="21.17" height="16.54" fill="#d2df3a"/>
<rect x="223.37" y="551.44" width="21.17" height="16.54" fill="#08a56c"/>
<rect x="223.37" y="567.98" width="21.17" height="16.54" fill="#d0df3a"/>
<rect x="223.37" y="584.52" width="21.17" height="16.54" fill="#0c9a7a"/>
<rect x="223.37" y="601.06" width="21.17" height="16.54" fill="#d2df3a"/>
<rect x="244.53" y="534.90" width="21.17" height="16.54" fill="#4fae6c"/>
<rect x="244.53" y="551.44" width="21.17" height="16.54" fill="#08a070"/>
<rect x="244.53" y="567.98" width="21.17" height="16.54" fill="#e5e02e"/>
<rect x="244.53" y="584.52" width="21.17" height="16.54" fill="#07a070"/>
<rect x="244.53" y="601.06" width="21.17" height="16.54" fill="#07a070"/>
<rect x="265.70" y="534.90" width="21.17" height="16.54" fill="#3a0f4b"/>
<rect x="265.70" y="551.44" width="21.17" height="16.54" fill="#3a0f4b"/>
<rect x="265.70" y="567.98" width="21.17" height="16.54" fill="#3a0f4b"/>
<rect x="265.70" y="584.52" width="21.17" height="16.54" fill="#3a0f4b"/>
<rect x="265.70" y="601.06" width="21.17" height="16.54" fill="#3a0f4b"/>
<rect x="286.87" y="534.90" width="21.17" height="16.54" fill="#3d5196"/>
<rect x="286.87" y="551.44" width="21.17" height="16.54" fill="#3e5196"/>
<rect x="286.87" y="567.98" width="21.17" height="16.54" fill="#137a86"/>
<rect x="286.87" y="584.52" width="21.17" height="16.54" fill="#3e5196"/>
<rect x="286.87" y="601.06" width="21.17" height="16.54" fill="#6cb866"/>
<rect x="308.03" y="534.90" width="21.17" height="16.54" fill="#c8dc3c"/>
<rect x="308.03" y="551.44" width="21.17" height="16.54" fill="#1aa870"/>
<rect x="308.03" y="567.98" width="21.17" height="16.54" fill="#c8dc3c"/>
<rect x="308.03" y="584.52" width="21.17" height="16.54" fill="#0c9a7a"/>
<rect x="308.03" y="601.06" width="21.17" height="16.54" fill="#0c9a7a"/>
<rect x="329.20" y="534.90" width="21.17" height="16.54" fill="#0a8a82"/>
<rect x="329.20" y="551.44" width="21.17" height="16.54" fill="#0a8585"/>
<rect x="329.20" y="567.98" width="21.17" height="16.54" fill="#a8c94a"/>
<rect x="329.20" y="584.52" width="21.17" height="16.54" fill="#0a8585"/>
<rect x="329.20" y="601.06" width="21.17" height="16.54" fill="#0a8585"/>
<rect x="350.37" y="534.90" width="21.17" height="16.54" fill="#d5df3c"/>
<rect x="350.37" y="551.44" width="21.17" height="16.54" fill="#06a070"/>
<rect x="350.37" y="567.98" width="21.17" height="16.54" fill="#d5df3c"/>
<rect x="350.37" y="584.52" width="21.17" height="16.54" fill="#45ab70"/>
<rect x="350.37" y="601.06" width="21.17" height="16.54" fill="#07a072"/>
<rect x="371.53" y="534.90" width="21.17" height="16.54" fill="#8dc153"/>
<rect x="371.53" y="551.44" width="21.17" height="16.54" fill="#0e7a88"/>
<rect x="371.53" y="567.98" width="21.17" height="16.54" fill="#0c9078"/>
<rect x="371.53" y="584.52" width="21.17" height="16.54" fill="#0e7a88"/>
<rect x="371.53" y="601.06" width="21.17" height="16.54" fill="#0e7a88"/>
<rect x="392.70" y="534.90" width="21.17" height="16.54" fill="#f5e525"/>
<rect x="392.70" y="551.44" width="21.17" height="16.54" fill="#66b46a"/>
<rect x="392.70" y="567.98" width="21.17" height="16.54" fill="#f5e525"/>
<rect x="392.70" y="584.52" width="21.17" height="16.54" fill="#12a86e"/>
<rect x="392.70" y="601.06" width="21.17" height="16.54" fill="#12a86e"/>
<rect x="413.87" y="534.90" width="21.17" height="16.54" fill="#82bd58"/>
<rect x="413.87" y="551.44" width="21.17" height="16.54" fill="#0a8a84"/>
<rect x="413.87" y="567.98" width="21.17" height="16.54" fill="#256f8e"/>
<rect x="413.87" y="584.52" width="21.17" height="16.54" fill="#256f8e"/>
<rect x="413.87" y="601.06" width="21.17" height="16.54" fill="#256f8e"/>
<rect x="435.03" y="534.90" width="21.17" height="16.54" fill="#3aaa70"/>
<rect x="435.03" y="551.44" width="21.17" height="16.54" fill="#0c9a7a"/>
<rect x="435.03" y="567.98" width="21.17" height="16.54" fill="#3aaa70"/>
<rect x="435.03" y="584.52" width="21.17" height="16.54" fill="#0c9a7a"/>
<rect x="435.03" y="601.06" width="21.17" height="16.54" fill="#d0dc3a"/>
<rect x="456.20" y="534.90" width="21.17" height="16.54" fill="#12a86e"/>
<rect x="456.20" y="551.44" width="21.17" height="16.54" fill="#5fb26a"/>
<rect x="456.20" y="567.98" width="21.17" height="16.54" fill="#5fb26a"/>
<rect x="456.20" y="584.52" width="21.17" height="16.54" fill="#12a86e"/>
<rect x="456.20" y="601.06" width="21.17" height="16.54" fill="#f5e525"/>
<rect x="477.37" y="534.90" width="21.17" height="16.54" fill="#0a8a82"/>
<rect x="477.37" y="551.44" width="21.17" height="16.54" fill="#0a8a82"/>
<rect x="477.37" y="567.98" width="21.17" height="16.54" fill="#b2cf45"/>
<rect x="477.37" y="584.52" width="21.17" height="16.54" fill="#0a8a82"/>
<rect x="477.37" y="601.06" width="21.17" height="16.54" fill="#b2cf45"/>
<rect x="498.53" y="534.90" width="21.17" height="16.54" fill="#0a8a82"/>
<rect x="498.53" y="551.44" width="21.17" height="16.54" fill="#0c9478"/>
<rect x="498.53" y="567.98" width="21.17" height="16.54" fill="#b2cf45"/>
<rect x="498.53" y="584.52" width="21.17" height="16.54" fill="#0a8a82"/>
<rect x="498.53" y="601.06" width="21.17" height="16.54" fill="#0a8a82"/>
<rect x="519.70" y="534.90" width="21.17" height="16.54" fill="#f5e525"/>
<rect x="519.70" y="551.44" width="21.17" height="16.54" fill="#5fb26a"/>
<rect x="519.70" y="567.98" width="21.17" height="16.54" fill="#f5e525"/>
<rect x="519.70" y="584.52" width="21.17" height="16.54" fill="#0aa06e"/>
<rect x="519.70" y="601.06" width="21.17" height="16.54" fill="#0aa06e"/>
<rect x="540.87" y="534.90" width="21.17" height="16.54" fill="#9dc745"/>
<rect x="540.87" y="551.44" width="21.17" height="16.54" fill="#07a070"/>
<rect x="540.87" y="567.98" width="21.17" height="16.54" fill="#9dc745"/>
<rect x="540.87" y="584.52" width="21.17" height="16.54" fill="#0a8585"/>
<rect x="540.87" y="601.06" width="21.17" height="16.54" fill="#0a8a82"/>
<rect x="562.03" y="534.90" width="21.17" height="16.54" fill="#9dc745"/>
<rect x="562.03" y="551.44" width="21.17" height="16.54" fill="#0a9078"/>
<rect x="562.03" y="567.98" width="21.17" height="16.54" fill="#9dc745"/>
<rect x="562.03" y="584.52" width="21.17" height="16.54" fill="#08987a"/>
<rect x="562.03" y="601.06" width="21.17" height="16.54" fill="#0a7a88"/>
<rect x="583.20" y="534.90" width="21.17" height="16.54" fill="#f0e228"/>
<rect x="583.20" y="551.44" width="21.17" height="16.54" fill="#07a070"/>
<rect x="583.20" y="567.98" width="21.17" height="16.54" fill="#55ae6c"/>
<rect x="583.20" y="584.52" width="21.17" height="16.54" fill="#07a070"/>
<rect x="583.20" y="601.06" width="21.17" height="16.54" fill="#07a070"/>
<rect x="604.37" y="534.90" width="21.17" height="16.54" fill="#07a070"/>
<rect x="604.37" y="551.44" width="21.17" height="16.54" fill="#07a070"/>
<rect x="604.37" y="567.98" width="21.17" height="16.54" fill="#aac94a"/>
<rect x="604.37" y="584.52" width="21.17" height="16.54" fill="#0a8a82"/>
<rect x="604.37" y="601.06" width="21.17" height="16.54" fill="#0a8a82"/>
<rect x="625.53" y="534.90" width="21.17" height="16.54" fill="#07a070"/>
<rect x="625.53" y="551.44" width="21.17" height="16.54" fill="#07a070"/>
<rect x="625.53" y="567.98" width="21.17" height="16.54" fill="#aac94a"/>
<rect x="625.53" y="584.52" width="21.17" height="16.54" fill="#0a8a82"/>
<rect x="625.53" y="601.06" width="21.17" height="16.54" fill="#0a8a82"/>
<line x1="223.37" y1="534.90" x2="223.37" y2="617.60" stroke="#fff" stroke-width="1.0"/>
<line x1="244.53" y1="534.90" x2="244.53" y2="617.60" stroke="#fff" stroke-width="1.0"/>
<line x1="265.70" y1="534.90" x2="265.70" y2="617.60" stroke="#fff" stroke-width="1.0"/>
<line x1="286.87" y1="534.90" x2="286.87" y2="617.60" stroke="#fff" stroke-width="1.0"/>
<line x1="308.03" y1="534.90" x2="308.03" y2="617.60" stroke="#fff" stroke-width="1.0"/>
<line x1="329.20" y1="534.90" x2="329.20" y2="617.60" stroke="#fff" stroke-width="1.0"/>
<line x1="350.37" y1="534.90" x2="350.37" y2="617.60" stroke="#fff" stroke-width="1.0"/>
<line x1="371.53" y1="534.90" x2="371.53" y2="617.60" stroke="#fff" stroke-width="1.0"/>
<line x1="392.70" y1="534.90" x2="392.70" y2="617.60" stroke="#fff" stroke-width="1.0"/>
<line x1="413.87" y1="534.90" x2="413.87" y2="617.60" stroke="#fff" stroke-width="1.0"/>
<line x1="435.03" y1="534.90" x2="435.03" y2="617.60" stroke="#fff" stroke-width="1.0"/>
<line x1="456.20" y1="534.90" x2="456.20" y2="617.60" stroke="#fff" stroke-width="1.0"/>
<line x1="477.37" y1="534.90" x2="477.37" y2="617.60" stroke="#fff" stroke-width="1.0"/>
<line x1="498.53" y1="534.90" x2="498.53" y2="617.60" stroke="#fff" stroke-width="1.0"/>
<line x1="519.70" y1="534.90" x2="519.70" y2="617.60" stroke="#fff" stroke-width="1.0"/>
<line x1="540.87" y1="534.90" x2="540.87" y2="617.60" stroke="#fff" stroke-width="1.0"/>
<line x1="562.03" y1="534.90" x2="562.03" y2="617.60" stroke="#fff" stroke-width="1.0"/>
<line x1="583.20" y1="534.90" x2="583.20" y2="617.60" stroke="#fff" stroke-width="1.0"/>
<line x1="604.37" y1="534.90" x2="604.37" y2="617.60" stroke="#fff" stroke-width="1.0"/>
<line x1="625.53" y1="534.90" x2="625.53" y2="617.60" stroke="#fff" stroke-width="1.0"/>
<line x1="202.20" y1="551.44" x2="646.70" y2="551.44" stroke="#fff" stroke-width="1.0"/>
<line x1="202.20" y1="567.98" x2="646.70" y2="567.98" stroke="#fff" stroke-width="1.0"/>
<line x1="202.20" y1="584.52" x2="646.70" y2="584.52" stroke="#fff" stroke-width="1.0"/>
<line x1="202.20" y1="601.06" x2="646.70" y2="601.06" stroke="#fff" stroke-width="1.0"/>
<line x1="196.10" y1="543.17" x2="200.90" y2="543.17" stroke="#000" stroke-width="1.1"/>
<text x="190.80" y="545.57" font-size="9.3" text-anchor="end">K</text>
<line x1="196.10" y1="559.71" x2="200.90" y2="559.71" stroke="#000" stroke-width="1.1"/>
<text x="190.80" y="562.11" font-size="9.3" text-anchor="end">Mg</text>
<line x1="196.10" y1="576.25" x2="200.90" y2="576.25" stroke="#000" stroke-width="1.1"/>
<text x="190.80" y="578.65" font-size="9.3" text-anchor="end">PEG</text>
<line x1="196.10" y1="592.79" x2="200.90" y2="592.79" stroke="#000" stroke-width="1.1"/>
<text x="190.80" y="595.19" font-size="9.3" text-anchor="end">SecYE</text>
<line x1="196.10" y1="609.33" x2="200.90" y2="609.33" stroke="#000" stroke-width="1.1"/>
<text x="190.80" y="611.73" font-size="9.3" text-anchor="end">lipid</text>
<line x1="212.78" y1="618.60" x2="212.78" y2="623.00" stroke="#000" stroke-width="1.1"/>
<text x="212.38" y="633.60" font-size="9.5" text-anchor="end" transform="rotate(-45 212.38 633.60)">Glut</text>
<line x1="233.95" y1="618.60" x2="233.95" y2="623.00" stroke="#000" stroke-width="1.1"/>
<text x="233.55" y="633.60" font-size="9.5" text-anchor="end" transform="rotate(-45 233.55 633.60)">Neu</text>
<line x1="255.12" y1="618.60" x2="255.12" y2="623.00" stroke="#000" stroke-width="1.1"/>
<text x="254.72" y="633.60" font-size="9.5" text-anchor="end" transform="rotate(-45 254.72 633.60)">OR1D2</text>
<line x1="276.28" y1="618.60" x2="276.28" y2="623.00" stroke="#000" stroke-width="1.1"/>
<text x="275.88" y="633.60" font-size="9.5" text-anchor="end" transform="rotate(-45 275.88 633.60)">FFAR4</text>
<line x1="297.45" y1="618.60" x2="297.45" y2="623.00" stroke="#000" stroke-width="1.1"/>
<text x="297.05" y="633.60" font-size="9.5" text-anchor="end" transform="rotate(-45 297.05 633.60)">B3AR</text>
<line x1="318.62" y1="618.60" x2="318.62" y2="623.00" stroke="#000" stroke-width="1.1"/>
<text x="318.22" y="633.60" font-size="9.5" text-anchor="end" transform="rotate(-45 318.22 633.60)">CD81</text>
<line x1="339.78" y1="618.60" x2="339.78" y2="623.00" stroke="#000" stroke-width="1.1"/>
<text x="339.38" y="633.60" font-size="9.5" text-anchor="end" transform="rotate(-45 339.38 633.60)">CD63</text>
<line x1="360.95" y1="618.60" x2="360.95" y2="623.00" stroke="#000" stroke-width="1.1"/>
<text x="360.55" y="633.60" font-size="9.5" text-anchor="end" transform="rotate(-45 360.55 633.60)">SecYE-G</text>
<line x1="382.12" y1="618.60" x2="382.12" y2="623.00" stroke="#000" stroke-width="1.1"/>
<text x="381.72" y="633.60" font-size="9.5" text-anchor="end" transform="rotate(-45 381.72 633.60)">Vol</text>
<line x1="403.28" y1="618.60" x2="403.28" y2="623.00" stroke="#000" stroke-width="1.1"/>
<text x="402.88" y="633.60" font-size="9.5" text-anchor="end" transform="rotate(-45 402.88 633.60)">OR1A1</text>
<line x1="424.45" y1="618.60" x2="424.45" y2="623.00" stroke="#000" stroke-width="1.1"/>
<text x="424.05" y="633.60" font-size="9.5" text-anchor="end" transform="rotate(-45 424.05 633.60)">MtlA</text>
<line x1="445.62" y1="618.60" x2="445.62" y2="623.00" stroke="#000" stroke-width="1.1"/>
<text x="445.22" y="633.60" font-size="9.5" text-anchor="end" transform="rotate(-45 445.22 633.60)">CD9</text>
<line x1="466.78" y1="618.60" x2="466.78" y2="623.00" stroke="#000" stroke-width="1.1"/>
<text x="466.38" y="633.60" font-size="9.5" text-anchor="end" transform="rotate(-45 466.38 633.60)">Aux</text>
<line x1="487.95" y1="618.60" x2="487.95" y2="623.00" stroke="#000" stroke-width="1.1"/>
<text x="487.55" y="633.60" font-size="9.5" text-anchor="end" transform="rotate(-45 487.55 633.60)">InP</text>
<line x1="509.12" y1="618.60" x2="509.12" y2="623.00" stroke="#000" stroke-width="1.1"/>
<text x="508.72" y="633.60" font-size="9.5" text-anchor="end" transform="rotate(-45 508.72 633.60)">Mol</text>
<line x1="530.28" y1="618.60" x2="530.28" y2="623.00" stroke="#000" stroke-width="1.1"/>
<text x="529.88" y="633.60" font-size="9.5" text-anchor="end" transform="rotate(-45 529.88 633.60)">Dia</text>
<line x1="551.45" y1="618.60" x2="551.45" y2="623.00" stroke="#000" stroke-width="1.1"/>
<text x="551.05" y="633.60" font-size="9.5" text-anchor="end" transform="rotate(-45 551.05 633.60)">CD47</text>
<line x1="572.62" y1="618.60" x2="572.62" y2="623.00" stroke="#000" stroke-width="1.1"/>
<text x="572.22" y="633.60" font-size="9.5" text-anchor="end" transform="rotate(-45 572.22 633.60)">Beta</text>
<line x1="593.78" y1="618.60" x2="593.78" y2="623.00" stroke="#000" stroke-width="1.1"/>
<text x="593.38" y="633.60" font-size="9.5" text-anchor="end" transform="rotate(-45 593.38 633.60)">Mito</text>
<line x1="614.95" y1="618.60" x2="614.95" y2="623.00" stroke="#000" stroke-width="1.1"/>
<text x="614.55" y="633.60" font-size="9.5" text-anchor="end" transform="rotate(-45 614.55 633.60)">AqpZ</text>
<line x1="636.12" y1="618.60" x2="636.12" y2="623.00" stroke="#000" stroke-width="1.1"/>
<text x="635.72" y="633.60" font-size="9.5" text-anchor="end" transform="rotate(-45 635.72 633.60)">MscL</text>
<rect x="518.9" y="533.9" width="23.0" height="18.3" rx="2.5" fill="none" stroke="#e0202f" stroke-width="2.8"/>
<rect x="651.80" y="534.30" width="4.10" height="88.40" fill="url(#vir)"/>
<line x1="655.90" y1="564.80" x2="660.00" y2="564.80" stroke="#000" stroke-width="1.1"/>
<text x="660.60" y="568.20" font-size="9.5">1.0</text>
<line x1="655.90" y1="603.10" x2="660.00" y2="603.10" stroke="#000" stroke-width="1.1"/>
<text x="660.60" y="606.50" font-size="9.5">0.5</text>
<text x="676.30" y="530.50" font-size="9.4" transform="rotate(90 676.30 530.50)">Distance from standard</text>
</svg></body></html>
